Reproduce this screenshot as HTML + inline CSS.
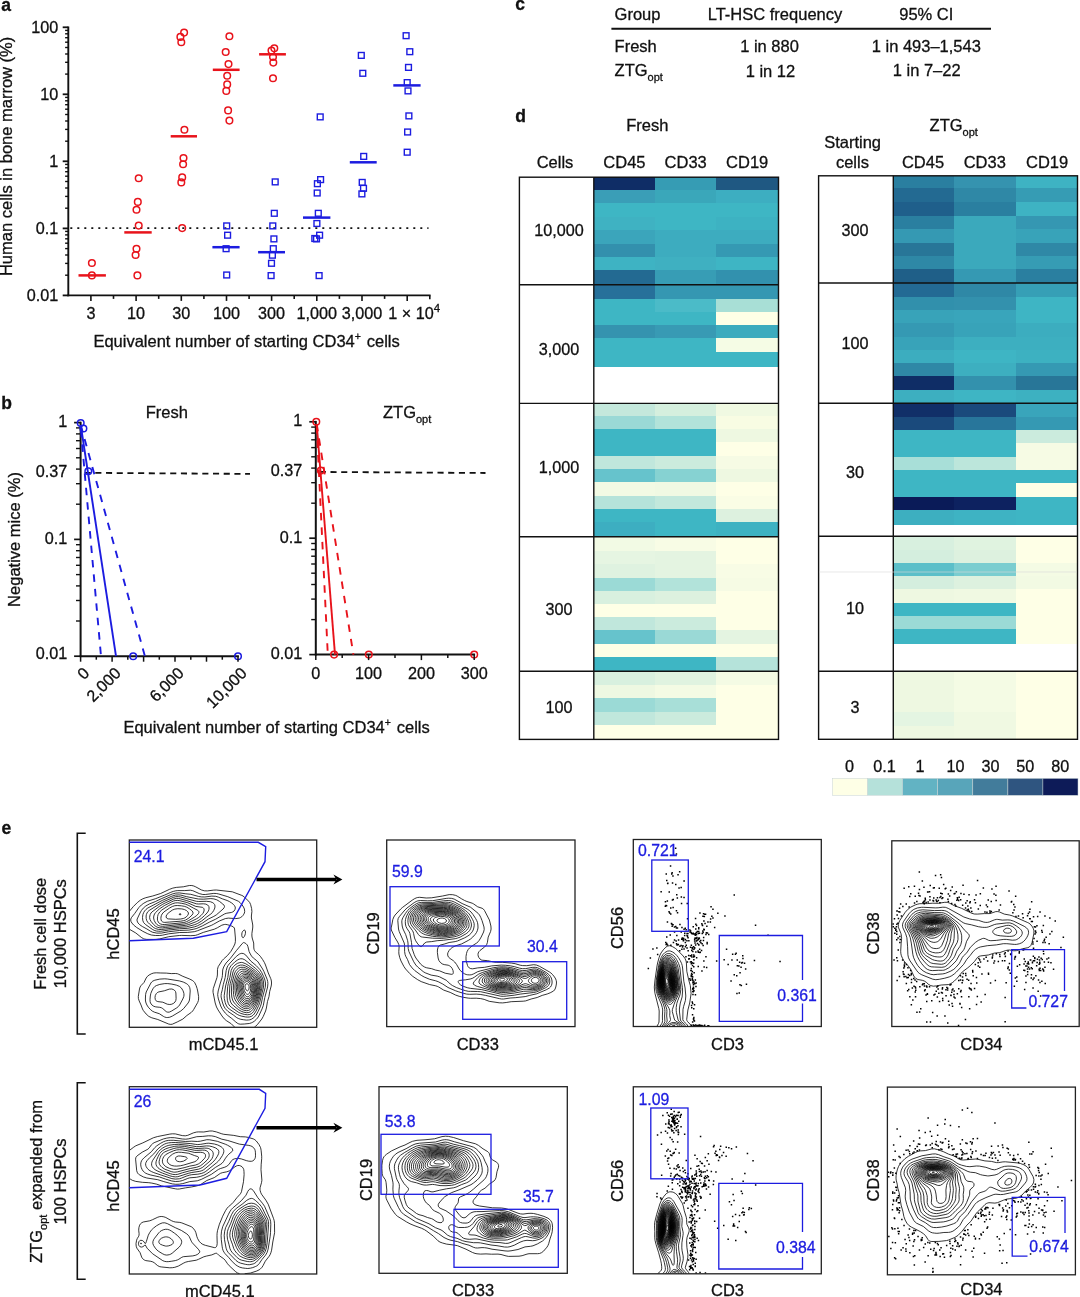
<!DOCTYPE html>
<html><head><meta charset="utf-8"><title>Figure</title>
<style>html,body{margin:0;padding:0;background:#fff}svg{display:block}text{font-family:"Liberation Sans",sans-serif;stroke-width:.3px}</style>
</head><body>
<svg width="1080" height="1297" viewBox="0 0 1080 1297">
<rect width="1080" height="1297" fill="#fff"/>
<g id="panel-a">
<text x="1.3" y="10.5" font-size="17.5" text-anchor="start" fill="#111" font-weight="bold"  stroke="#111">a</text>
<line x1="68.3" y1="26.4" x2="68.3" y2="296.3" stroke="#111" stroke-width="1.9" />
<line x1="67.4" y1="295.4" x2="430.6" y2="295.4" stroke="#111" stroke-width="1.9" />
<line x1="62.7" y1="27.3" x2="68.3" y2="27.3" stroke="#111" stroke-width="1.8" />
<line x1="65.1" y1="74.1" x2="68.3" y2="74.1" stroke="#111" stroke-width="1.4" />
<line x1="65.1" y1="62.3" x2="68.3" y2="62.3" stroke="#111" stroke-width="1.4" />
<line x1="65.1" y1="54" x2="68.3" y2="54" stroke="#111" stroke-width="1.4" />
<line x1="65.1" y1="47.5" x2="68.3" y2="47.5" stroke="#111" stroke-width="1.4" />
<line x1="65.1" y1="42.2" x2="68.3" y2="42.2" stroke="#111" stroke-width="1.4" />
<line x1="65.1" y1="37.7" x2="68.3" y2="37.7" stroke="#111" stroke-width="1.4" />
<line x1="65.1" y1="33.8" x2="68.3" y2="33.8" stroke="#111" stroke-width="1.4" />
<line x1="65.1" y1="30.4" x2="68.3" y2="30.4" stroke="#111" stroke-width="1.4" />
<line x1="62.7" y1="94.3" x2="68.3" y2="94.3" stroke="#111" stroke-width="1.8" />
<line x1="65.1" y1="141.2" x2="68.3" y2="141.2" stroke="#111" stroke-width="1.4" />
<line x1="65.1" y1="129.4" x2="68.3" y2="129.4" stroke="#111" stroke-width="1.4" />
<line x1="65.1" y1="121" x2="68.3" y2="121" stroke="#111" stroke-width="1.4" />
<line x1="65.1" y1="114.5" x2="68.3" y2="114.5" stroke="#111" stroke-width="1.4" />
<line x1="65.1" y1="109.2" x2="68.3" y2="109.2" stroke="#111" stroke-width="1.4" />
<line x1="65.1" y1="104.7" x2="68.3" y2="104.7" stroke="#111" stroke-width="1.4" />
<line x1="65.1" y1="100.8" x2="68.3" y2="100.8" stroke="#111" stroke-width="1.4" />
<line x1="65.1" y1="97.4" x2="68.3" y2="97.4" stroke="#111" stroke-width="1.4" />
<line x1="62.7" y1="161.3" x2="68.3" y2="161.3" stroke="#111" stroke-width="1.8" />
<line x1="65.1" y1="208.2" x2="68.3" y2="208.2" stroke="#111" stroke-width="1.4" />
<line x1="65.1" y1="196.4" x2="68.3" y2="196.4" stroke="#111" stroke-width="1.4" />
<line x1="65.1" y1="188" x2="68.3" y2="188" stroke="#111" stroke-width="1.4" />
<line x1="65.1" y1="181.5" x2="68.3" y2="181.5" stroke="#111" stroke-width="1.4" />
<line x1="65.1" y1="176.2" x2="68.3" y2="176.2" stroke="#111" stroke-width="1.4" />
<line x1="65.1" y1="171.7" x2="68.3" y2="171.7" stroke="#111" stroke-width="1.4" />
<line x1="65.1" y1="167.8" x2="68.3" y2="167.8" stroke="#111" stroke-width="1.4" />
<line x1="65.1" y1="164.4" x2="68.3" y2="164.4" stroke="#111" stroke-width="1.4" />
<line x1="62.7" y1="228.4" x2="68.3" y2="228.4" stroke="#111" stroke-width="1.8" />
<line x1="65.1" y1="275.2" x2="68.3" y2="275.2" stroke="#111" stroke-width="1.4" />
<line x1="65.1" y1="263.4" x2="68.3" y2="263.4" stroke="#111" stroke-width="1.4" />
<line x1="65.1" y1="255" x2="68.3" y2="255" stroke="#111" stroke-width="1.4" />
<line x1="65.1" y1="248.6" x2="68.3" y2="248.6" stroke="#111" stroke-width="1.4" />
<line x1="65.1" y1="243.2" x2="68.3" y2="243.2" stroke="#111" stroke-width="1.4" />
<line x1="65.1" y1="238.8" x2="68.3" y2="238.8" stroke="#111" stroke-width="1.4" />
<line x1="65.1" y1="234.9" x2="68.3" y2="234.9" stroke="#111" stroke-width="1.4" />
<line x1="65.1" y1="231.4" x2="68.3" y2="231.4" stroke="#111" stroke-width="1.4" />
<line x1="62.7" y1="295.4" x2="68.3" y2="295.4" stroke="#111" stroke-width="1.8" />
<text x="58.2" y="32.7" font-size="16.2" text-anchor="end" fill="#111"  stroke="#111">100</text>
<text x="58.2" y="99.7" font-size="16.2" text-anchor="end" fill="#111"  stroke="#111">10</text>
<text x="58.2" y="166.8" font-size="16.2" text-anchor="end" fill="#111"  stroke="#111">1</text>
<text x="58.2" y="233.8" font-size="16.2" text-anchor="end" fill="#111"  stroke="#111">0.1</text>
<text x="58.2" y="300.8" font-size="16.2" text-anchor="end" fill="#111"  stroke="#111">0.01</text>
<line x1="90.9" y1="295.4" x2="90.9" y2="300.9" stroke="#111" stroke-width="1.6" />
<line x1="113.5" y1="295.4" x2="113.5" y2="298.9" stroke="#111" stroke-width="1.6" />
<line x1="136.1" y1="295.4" x2="136.1" y2="300.9" stroke="#111" stroke-width="1.6" />
<line x1="158.7" y1="295.4" x2="158.7" y2="298.9" stroke="#111" stroke-width="1.6" />
<line x1="181.3" y1="295.4" x2="181.3" y2="300.9" stroke="#111" stroke-width="1.6" />
<line x1="203.9" y1="295.4" x2="203.9" y2="298.9" stroke="#111" stroke-width="1.6" />
<line x1="226.5" y1="295.4" x2="226.5" y2="300.9" stroke="#111" stroke-width="1.6" />
<line x1="249.1" y1="295.4" x2="249.1" y2="298.9" stroke="#111" stroke-width="1.6" />
<line x1="271.6" y1="295.4" x2="271.6" y2="300.9" stroke="#111" stroke-width="1.6" />
<line x1="294.2" y1="295.4" x2="294.2" y2="298.9" stroke="#111" stroke-width="1.6" />
<line x1="316.8" y1="295.4" x2="316.8" y2="300.9" stroke="#111" stroke-width="1.6" />
<line x1="339.4" y1="295.4" x2="339.4" y2="298.9" stroke="#111" stroke-width="1.6" />
<line x1="362" y1="295.4" x2="362" y2="300.9" stroke="#111" stroke-width="1.6" />
<line x1="384.6" y1="295.4" x2="384.6" y2="298.9" stroke="#111" stroke-width="1.6" />
<line x1="407.2" y1="295.4" x2="407.2" y2="300.9" stroke="#111" stroke-width="1.6" />
<line x1="429.8" y1="295.4" x2="429.8" y2="299.2" stroke="#111" stroke-width="1.6" />
<text x="90.9" y="319.4" font-size="16.2" text-anchor="middle" fill="#111"  stroke="#111">3</text>
<text x="136.1" y="319.4" font-size="16.2" text-anchor="middle" fill="#111"  stroke="#111">10</text>
<text x="181.3" y="319.4" font-size="16.2" text-anchor="middle" fill="#111"  stroke="#111">30</text>
<text x="226.5" y="319.4" font-size="16.2" text-anchor="middle" fill="#111"  stroke="#111">100</text>
<text x="271.6" y="319.4" font-size="16.2" text-anchor="middle" fill="#111"  stroke="#111">300</text>
<text x="316.8" y="319.4" font-size="16.2" text-anchor="middle" fill="#111"  stroke="#111">1,000</text>
<text x="362" y="319.4" font-size="16.2" text-anchor="middle" fill="#111"  stroke="#111">3,000</text>
<text x="388.3" y="319.4" font-size="16.2" fill="#111" stroke="#111">1 × 10<tspan dy="-7" font-size="11.5">4</tspan></text>
<text x="93.4" y="347.2" font-size="16.5" fill="#111" stroke="#111">Equivalent number of starting CD34<tspan dy="-7" font-size="10.5">+</tspan><tspan dy="7" dx="1.2" font-size="16.5"> cells</tspan></text>
<text transform="translate(12.2 156.4) rotate(-90)" font-size="16.5" text-anchor="middle" fill="#111" stroke="#111">Human cells in bone marrow (%)</text>
<line x1="70.3" y1="228.2" x2="428.5" y2="228.2" stroke="#111" stroke-width="1.8" stroke-dasharray="2 5"/>
<g fill="none" stroke="#e8131b" stroke-width="1.5">
<circle cx="91.9" cy="263" r="3.3"/>
<circle cx="91.9" cy="275.4" r="3.3"/>
<circle cx="138.7" cy="178.3" r="3.3"/>
<circle cx="137.8" cy="201.9" r="3.3"/>
<circle cx="136.5" cy="209.8" r="3.3"/>
<circle cx="138.7" cy="225.6" r="3.3"/>
<circle cx="136.5" cy="248.7" r="3.3"/>
<circle cx="135.6" cy="255" r="3.3"/>
<circle cx="137.4" cy="275.4" r="3.3"/>
<circle cx="184.1" cy="32.6" r="3.3"/>
<circle cx="180.4" cy="36.9" r="3.3"/>
<circle cx="181.3" cy="42.2" r="3.3"/>
<circle cx="184.4" cy="129.8" r="3.3"/>
<circle cx="183.5" cy="158" r="3.3"/>
<circle cx="183.1" cy="164.3" r="3.3"/>
<circle cx="182.2" cy="177.4" r="3.3"/>
<circle cx="181.3" cy="182.4" r="3.3"/>
<circle cx="182.2" cy="228.1" r="3.3"/>
<circle cx="229.4" cy="36.3" r="3.3"/>
<circle cx="225.7" cy="52" r="3.3"/>
<circle cx="228.5" cy="64.1" r="3.3"/>
<circle cx="227.2" cy="75.7" r="3.3"/>
<circle cx="227.2" cy="84.4" r="3.3"/>
<circle cx="226.3" cy="90.9" r="3.3"/>
<circle cx="228.1" cy="110.4" r="3.3"/>
<circle cx="229.4" cy="120.6" r="3.3"/>
<circle cx="274.3" cy="48.3" r="3.3"/>
<circle cx="271.5" cy="50.5" r="3.3"/>
<circle cx="273" cy="57" r="3.3"/>
<circle cx="273.3" cy="62.6" r="3.3"/>
<circle cx="273" cy="78.3" r="3.3"/>
</g>
<line x1="78.5" y1="275.4" x2="105.9" y2="275.4" stroke="#e8131b" stroke-width="2.5" />
<line x1="124.3" y1="232.4" x2="151.7" y2="232.4" stroke="#e8131b" stroke-width="2.5" />
<line x1="170.7" y1="136.3" x2="197" y2="136.3" stroke="#e8131b" stroke-width="2.5" />
<line x1="212.8" y1="69.8" x2="239.6" y2="69.8" stroke="#e8131b" stroke-width="2.5" />
<line x1="259.1" y1="54.3" x2="285.9" y2="54.3" stroke="#e8131b" stroke-width="2.5" />
<g fill="none" stroke="#1c1ce0" stroke-width="1.4">
<rect x="223.8" y="223" width="5.8" height="5.8"/>
<rect x="224.7" y="232.3" width="5.8" height="5.8"/>
<rect x="223.2" y="245.8" width="5.8" height="5.8"/>
<rect x="223.8" y="272.1" width="5.8" height="5.8"/>
<rect x="272.3" y="179" width="5.8" height="5.8"/>
<rect x="271.4" y="210.4" width="5.8" height="5.8"/>
<rect x="269.9" y="223" width="5.8" height="5.8"/>
<rect x="271" y="236" width="5.8" height="5.8"/>
<rect x="270.4" y="245.8" width="5.8" height="5.8"/>
<rect x="269.5" y="252.3" width="5.8" height="5.8"/>
<rect x="268.6" y="260.4" width="5.8" height="5.8"/>
<rect x="268.2" y="272.7" width="5.8" height="5.8"/>
<rect x="317.3" y="114" width="5.8" height="5.8"/>
<rect x="317.7" y="176.7" width="5.8" height="5.8"/>
<rect x="314.5" y="180.8" width="5.8" height="5.8"/>
<rect x="314.3" y="190.1" width="5.8" height="5.8"/>
<rect x="315.4" y="210.4" width="5.8" height="5.8"/>
<rect x="314" y="220.6" width="5.8" height="5.8"/>
<rect x="316.7" y="232.3" width="5.8" height="5.8"/>
<rect x="313.6" y="236" width="5.8" height="5.8"/>
<rect x="311.9" y="235.6" width="5.8" height="5.8"/>
<rect x="316.2" y="272.7" width="5.8" height="5.8"/>
<rect x="358.4" y="52.5" width="5.8" height="5.8"/>
<rect x="359.9" y="70.4" width="5.8" height="5.8"/>
<rect x="360.8" y="153.5" width="5.8" height="5.8"/>
<rect x="359.3" y="179.5" width="5.8" height="5.8"/>
<rect x="360.6" y="185.4" width="5.8" height="5.8"/>
<rect x="359" y="191" width="5.8" height="5.8"/>
<rect x="403.2" y="32.8" width="5.8" height="5.8"/>
<rect x="406.9" y="48.8" width="5.8" height="5.8"/>
<rect x="405.6" y="64.5" width="5.8" height="5.8"/>
<rect x="404.3" y="79.7" width="5.8" height="5.8"/>
<rect x="405.1" y="88" width="5.8" height="5.8"/>
<rect x="406" y="113" width="5.8" height="5.8"/>
<rect x="404.7" y="129.1" width="5.8" height="5.8"/>
<rect x="404.3" y="149.3" width="5.8" height="5.8"/>
</g>
<line x1="212.4" y1="247.2" x2="239.6" y2="247.2" stroke="#1c1ce0" stroke-width="2.5" />
<line x1="258.1" y1="252.2" x2="285" y2="252.2" stroke="#1c1ce0" stroke-width="2.5" />
<line x1="303" y1="217.6" x2="330.4" y2="217.6" stroke="#1c1ce0" stroke-width="2.5" />
<line x1="349.8" y1="162.3" x2="376.7" y2="162.3" stroke="#1c1ce0" stroke-width="2.5" />
<line x1="393.3" y1="85.4" x2="420.6" y2="85.4" stroke="#1c1ce0" stroke-width="2.5" />
</g>
<g id="panel-b">
<text x="1.3" y="408.5" font-size="17.5" text-anchor="start" fill="#111" font-weight="bold"  stroke="#111">b</text>
<line x1="80.6" y1="421.7" x2="80.6" y2="657.1" stroke="#111" stroke-width="2" />
<line x1="79.7" y1="656.2" x2="238.9" y2="656.2" stroke="#111" stroke-width="2" />
<line x1="74.1" y1="422.6" x2="80.6" y2="422.6" stroke="#111" stroke-width="1.7" />
<line x1="76" y1="504.2" x2="80.6" y2="504.2" stroke="#111" stroke-width="1.4" />
<line x1="76" y1="483.7" x2="80.6" y2="483.7" stroke="#111" stroke-width="1.4" />
<line x1="76" y1="469.1" x2="80.6" y2="469.1" stroke="#111" stroke-width="1.4" />
<line x1="76" y1="457.8" x2="80.6" y2="457.8" stroke="#111" stroke-width="1.4" />
<line x1="76" y1="448.5" x2="80.6" y2="448.5" stroke="#111" stroke-width="1.4" />
<line x1="76" y1="440.7" x2="80.6" y2="440.7" stroke="#111" stroke-width="1.4" />
<line x1="76" y1="433.9" x2="80.6" y2="433.9" stroke="#111" stroke-width="1.4" />
<line x1="76" y1="427.9" x2="80.6" y2="427.9" stroke="#111" stroke-width="1.4" />
<line x1="74.1" y1="539.4" x2="80.6" y2="539.4" stroke="#111" stroke-width="1.7" />
<line x1="76" y1="621" x2="80.6" y2="621" stroke="#111" stroke-width="1.4" />
<line x1="76" y1="600.5" x2="80.6" y2="600.5" stroke="#111" stroke-width="1.4" />
<line x1="76" y1="585.9" x2="80.6" y2="585.9" stroke="#111" stroke-width="1.4" />
<line x1="76" y1="574.6" x2="80.6" y2="574.6" stroke="#111" stroke-width="1.4" />
<line x1="76" y1="565.3" x2="80.6" y2="565.3" stroke="#111" stroke-width="1.4" />
<line x1="76" y1="557.5" x2="80.6" y2="557.5" stroke="#111" stroke-width="1.4" />
<line x1="76" y1="550.7" x2="80.6" y2="550.7" stroke="#111" stroke-width="1.4" />
<line x1="76" y1="544.7" x2="80.6" y2="544.7" stroke="#111" stroke-width="1.4" />
<line x1="74.1" y1="656.2" x2="80.6" y2="656.2" stroke="#111" stroke-width="1.7" />
<text x="67.3" y="427" font-size="16.2" text-anchor="end" fill="#111"  stroke="#111">1</text>
<text x="67.3" y="477.2" font-size="16.2" text-anchor="end" fill="#111"  stroke="#111">0.37</text>
<text x="67.3" y="543.8" font-size="16.2" text-anchor="end" fill="#111"  stroke="#111">0.1</text>
<text x="67.3" y="659.2" font-size="16.2" text-anchor="end" fill="#111"  stroke="#111">0.01</text>
<line x1="81.6" y1="472.8" x2="250" y2="473.9" stroke="#111" stroke-width="1.8" stroke-dasharray="6.1 4.6" stroke-dashoffset="-3"/>
<line x1="80.7" y1="425" x2="116" y2="656.2" stroke="#1c1ce0" stroke-width="1.9" />
<line x1="80.9" y1="430" x2="101" y2="656.2" stroke="#1c1ce0" stroke-width="1.9" stroke-dasharray="7.5 7"/>
<line x1="80.7" y1="425" x2="144.9" y2="656.2" stroke="#1c1ce0" stroke-width="1.9" stroke-dasharray="7.5 7"/>
<g fill="none" stroke="#1c1ce0" stroke-width="1.5">
<circle cx="80.7" cy="423" r="3.3"/>
<circle cx="83.4" cy="428.5" r="3.3"/>
<circle cx="88.3" cy="471.2" r="3.3"/>
<circle cx="133.2" cy="656.2" r="3.3"/>
<circle cx="238" cy="656.2" r="3.3"/>
</g>
<line x1="80.6" y1="656.2" x2="80.6" y2="661.7" stroke="#111" stroke-width="1.5" />
<line x1="96.3" y1="656.2" x2="96.3" y2="659.7" stroke="#111" stroke-width="1.5" />
<line x1="112.1" y1="656.2" x2="112.1" y2="661.7" stroke="#111" stroke-width="1.5" />
<line x1="127.8" y1="656.2" x2="127.8" y2="659.7" stroke="#111" stroke-width="1.5" />
<line x1="143.6" y1="656.2" x2="143.6" y2="661.7" stroke="#111" stroke-width="1.5" />
<line x1="159.3" y1="656.2" x2="159.3" y2="659.7" stroke="#111" stroke-width="1.5" />
<line x1="175" y1="656.2" x2="175" y2="661.7" stroke="#111" stroke-width="1.5" />
<line x1="190.8" y1="656.2" x2="190.8" y2="659.7" stroke="#111" stroke-width="1.5" />
<line x1="206.5" y1="656.2" x2="206.5" y2="661.7" stroke="#111" stroke-width="1.5" />
<line x1="222.3" y1="656.2" x2="222.3" y2="659.7" stroke="#111" stroke-width="1.5" />
<line x1="238" y1="656.2" x2="238" y2="661.7" stroke="#111" stroke-width="1.5" />
<text transform="translate(90.4 674.2) rotate(-45)" font-size="16.2" text-anchor="end" fill="#111" stroke="#111">0</text>
<text transform="translate(121.9 674.2) rotate(-45)" font-size="16.2" text-anchor="end" fill="#111" stroke="#111">2,000</text>
<text transform="translate(184.8 674.2) rotate(-45)" font-size="16.2" text-anchor="end" fill="#111" stroke="#111">6,000</text>
<text transform="translate(247.8 674.2) rotate(-45)" font-size="16.2" text-anchor="end" fill="#111" stroke="#111">10,000</text>
<text x="166.8" y="417.8" font-size="16.5" text-anchor="middle" fill="#111"  stroke="#111">Fresh</text>
<line x1="315.8" y1="420.9" x2="315.8" y2="655.5" stroke="#111" stroke-width="2" />
<line x1="314.9" y1="654.6" x2="475.1" y2="654.6" stroke="#111" stroke-width="2" />
<line x1="309.3" y1="421.8" x2="315.8" y2="421.8" stroke="#111" stroke-width="1.7" />
<line x1="311.2" y1="503.2" x2="315.8" y2="503.2" stroke="#111" stroke-width="1.4" />
<line x1="311.2" y1="482.7" x2="315.8" y2="482.7" stroke="#111" stroke-width="1.4" />
<line x1="311.2" y1="468.1" x2="315.8" y2="468.1" stroke="#111" stroke-width="1.4" />
<line x1="311.2" y1="456.8" x2="315.8" y2="456.8" stroke="#111" stroke-width="1.4" />
<line x1="311.2" y1="447.6" x2="315.8" y2="447.6" stroke="#111" stroke-width="1.4" />
<line x1="311.2" y1="439.8" x2="315.8" y2="439.8" stroke="#111" stroke-width="1.4" />
<line x1="311.2" y1="433.1" x2="315.8" y2="433.1" stroke="#111" stroke-width="1.4" />
<line x1="311.2" y1="427.1" x2="315.8" y2="427.1" stroke="#111" stroke-width="1.4" />
<line x1="309.3" y1="538.2" x2="315.8" y2="538.2" stroke="#111" stroke-width="1.7" />
<line x1="311.2" y1="619.6" x2="315.8" y2="619.6" stroke="#111" stroke-width="1.4" />
<line x1="311.2" y1="599.1" x2="315.8" y2="599.1" stroke="#111" stroke-width="1.4" />
<line x1="311.2" y1="584.5" x2="315.8" y2="584.5" stroke="#111" stroke-width="1.4" />
<line x1="311.2" y1="573.2" x2="315.8" y2="573.2" stroke="#111" stroke-width="1.4" />
<line x1="311.2" y1="564" x2="315.8" y2="564" stroke="#111" stroke-width="1.4" />
<line x1="311.2" y1="556.2" x2="315.8" y2="556.2" stroke="#111" stroke-width="1.4" />
<line x1="311.2" y1="549.5" x2="315.8" y2="549.5" stroke="#111" stroke-width="1.4" />
<line x1="311.2" y1="543.5" x2="315.8" y2="543.5" stroke="#111" stroke-width="1.4" />
<line x1="309.3" y1="654.6" x2="315.8" y2="654.6" stroke="#111" stroke-width="1.7" />
<text x="302.2" y="426.2" font-size="16.2" text-anchor="end" fill="#111"  stroke="#111">1</text>
<text x="302.2" y="476.3" font-size="16.2" text-anchor="end" fill="#111"  stroke="#111">0.37</text>
<text x="302.2" y="542.6" font-size="16.2" text-anchor="end" fill="#111"  stroke="#111">0.1</text>
<text x="302.2" y="658.8" font-size="16.2" text-anchor="end" fill="#111"  stroke="#111">0.01</text>
<line x1="316.8" y1="471.9" x2="485.5" y2="473" stroke="#111" stroke-width="1.8" stroke-dasharray="6.1 4.6" stroke-dashoffset="-3"/>
<line x1="316.7" y1="424" x2="335" y2="654.6" stroke="#e8131b" stroke-width="1.9" />
<line x1="316.7" y1="426" x2="327.8" y2="654.6" stroke="#e8131b" stroke-width="1.9" stroke-dasharray="7.5 7"/>
<line x1="316.7" y1="424" x2="353.4" y2="654.6" stroke="#e8131b" stroke-width="1.9" stroke-dasharray="7.5 7"/>
<g fill="none" stroke="#e8131b" stroke-width="1.5">
<circle cx="316.3" cy="421.8" r="3.3"/>
<circle cx="320.8" cy="470.6" r="3.3"/>
<circle cx="334.1" cy="654.6" r="3.3"/>
<circle cx="368.8" cy="654.6" r="3.3"/>
<circle cx="474.2" cy="654.6" r="3.3"/>
</g>
<line x1="315.8" y1="654.6" x2="315.8" y2="660.1" stroke="#111" stroke-width="1.5" />
<line x1="342.2" y1="654.6" x2="342.2" y2="658.1" stroke="#111" stroke-width="1.5" />
<line x1="368.6" y1="654.6" x2="368.6" y2="660.1" stroke="#111" stroke-width="1.5" />
<line x1="395" y1="654.6" x2="395" y2="658.1" stroke="#111" stroke-width="1.5" />
<line x1="421.4" y1="654.6" x2="421.4" y2="660.1" stroke="#111" stroke-width="1.5" />
<line x1="447.8" y1="654.6" x2="447.8" y2="658.1" stroke="#111" stroke-width="1.5" />
<line x1="474.2" y1="654.6" x2="474.2" y2="660.1" stroke="#111" stroke-width="1.5" />
<text x="315.8" y="678.8" font-size="16.2" text-anchor="middle" fill="#111"  stroke="#111">0</text>
<text x="368.6" y="678.8" font-size="16.2" text-anchor="middle" fill="#111"  stroke="#111">100</text>
<text x="421.4" y="678.8" font-size="16.2" text-anchor="middle" fill="#111"  stroke="#111">200</text>
<text x="474.2" y="678.8" font-size="16.2" text-anchor="middle" fill="#111"  stroke="#111">300</text>
<text x="383" y="417.8" font-size="16.5" fill="#111" stroke="#111">ZTG<tspan dy="5.2" font-size="11">opt</tspan></text>
<text x="123.4" y="733.4" font-size="16.5" fill="#111" stroke="#111">Equivalent number of starting CD34<tspan dy="-7" font-size="10.5">+</tspan><tspan dy="7" dx="1.2" font-size="16.5"> cells</tspan></text>
<text transform="translate(19.6 539.5) rotate(-90)" font-size="16.5" text-anchor="middle" fill="#111" stroke="#111">Negative mice (%)</text>
</g>
<g id="panel-c">
<text x="515.2" y="10.3" font-size="17.5" text-anchor="start" fill="#111" font-weight="bold"  stroke="#111">c</text>
<text x="614.6" y="20.3" font-size="16.5" text-anchor="start" fill="#111"  stroke="#111">Group</text>
<text x="775" y="20.3" font-size="16.5" text-anchor="middle" fill="#111"  stroke="#111">LT-HSC frequency</text>
<text x="926.3" y="20.3" font-size="16.5" text-anchor="middle" fill="#111"  stroke="#111">95% CI</text>
<line x1="611.4" y1="28.7" x2="991" y2="28.7" stroke="#111" stroke-width="2" />
<text x="614.6" y="51.6" font-size="16.5" text-anchor="start" fill="#111"  stroke="#111">Fresh</text>
<text x="769.5" y="52" font-size="16.5" text-anchor="middle" fill="#111"  stroke="#111">1 in 880</text>
<text x="926.3" y="51.8" font-size="16.5" text-anchor="middle" fill="#111"  stroke="#111">1 in 493–1,543</text>
<text x="614.6" y="76" font-size="16.5" fill="#111" stroke="#111">ZTG<tspan dy="5.2" font-size="11">opt</tspan></text>
<text x="770.4" y="76.5" font-size="16.5" text-anchor="middle" fill="#111"  stroke="#111">1 in 12</text>
<text x="926.7" y="75.6" font-size="16.5" text-anchor="middle" fill="#111"  stroke="#111">1 in 7–22</text>
</g><g id="panel-d">
<text x="515.2" y="121.5" font-size="17.5" text-anchor="start" fill="#111" font-weight="bold"  stroke="#111">d</text>
<text x="647.3" y="130.9" font-size="16.5" text-anchor="middle" fill="#111"  stroke="#111">Fresh</text>
<text x="555" y="168.1" font-size="16.5" text-anchor="middle" fill="#111"  stroke="#111">Cells</text>
<text x="624.4" y="168.1" font-size="16.5" text-anchor="middle" fill="#111"  stroke="#111">CD45</text>
<text x="685.7" y="168.1" font-size="16.5" text-anchor="middle" fill="#111"  stroke="#111">CD33</text>
<text x="747.2" y="168.1" font-size="16.5" text-anchor="middle" fill="#111"  stroke="#111">CD19</text>
<text x="929.6" y="130.9" font-size="16.5" fill="#111" stroke="#111">ZTG<tspan dy="5.2" font-size="11">opt</tspan></text>
<text x="852.6" y="147.8" font-size="16.5" text-anchor="middle" fill="#111"  stroke="#111">Starting</text>
<text x="852.4" y="168.1" font-size="16.5" text-anchor="middle" fill="#111"  stroke="#111">cells</text>
<text x="923" y="168.1" font-size="16.5" text-anchor="middle" fill="#111"  stroke="#111">CD45</text>
<text x="984.8" y="168.1" font-size="16.5" text-anchor="middle" fill="#111"  stroke="#111">CD33</text>
<text x="1047.1" y="168.1" font-size="16.5" text-anchor="middle" fill="#111"  stroke="#111">CD19</text>
<g shape-rendering="crispEdges">
<rect x="593.8" y="177.2" width="61.8" height="13.2" fill="#0F2D66"/>
<rect x="655" y="177.2" width="61.8" height="13.2" fill="#369CB4"/>
<rect x="716.2" y="177.2" width="62.9" height="13.2" fill="#1F5882"/>
<rect x="593.8" y="189.8" width="61.8" height="14.1" fill="#3A9EB7"/>
<rect x="655" y="189.8" width="61.8" height="14.1" fill="#3AA7BA"/>
<rect x="716.2" y="189.8" width="62.9" height="14.1" fill="#3DAEC1"/>
<rect x="593.8" y="203.3" width="61.8" height="14" fill="#3EB6C4"/>
<rect x="655" y="203.3" width="61.8" height="14" fill="#3EB6C4"/>
<rect x="716.2" y="203.3" width="62.9" height="14" fill="#3EB6C4"/>
<rect x="593.8" y="216.7" width="61.8" height="14.1" fill="#3FB2C2"/>
<rect x="655" y="216.7" width="61.8" height="14.1" fill="#3EB6C4"/>
<rect x="716.2" y="216.7" width="62.9" height="14.1" fill="#3DB2C2"/>
<rect x="593.8" y="230.2" width="61.8" height="14.1" fill="#3BA5BB"/>
<rect x="655" y="230.2" width="61.8" height="14.1" fill="#3DACBF"/>
<rect x="716.2" y="230.2" width="62.9" height="14.1" fill="#3DACBF"/>
<rect x="593.8" y="243.7" width="61.8" height="13.9" fill="#3390AD"/>
<rect x="655" y="243.7" width="61.8" height="13.9" fill="#3DACBF"/>
<rect x="716.2" y="243.7" width="62.9" height="13.9" fill="#3599B3"/>
<rect x="593.8" y="257" width="61.8" height="14" fill="#3EB3C3"/>
<rect x="655" y="257" width="61.8" height="14" fill="#3FB0C1"/>
<rect x="716.2" y="257" width="62.9" height="14" fill="#3EB5C4"/>
<rect x="593.8" y="270.4" width="61.8" height="15" fill="#236A92"/>
<rect x="655" y="270.4" width="61.8" height="15" fill="#379DB5"/>
<rect x="716.2" y="270.4" width="62.9" height="15" fill="#3291AE"/>
<rect x="593.8" y="284.8" width="61.8" height="14.3" fill="#27709A"/>
<rect x="655" y="284.8" width="61.8" height="14.3" fill="#3597B2"/>
<rect x="716.2" y="284.8" width="62.9" height="14.3" fill="#3597B2"/>
<rect x="593.8" y="298.5" width="61.8" height="14" fill="#3EB6C4"/>
<rect x="655" y="298.5" width="61.8" height="14" fill="#4BBBC8"/>
<rect x="716.2" y="298.5" width="62.9" height="14" fill="#A8DFD6"/>
<rect x="593.8" y="311.9" width="61.8" height="14.1" fill="#3EB6C4"/>
<rect x="655" y="311.9" width="61.8" height="14.1" fill="#3EB6C4"/>
<rect x="716.2" y="311.9" width="62.9" height="14.1" fill="#FEFFE6"/>
<rect x="593.8" y="325.4" width="61.8" height="13.5" fill="#3593AF"/>
<rect x="655" y="325.4" width="61.8" height="13.5" fill="#389AB4"/>
<rect x="716.2" y="325.4" width="62.9" height="13.5" fill="#3CABBE"/>
<rect x="593.8" y="338.3" width="61.8" height="14.2" fill="#3EB6C4"/>
<rect x="655" y="338.3" width="61.8" height="14.2" fill="#3EB6C4"/>
<rect x="716.2" y="338.3" width="62.9" height="14.2" fill="#F5FCE5"/>
<rect x="593.8" y="351.9" width="61.8" height="14.8" fill="#3EB6C4"/>
<rect x="655" y="351.9" width="61.8" height="14.8" fill="#3EB6C4"/>
<rect x="716.2" y="351.9" width="62.9" height="14.8" fill="#3EB6C4"/>
<rect x="593.8" y="403.4" width="61.8" height="13.1" fill="#C4E8DC"/>
<rect x="655" y="403.4" width="61.8" height="13.1" fill="#D5EFDE"/>
<rect x="716.2" y="403.4" width="62.9" height="13.1" fill="#F0F9E2"/>
<rect x="593.8" y="415.9" width="61.8" height="14" fill="#9AD9D6"/>
<rect x="655" y="415.9" width="61.8" height="14" fill="#B2E3DA"/>
<rect x="716.2" y="415.9" width="62.9" height="14" fill="#F8FCE3"/>
<rect x="593.8" y="429.3" width="61.8" height="13.5" fill="#3EB6C4"/>
<rect x="655" y="429.3" width="61.8" height="13.5" fill="#3EB6C4"/>
<rect x="716.2" y="429.3" width="62.9" height="13.5" fill="#EEF8E1"/>
<rect x="593.8" y="442.2" width="61.8" height="14.1" fill="#3EB6C4"/>
<rect x="655" y="442.2" width="61.8" height="14.1" fill="#3EB6C4"/>
<rect x="716.2" y="442.2" width="62.9" height="14.1" fill="#FEFFE6"/>
<rect x="593.8" y="455.7" width="61.8" height="14" fill="#C0E7DC"/>
<rect x="655" y="455.7" width="61.8" height="14" fill="#CBEBDD"/>
<rect x="716.2" y="455.7" width="62.9" height="14" fill="#F6FBE4"/>
<rect x="593.8" y="469.1" width="61.8" height="13.5" fill="#66C3CC"/>
<rect x="655" y="469.1" width="61.8" height="13.5" fill="#86D2D2"/>
<rect x="716.2" y="469.1" width="62.9" height="13.5" fill="#EEF8E1"/>
<rect x="593.8" y="482" width="61.8" height="14.2" fill="#F2FAE4"/>
<rect x="655" y="482" width="61.8" height="14.2" fill="#F0F9E3"/>
<rect x="716.2" y="482" width="62.9" height="14.2" fill="#FEFFE6"/>
<rect x="593.8" y="495.6" width="61.8" height="13.9" fill="#B5E3DA"/>
<rect x="655" y="495.6" width="61.8" height="13.9" fill="#C2E8DC"/>
<rect x="716.2" y="495.6" width="62.9" height="13.9" fill="#FAFDE5"/>
<rect x="593.8" y="508.9" width="61.8" height="13.6" fill="#3EB6C4"/>
<rect x="655" y="508.9" width="61.8" height="13.6" fill="#3EB6C4"/>
<rect x="716.2" y="508.9" width="62.9" height="13.6" fill="#DDF1DF"/>
<rect x="593.8" y="521.9" width="61.8" height="15.5" fill="#3DAEC1"/>
<rect x="655" y="521.9" width="61.8" height="15.5" fill="#3EB6C4"/>
<rect x="716.2" y="521.9" width="62.9" height="15.5" fill="#3DB2C2"/>
<rect x="593.8" y="536.8" width="61.8" height="14.7" fill="#F2FAE4"/>
<rect x="655" y="536.8" width="61.8" height="14.7" fill="#F8FCE5"/>
<rect x="716.2" y="536.8" width="62.9" height="14.7" fill="#FEFFE6"/>
<rect x="593.8" y="550.9" width="61.8" height="14" fill="#E6F5E2"/>
<rect x="655" y="550.9" width="61.8" height="14" fill="#E4F4E1"/>
<rect x="716.2" y="550.9" width="62.9" height="14" fill="#FEFFE6"/>
<rect x="593.8" y="564.3" width="61.8" height="14.1" fill="#DFF2E0"/>
<rect x="655" y="564.3" width="61.8" height="14.1" fill="#E4F4E1"/>
<rect x="716.2" y="564.3" width="62.9" height="14.1" fill="#F8FCE5"/>
<rect x="593.8" y="577.8" width="61.8" height="13.5" fill="#9BDAD6"/>
<rect x="655" y="577.8" width="61.8" height="13.5" fill="#B2E3DA"/>
<rect x="716.2" y="577.8" width="62.9" height="13.5" fill="#F6FBE4"/>
<rect x="593.8" y="590.7" width="61.8" height="13.6" fill="#D8F0DF"/>
<rect x="655" y="590.7" width="61.8" height="13.6" fill="#DDF1DF"/>
<rect x="716.2" y="590.7" width="62.9" height="13.6" fill="#FEFFE6"/>
<rect x="593.8" y="603.7" width="61.8" height="14.1" fill="#FEFFE6"/>
<rect x="655" y="603.7" width="61.8" height="14.1" fill="#FEFFE6"/>
<rect x="716.2" y="603.7" width="62.9" height="14.1" fill="#FEFFE6"/>
<rect x="593.8" y="617.2" width="61.8" height="13.6" fill="#C0E7DC"/>
<rect x="655" y="617.2" width="61.8" height="13.6" fill="#CBEBDD"/>
<rect x="716.2" y="617.2" width="62.9" height="13.6" fill="#FEFFE6"/>
<rect x="593.8" y="630.2" width="61.8" height="13.9" fill="#66C3CC"/>
<rect x="655" y="630.2" width="61.8" height="13.9" fill="#9AD9D6"/>
<rect x="716.2" y="630.2" width="62.9" height="13.9" fill="#E4F4E1"/>
<rect x="593.8" y="643.5" width="61.8" height="14" fill="#FEFFE6"/>
<rect x="655" y="643.5" width="61.8" height="14" fill="#FEFFE6"/>
<rect x="716.2" y="643.5" width="62.9" height="14" fill="#FEFFE6"/>
<rect x="593.8" y="656.9" width="61.8" height="15" fill="#3EB6C4"/>
<rect x="655" y="656.9" width="61.8" height="15" fill="#3EB6C4"/>
<rect x="716.2" y="656.9" width="62.9" height="15" fill="#B5E3DA"/>
<rect x="593.8" y="671.3" width="61.8" height="14.1" fill="#D8F0DF"/>
<rect x="655" y="671.3" width="61.8" height="14.1" fill="#E0F3E0"/>
<rect x="716.2" y="671.3" width="62.9" height="14.1" fill="#F4FBE4"/>
<rect x="593.8" y="684.8" width="61.8" height="13.5" fill="#EEF8E2"/>
<rect x="655" y="684.8" width="61.8" height="13.5" fill="#F4FBE4"/>
<rect x="716.2" y="684.8" width="62.9" height="13.5" fill="#FEFFE6"/>
<rect x="593.8" y="697.7" width="61.8" height="14.6" fill="#9BDAD6"/>
<rect x="655" y="697.7" width="61.8" height="14.6" fill="#A8DFD8"/>
<rect x="716.2" y="697.7" width="62.9" height="14.6" fill="#FEFFE6"/>
<rect x="593.8" y="711.7" width="61.8" height="13.5" fill="#C0E7DC"/>
<rect x="655" y="711.7" width="61.8" height="13.5" fill="#CBEBDD"/>
<rect x="716.2" y="711.7" width="62.9" height="13.5" fill="#FEFFE6"/>
<rect x="593.8" y="724.6" width="61.8" height="15.4" fill="#FEFFE6"/>
<rect x="655" y="724.6" width="61.8" height="15.4" fill="#FEFFE6"/>
<rect x="716.2" y="724.6" width="62.9" height="15.4" fill="#FEFFE6"/>
<rect x="893.3" y="175.8" width="61.6" height="13.1" fill="#2A7FA0"/>
<rect x="954.3" y="175.8" width="62.1" height="13.1" fill="#3593AF"/>
<rect x="1015.8" y="175.8" width="62.3" height="13.1" fill="#3EB3C3"/>
<rect x="893.3" y="188.3" width="61.6" height="14.1" fill="#236A92"/>
<rect x="954.3" y="188.3" width="62.1" height="14.1" fill="#2F88A6"/>
<rect x="1015.8" y="188.3" width="62.3" height="14.1" fill="#369CB4"/>
<rect x="893.3" y="201.8" width="61.6" height="14.3" fill="#1F5F8B"/>
<rect x="954.3" y="201.8" width="62.1" height="14.3" fill="#2A7FA0"/>
<rect x="1015.8" y="201.8" width="62.3" height="14.3" fill="#3EB3C3"/>
<rect x="893.3" y="215.5" width="61.6" height="13.9" fill="#2A7FA0"/>
<rect x="954.3" y="215.5" width="62.1" height="13.9" fill="#3BA9BC"/>
<rect x="1015.8" y="215.5" width="62.3" height="13.9" fill="#3597B2"/>
<rect x="893.3" y="228.8" width="61.6" height="14.3" fill="#3599B3"/>
<rect x="954.3" y="228.8" width="62.1" height="14.3" fill="#3BA9BC"/>
<rect x="1015.8" y="228.8" width="62.3" height="14.3" fill="#38A3B9"/>
<rect x="893.3" y="242.5" width="61.6" height="13.6" fill="#287698"/>
<rect x="954.3" y="242.5" width="62.1" height="13.6" fill="#3BA9BC"/>
<rect x="1015.8" y="242.5" width="62.3" height="13.6" fill="#2F88A6"/>
<rect x="893.3" y="255.5" width="61.6" height="13.9" fill="#2E88A6"/>
<rect x="954.3" y="255.5" width="62.1" height="13.9" fill="#3BA9BC"/>
<rect x="1015.8" y="255.5" width="62.3" height="13.9" fill="#369CB4"/>
<rect x="893.3" y="268.8" width="61.6" height="14.8" fill="#1F5F88"/>
<rect x="954.3" y="268.8" width="62.1" height="14.8" fill="#3599B3"/>
<rect x="1015.8" y="268.8" width="62.3" height="14.8" fill="#2A7FA0"/>
<rect x="893.3" y="283" width="61.6" height="14.4" fill="#236A94"/>
<rect x="954.3" y="283" width="62.1" height="14.4" fill="#2F88A6"/>
<rect x="1015.8" y="283" width="62.3" height="14.4" fill="#369FB6"/>
<rect x="893.3" y="296.8" width="61.6" height="13.8" fill="#3190AC"/>
<rect x="954.3" y="296.8" width="62.1" height="13.8" fill="#3391AD"/>
<rect x="1015.8" y="296.8" width="62.3" height="13.8" fill="#3EB5C4"/>
<rect x="893.3" y="310" width="61.6" height="13.6" fill="#38A3B9"/>
<rect x="954.3" y="310" width="62.1" height="13.6" fill="#39A5BB"/>
<rect x="1015.8" y="310" width="62.3" height="13.6" fill="#3EB5C4"/>
<rect x="893.3" y="323" width="61.6" height="14.4" fill="#3599B3"/>
<rect x="954.3" y="323" width="62.1" height="14.4" fill="#38A3B9"/>
<rect x="1015.8" y="323" width="62.3" height="14.4" fill="#3CADBF"/>
<rect x="893.3" y="336.8" width="61.6" height="13.8" fill="#38A3B9"/>
<rect x="954.3" y="336.8" width="62.1" height="13.8" fill="#3DAFC0"/>
<rect x="1015.8" y="336.8" width="62.3" height="13.8" fill="#3DAFC0"/>
<rect x="893.3" y="350" width="61.6" height="13.9" fill="#3CADBF"/>
<rect x="954.3" y="350" width="62.1" height="13.9" fill="#3EB5C4"/>
<rect x="1015.8" y="350" width="62.3" height="13.9" fill="#3DB1C1"/>
<rect x="893.3" y="363.3" width="61.6" height="13.6" fill="#2F88A6"/>
<rect x="954.3" y="363.3" width="62.1" height="13.6" fill="#3DAFC0"/>
<rect x="1015.8" y="363.3" width="62.3" height="13.6" fill="#3599B3"/>
<rect x="893.3" y="376.3" width="61.6" height="14.3" fill="#0F2D66"/>
<rect x="954.3" y="376.3" width="62.1" height="14.3" fill="#3391AD"/>
<rect x="1015.8" y="376.3" width="62.3" height="14.3" fill="#287698"/>
<rect x="893.3" y="390" width="61.6" height="13.9" fill="#3DAFC0"/>
<rect x="954.3" y="390" width="62.1" height="13.9" fill="#3EB5C4"/>
<rect x="1015.8" y="390" width="62.3" height="13.9" fill="#3DB1C1"/>
<rect x="893.3" y="403.3" width="61.6" height="14.1" fill="#112F68"/>
<rect x="954.3" y="403.3" width="62.1" height="14.1" fill="#1A4A7C"/>
<rect x="1015.8" y="403.3" width="62.3" height="14.1" fill="#39A5BB"/>
<rect x="893.3" y="416.8" width="61.6" height="13.8" fill="#1A4A7C"/>
<rect x="954.3" y="416.8" width="62.1" height="13.8" fill="#28769B"/>
<rect x="1015.8" y="416.8" width="62.3" height="13.8" fill="#3599B3"/>
<rect x="893.3" y="430" width="61.6" height="13.9" fill="#3EB6C4"/>
<rect x="954.3" y="430" width="62.1" height="13.9" fill="#3EB6C4"/>
<rect x="1015.8" y="430" width="62.3" height="13.9" fill="#CBEBDD"/>
<rect x="893.3" y="443.3" width="61.6" height="14.1" fill="#3EB6C4"/>
<rect x="954.3" y="443.3" width="62.1" height="14.1" fill="#3EB6C4"/>
<rect x="1015.8" y="443.3" width="62.3" height="14.1" fill="#F6FBE4"/>
<rect x="893.3" y="456.8" width="61.6" height="13.8" fill="#A8DFD8"/>
<rect x="954.3" y="456.8" width="62.1" height="13.8" fill="#BCE6DB"/>
<rect x="1015.8" y="456.8" width="62.3" height="13.8" fill="#F6FBE4"/>
<rect x="893.3" y="470" width="61.6" height="13.9" fill="#3EB6C4"/>
<rect x="954.3" y="470" width="62.1" height="13.9" fill="#3EB6C4"/>
<rect x="1015.8" y="470" width="62.3" height="13.9" fill="#3EB6C4"/>
<rect x="893.3" y="483.3" width="61.6" height="14.1" fill="#3EB6C4"/>
<rect x="954.3" y="483.3" width="62.1" height="14.1" fill="#3EB6C4"/>
<rect x="1015.8" y="483.3" width="62.3" height="14.1" fill="#FEFFE6"/>
<rect x="893.3" y="496.8" width="61.6" height="13.8" fill="#0A1B58"/>
<rect x="954.3" y="496.8" width="62.1" height="13.8" fill="#0D2260"/>
<rect x="1015.8" y="496.8" width="62.3" height="13.8" fill="#3EB6C4"/>
<rect x="893.3" y="510" width="61.6" height="15.1" fill="#3DAFC0"/>
<rect x="954.3" y="510" width="62.1" height="15.1" fill="#3EB3C3"/>
<rect x="1015.8" y="510" width="62.3" height="15.1" fill="#3EB5C4"/>
<rect x="893.3" y="536.3" width="61.6" height="13.8" fill="#D8F0DF"/>
<rect x="954.3" y="536.3" width="62.1" height="13.8" fill="#E0F3E0"/>
<rect x="1015.8" y="536.3" width="62.3" height="13.8" fill="#FEFFE6"/>
<rect x="893.3" y="549.5" width="61.6" height="13.6" fill="#D4EEDE"/>
<rect x="954.3" y="549.5" width="62.1" height="13.6" fill="#DDF1DF"/>
<rect x="1015.8" y="549.5" width="62.3" height="13.6" fill="#FEFFE6"/>
<rect x="893.3" y="562.5" width="61.6" height="13.9" fill="#5BBFC9"/>
<rect x="954.3" y="562.5" width="62.1" height="13.9" fill="#7ACDD0"/>
<rect x="1015.8" y="562.5" width="62.3" height="13.9" fill="#F4FBE4"/>
<rect x="893.3" y="575.8" width="61.6" height="14.1" fill="#D4EEDE"/>
<rect x="954.3" y="575.8" width="62.1" height="14.1" fill="#DDF1DF"/>
<rect x="1015.8" y="575.8" width="62.3" height="14.1" fill="#F2FAE3"/>
<rect x="893.3" y="589.3" width="61.6" height="13.8" fill="#EEF8E1"/>
<rect x="954.3" y="589.3" width="62.1" height="13.8" fill="#F0F9E2"/>
<rect x="1015.8" y="589.3" width="62.3" height="13.8" fill="#FEFFE6"/>
<rect x="893.3" y="602.5" width="61.6" height="13.9" fill="#3EB6C4"/>
<rect x="954.3" y="602.5" width="62.1" height="13.9" fill="#3EB6C4"/>
<rect x="1015.8" y="602.5" width="62.3" height="13.9" fill="#FEFFE6"/>
<rect x="893.3" y="615.8" width="61.6" height="14.1" fill="#9BDAD6"/>
<rect x="954.3" y="615.8" width="62.1" height="14.1" fill="#9BDAD6"/>
<rect x="1015.8" y="615.8" width="62.3" height="14.1" fill="#FEFFE6"/>
<rect x="893.3" y="629.3" width="61.6" height="14.3" fill="#3EB6C4"/>
<rect x="954.3" y="629.3" width="62.1" height="14.3" fill="#3EB6C4"/>
<rect x="1015.8" y="629.3" width="62.3" height="14.3" fill="#FEFFE6"/>
<rect x="893.3" y="671.3" width="61.6" height="14.2" fill="#EEF8E1"/>
<rect x="954.3" y="671.3" width="62.1" height="14.2" fill="#F4FBE4"/>
<rect x="1015.8" y="671.3" width="62.3" height="14.2" fill="#FEFFE6"/>
<rect x="893.3" y="684.9" width="61.6" height="14.2" fill="#EEF8E1"/>
<rect x="954.3" y="684.9" width="62.1" height="14.2" fill="#F4FBE4"/>
<rect x="1015.8" y="684.9" width="62.3" height="14.2" fill="#FEFFE6"/>
<rect x="893.3" y="698.5" width="61.6" height="14.2" fill="#EEF8E1"/>
<rect x="954.3" y="698.5" width="62.1" height="14.2" fill="#F4FBE4"/>
<rect x="1015.8" y="698.5" width="62.3" height="14.2" fill="#FEFFE6"/>
<rect x="893.3" y="712.1" width="61.6" height="14.2" fill="#E4F5E2"/>
<rect x="954.3" y="712.1" width="62.1" height="14.2" fill="#F0F9E2"/>
<rect x="1015.8" y="712.1" width="62.3" height="14.2" fill="#FEFFE6"/>
<rect x="893.3" y="725.7" width="61.6" height="14.2" fill="#EEF8E1"/>
<rect x="954.3" y="725.7" width="62.1" height="14.2" fill="#F0F9E2"/>
<rect x="1015.8" y="725.7" width="62.3" height="14.2" fill="#FEFFE6"/>
</g>
<rect x="519.4" y="177.2" width="259.1" height="562.2" fill="none" stroke="#111" stroke-width="1.4"/>
<line x1="593.8" y1="177.2" x2="593.8" y2="739.4" stroke="#111" stroke-width="1.4" />
<line x1="519.4" y1="284.8" x2="778.5" y2="284.8" stroke="#111" stroke-width="1.4" />
<line x1="519.4" y1="403.4" x2="778.5" y2="403.4" stroke="#111" stroke-width="1.4" />
<line x1="519.4" y1="536.8" x2="778.5" y2="536.8" stroke="#111" stroke-width="1.4" />
<line x1="519.4" y1="671.3" x2="778.5" y2="671.3" stroke="#111" stroke-width="1.4" />
<rect x="818.6" y="175.8" width="258.9" height="563.5" fill="none" stroke="#111" stroke-width="1.4"/>
<line x1="893.3" y1="175.8" x2="893.3" y2="739.3" stroke="#111" stroke-width="1.4" />
<line x1="818.6" y1="283" x2="1077.5" y2="283" stroke="#111" stroke-width="1.4" />
<line x1="818.6" y1="403.3" x2="1077.5" y2="403.3" stroke="#111" stroke-width="1.4" />
<line x1="818.6" y1="536.3" x2="1077.5" y2="536.3" stroke="#111" stroke-width="1.4" />
<line x1="818.6" y1="671.3" x2="1077.5" y2="671.3" stroke="#111" stroke-width="1.4" />
<line x1="819.5" y1="572" x2="1076.5" y2="572" stroke="#d8d8d8" stroke-width="0.6" />
<text x="559" y="235.8" font-size="16.2" text-anchor="middle" fill="#111"  stroke="#111">10,000</text>
<text x="559" y="354.5" font-size="16.2" text-anchor="middle" fill="#111"  stroke="#111">3,000</text>
<text x="559" y="472.8" font-size="16.2" text-anchor="middle" fill="#111"  stroke="#111">1,000</text>
<text x="559" y="614.8" font-size="16.2" text-anchor="middle" fill="#111"  stroke="#111">300</text>
<text x="559" y="713.2" font-size="16.2" text-anchor="middle" fill="#111"  stroke="#111">100</text>
<text x="855" y="235.5" font-size="16.2" text-anchor="middle" fill="#111"  stroke="#111">300</text>
<text x="855" y="348.8" font-size="16.2" text-anchor="middle" fill="#111"  stroke="#111">100</text>
<text x="855" y="477.5" font-size="16.2" text-anchor="middle" fill="#111"  stroke="#111">30</text>
<text x="855" y="613.8" font-size="16.2" text-anchor="middle" fill="#111"  stroke="#111">10</text>
<text x="855" y="712.5" font-size="16.2" text-anchor="middle" fill="#111"  stroke="#111">3</text>
<rect x="832.5" y="778.4" width="35.1" height="16.9" fill="#FEFFE6" stroke="#c8d4d4" stroke-width="0.5"/>
<rect x="867.6" y="778.4" width="35.1" height="16.9" fill="#B5E1DA" stroke="#c8d4d4" stroke-width="0.5"/>
<rect x="902.6" y="778.4" width="35.1" height="16.9" fill="#62B3C3" stroke="#c8d4d4" stroke-width="0.5"/>
<rect x="937.7" y="778.4" width="35.1" height="16.9" fill="#58A5BA" stroke="#c8d4d4" stroke-width="0.5"/>
<rect x="972.8" y="778.4" width="35.1" height="16.9" fill="#427C9B" stroke="#c8d4d4" stroke-width="0.5"/>
<rect x="1007.9" y="778.4" width="35.1" height="16.9" fill="#2F5580" stroke="#c8d4d4" stroke-width="0.5"/>
<rect x="1042.9" y="778.4" width="35.1" height="16.9" fill="#0D1B58" stroke="#c8d4d4" stroke-width="0.5"/>
<text x="849.4" y="771.8" font-size="16.2" text-anchor="middle" fill="#111"  stroke="#111">0</text>
<text x="884.5" y="771.8" font-size="16.2" text-anchor="middle" fill="#111"  stroke="#111">0.1</text>
<text x="919.9" y="771.8" font-size="16.2" text-anchor="middle" fill="#111"  stroke="#111">1</text>
<text x="955.5" y="771.8" font-size="16.2" text-anchor="middle" fill="#111"  stroke="#111">10</text>
<text x="990.4" y="771.8" font-size="16.2" text-anchor="middle" fill="#111"  stroke="#111">30</text>
<text x="1025.3" y="771.8" font-size="16.2" text-anchor="middle" fill="#111"  stroke="#111">50</text>
<text x="1060.2" y="771.8" font-size="16.2" text-anchor="middle" fill="#111"  stroke="#111">80</text>
</g>
<g id="panel-e">
<text x="1.5" y="834.2" font-size="17.5" text-anchor="start" fill="#111" font-weight="bold"  stroke="#111">e</text>
<path d="M85.7 833.3H77.3V1034H85.7" fill="none" stroke="#111" stroke-width="1.6"/>
<path d="M85.7 1082.7H77.3V1279.3H85.7" fill="none" stroke="#111" stroke-width="1.6"/>
<text transform="translate(45.5 933.7) rotate(-90)" font-size="16.5" text-anchor="middle" fill="#111" stroke="#111">Fresh cell dose</text>
<text transform="translate(65.6 933.7) rotate(-90)" font-size="16.5" text-anchor="middle" fill="#111" stroke="#111">10,000 HSPCs</text>
<text transform="translate(42.2 1181.5) rotate(-90)" font-size="16.5" text-anchor="middle" fill="#111" stroke="#111">ZTG<tspan dy="5.2" font-size="11">opt</tspan><tspan dy="-5.2" font-size="16.5"> expanded from</tspan></text>
<text transform="translate(65.5 1181.5) rotate(-90)" font-size="16.5" text-anchor="middle" fill="#111" stroke="#111">100 HSPCs</text>
<clipPath id="c11"><rect x="129.3" y="840" width="187.4" height="187.3"/></clipPath>
<g clip-path="url(#c11)">
<path d="M129.3 911.4l4.1 -4.9l3.9 -3.9l3 -2.4l2.5 -1.4l3 -1.1l6.9 -1.7l8 -2.5l8.6 -4.1l3.5 -1.3l3.5 -0.7l7 -0.6l6 -1.3l2.5 0l2 0.5l2 0.9l5.5 3l3 0.9l3 0.1l6.5 -0.8l2.5 -0.1l16 1.8l9.5 3.6l1.2 0.6l1.2 1l4.6 4.3l0.9 1.2l0.9 2l1 4l0.3 3l-0.5 4.5l0 2l1.2 6l0.2 2l-0.1 2l-0.8 5.5l0 2.5l0.3 2l1.5 5l0.1 5l0.3 1.5l0.4 1l0.8 1.2l3.5 3l1.5 1.6l2.3 3.2l1.8 3l1.1 2.5l2.8 8l2.4 5.5l0.5 1.5l0.3 2l0 2l-0.3 2l-1.5 5.5l-0.7 5l-1.5 5l-1.1 6.5l-0.8 3l-2.4 5.5l-1.4 2.5l-4.5 5.7l-1.5 1.4l-1.3 0.9M234.5 1027l-3.2 -3.2l-5 -3.2l-2 -1.7l-2.3 -2.9l-3.9 -6l-1.6 -3l-1.3 -4l-2.1 -10.5l-0.1 -1.5l0.3 -2.5l3.7 -11l0.4 -2.5l0.1 -5.5l0.3 -1.5l0.5 -1.5l3.9 -6l1.4 -1.5l3.9 -3.5l3.3 -4l2.4 -4l1.7 -3.5l0.5 -2.5l0 -3.5l-0.8 -9l-0.3 -1l-0.8 -1l-1.7 -0.9l-4 -1.3l-2 -0.4l-1.5 0.1l-2.5 0.7l-4.5 2.6l-3 1.4l-11 3.2l-6 2.4l-2 0.6l-4.5 0.3l-9 -0.3l-2.5 0.1l-10.5 1.2l-9 2.2l-3 0.4l-3 0.1l-7 0l-2 -0.3l-1.5 -0.5l-2 -1.2l-5.5 -4.4l-6.5 -3.8M172.3 1024.2l-1.5 0.2l-2 -0.3l-11 -4.6l-6 -1.7l-3 -1.4l-2.7 -2.4l-2.8 -3.5l-0.8 -1.5l-1.5 -4l-1.8 -4l-0.8 -2.5l-0.1 -2l1.2 -7.5l0.6 -2l1 -1.5l2.9 -3l2.2 -4.5l1.1 -1.5l1.8 -1.5l2.7 -1.4l2 -0.6l2.5 -0.2l4.5 0.2l5.5 0.1l5 0.5l4 -0.1l2 0.2l1.5 0.6l4 2l7 2.8l2.5 1.3l1.4 1.1l0.9 1l1.5 3l1 3l0.6 2.5l0.9 5.5l0 2.5l-0.2 1.5l-0.7 2l-4 7l-1 1.5l-1.4 1.4l-4.4 3.1l-4.1 3.6l-5.6 2.9zM159.8 935.5l-4.5 0l-4 -0.5l-3.5 -1.2l-5 -2.5l-6.1 -3.8l-3.1 -2.5l-1.7 -2l-0.9 -1.5l-0.3 -1.5l0.1 -1l0.7 -1.5l3.2 -4l4.2 -6l2.4 -2.5l2.5 -1.8l3.5 -1.9l8.5 -2.7l9 -3.6l6 -2.7l2.5 -0.9l2.5 -0.6l2 -0.2l7 0l5.5 -0.4l2.5 0.5l6.5 2.9l3.5 0.9l2.5 0l8.5 -1.1l2.5 0.1l2.5 0.5l9 2.7l10.5 4.5l1.7 1.3l1.8 2l1.7 2.5l0.9 2l0.3 2.5l-0.3 1.5l-0.6 1.2l-1 1.5l-1 1l-1.2 0.8l-1.3 0.6l-3.5 0.5l-7.5 -0.5l-3 0.5l-6 2.4l-6 3.4l-2 1l-14 5.4l-3 0.9l-6.5 0.7l-8 0.1l-11 1.3l-6.5 1.4zM243.3 937.7l-0.5 0l-0.6 -0.7l-0.4 -1.3l0 -1.7l0.3 -1.5l0.7 -1.3l1 -1l0.5 -0.2l0.5 0.2l0.5 0.8l0.2 1l-0.1 1.5l-0.4 1.5l-0.7 1.5zM244.3 1024l-4 0.2l-1.5 -0.3l-1 -0.4l-2 -1.5l-4 -3.5l-4 -3l-2.5 -2.4l-2.8 -3.6l-1.8 -3.5l-2.3 -7l-0.5 -2.5l-0.2 -2l0.5 -3.5l1.9 -7l2 -6.5l0.3 -2l0.3 -5.5l0.6 -2l0.9 -2l1.9 -3l4.2 -4.5l6 -7.8l6 -7.2l1 -0.9l0.5 0l1 0.3l1 0.6l1.5 1.5l0.6 1.5l1.2 5l1.2 2.5l1.2 2l1.8 2l3.5 2.7l1.3 1.3l4.5 7l1.3 2.5l3.3 8l0.5 2l0.2 2l-0.3 3.5l-2.8 10.5l-1.5 8l-1.3 3.5l-3.2 7l-1.3 2l-1.3 1.5l-1.9 1.7l-1.5 1l-1.5 0.7l-2 0.6zM167.8 1017.5l-1.5 0l-1.7 -0.5l-1.3 -0.7l-4 -2.6l-5 -1.6l-2 -1l-2 -1.7l-2 -2.2l-1.4 -2.2l-0.9 -2l-0.5 -2l-0.1 -2l0.2 -4.5l0.6 -2.5l4.7 -9l0.9 -1.1l1 -0.8l2 -0.9l5 -1.1l5 -0.3l2.5 0.2l12 1.9l3.9 1.1l3.1 1.5l1.4 1l0.9 1l1.1 2l0.3 1.5l0.2 2l-0.6 8l-0.4 2l-1.1 2l-4.4 5.5l-2.9 2.5l-8.5 5.1l-2.5 1.1zM161.3 933.1l-4.5 0l-4 -0.8l-2 -0.9l-3.9 -2.4l-4.6 -2.5l-2.5 -1.7l-1.8 -1.8l-0.9 -2l-0.1 -1l0.2 -1l2.8 -6l1.4 -2.5l1.9 -2.4l2.5 -2.1l3.5 -2l6 -2.4l6.5 -3.1l10.5 -4.5l3.5 -0.9l3.5 -0.2l6.5 0.9l5 0.5l7.5 2.1l3 0.5l3.5 0.1l7 -0.9l4 0.2l2.5 0.8l4 1.7l4.8 1.7l2.2 1l2.4 1.5l1.8 1.5l0.9 1l0.8 1.5l0.1 1l-0.3 1.5l-0.9 1.5l-1.3 0.9l-1.5 0.6l-4.5 0.7l-2 0.6l-9 5.3l-6.5 3.1l-7.1 3.8l-5.4 2.4l-3 0.8l-5 0.9l-9.5 0.4l-11 1.3zM248.3 1020l-2 0.1l-3 -0.4l-2.5 -0.4l-2 -0.6l-2 -1l-3.5 -2.7l-5.5 -3.7l-2.5 -2.6l-1.6 -2.7l-1.4 -4l-1.2 -5l0 -1.5l0.2 -2l1 -3.8l1 -5.2l1.9 -7l1 -7l1 -3.5l0.9 -1.5l1.1 -1.5l7.1 -7.6l3 -2.3l1.5 -0.6l1 -0.2l2 0.4l2 1.4l4.9 5.9l5.6 4.7l3.5 3.8l1.9 3l1.9 4l1.3 3.5l0.6 3l0 2l-0.3 2.5l-2.7 10l-1.3 6.5l-0.8 2.5l-2.3 5l-1.9 3.5l-2.4 2.7l-2.5 1.6l-1.5 0.5zM169.3 1012.1l-1.5 0.1l-1.5 -0.5l-3.5 -3.1l-1.5 -0.9l-1.5 -0.4l-4 -0.4l-2 -0.6l-2 -1.4l-1.3 -1.9l-0.4 -1.5l-0.1 -2l0.3 -3.5l0.5 -2.5l1 -2.5l1.5 -2.8l1.5 -1.7l1.5 -0.9l3.5 -1.2l5 -0.8l3 0l4 0.5l4.5 1l3 1.2l2 1.6l1.5 2.4l0.7 1.7l0.4 1.5l0.1 1.5l-0.2 1.5l-1 2.5l-3.2 6l-1.2 1.5l-1.6 1.3l-5.5 3.4zM162.8 931l-2.5 0.3l-2 -0.1l-2 -0.2l-2 -0.6l-2 -1.1l-6.8 -4.8l-1.9 -2l-0.8 -2l-0.3 -3l0.4 -3l0.8 -2l0.9 -1.5l1.3 -1.5l1.9 -1.5l14.5 -7.6l9.5 -4.2l3.5 -1.1l3.5 -0.2l2 0.2l5.5 1.5l12 2.4l5 0.2l7.5 -0.6l3 0.3l3 0.9l2.8 1.7l3.2 2.5l1 1l0.6 1l0.1 0.5l-0.3 1l-1.1 1.5l-6.8 5.9l-2.5 1.5l-5.5 2.7l-6.4 4.4l-4.6 2.4l-3 1l-6.5 1.4l-8.5 0.5l-11 1.3zM249.3 1017l-2 0.1l-2 -0.2l-3.5 -0.7l-2.5 -0.8l-2 -1l-8 -5.3l-2 -2l-1.2 -2.1l-0.9 -2.5l-0.9 -4l-0.1 -3l1.4 -9.5l2.2 -8.5l0.9 -6.5l0.7 -2.5l0.8 -1.5l1 -1.5l3.6 -3.6l3 -2.1l1.5 -0.7l1.5 -0.4l2 0.2l2 0.9l10.5 8.4l2.5 2.3l2 2.4l1.6 2.6l1.4 3.5l0.7 3l0.2 3l-0.4 3l-3.6 14.5l-1 3l-2.6 5.5l-1.9 3l-0.9 1l-1.5 1.2zM169.8 1004.5l-2.5 -0.3l-4.5 -2l-5 -0.6l-1.5 -0.7l-0.5 -0.4l-0.5 -1l-0.3 -2l0.3 -2l1 -1.9l1 -1l1.5 -0.7l5.5 -1.1l5 -1.7l2.5 -0.1l1.5 0.5l1 0.6l1.2 1.4l0.4 1.5l0.2 5.5l-0.3 2l-0.8 1.5l-1.2 1.2l-2 1zM161.3 929.5l-3 -0.1l-3 -0.9l-2 -1.2l-3.8 -3.3l-1.7 -1.7l-1.1 -1.8l-0.5 -2l-0.1 -2.5l0.3 -1.5l0.6 -1.5l0.8 -1.3l1.3 -1.2l10.7 -6.7l4.2 -2.3l9.3 -4.1l2.5 -0.7l2.5 -0.1l2.5 0.4l15.5 4.3l2.5 0.2l7.5 -0.2l4 0.4l2.5 1l1 0.8l0.8 1l0.4 1.5l-0.2 2l-1.1 2.5l-1.3 2l-1.6 1.5l-4 2.9l-5.2 4.1l-4.3 2.6l-2.5 1l-8 2.2l-7 0.5zM249.8 1014.5l-2.5 0.3l-3 -0.4l-3.5 -1l-2.5 -1.2l-6.7 -4.7l-1.7 -1.5l-0.8 -1l-0.8 -1.5l-0.9 -3l-0.4 -4.5l0.7 -9.5l0.6 -3l1.6 -6l1.3 -7l1.1 -2.5l1.2 -1.5l1.3 -1.3l2.5 -1.8l2.5 -0.8l1.5 -0.2l1.5 0.2l3 1.2l3 1.9l6.5 4.9l2.5 2.4l1.9 2.5l1.5 3l0.8 3l0.3 3l-0.4 3.5l-1.8 8l-2.1 7l-1.7 3.8l-2.7 4.7l-1.8 2zM165.3 927.5l-3 0.4l-2.5 -0.1l-2 -0.4l-1.9 -0.9l-2.3 -2l-2.5 -3l-1.1 -2l-0.4 -2l0.2 -1.5l0.4 -1.5l0.8 -1.5l0.9 -1l7.3 -5.5l3.1 -2l3 -1.6l8.5 -3.9l2.5 -0.6l2 0l2 0.4l6.5 1.8l9.5 3.2l2 0.2l5 -0.2l2.5 0.3l1.9 0.9l1.1 1.4l0.3 1.6l-0.2 1.5l-0.5 1.5l-1.4 2l-2.4 2.5l-2.8 2.5l-2.6 2l-2.6 1.5l-7.8 3l-3 0.8zM248.8 1012.5l-2.5 0.2l-2.5 -0.5l-2.5 -0.9l-2.5 -1.4l-5 -3.9l-2 -2l-1.2 -2l-0.8 -3l-0.4 -5l0.4 -8l0.4 -2.5l1.4 -5l1.4 -6.5l1.1 -2.5l1.7 -2.1l2 -1.4l2.5 -0.9l2.5 0l3 1l3 1.7l5.5 3.9l2.5 2.3l1.9 2.5l1.3 2.5l0.7 2.5l0.3 3.5l-0.3 3.5l-1.5 7l-1.8 5.5l-1.8 4l-2.8 4.5l-2 2.1zM165.8 926l-3 0.3l-2.5 -0.2l-1.9 -0.6l-1.5 -1l-1.3 -1.5l-1.4 -2.5l-0.6 -2.5l0.2 -2l0.7 -2l1.1 -1.5l3.7 -3.5l5 -3.4l7 -3.6l2.5 -1.1l2 -0.4l2 -0.1l2 0.3l7.5 1.9l8.5 3.8l6.5 0.9l1 0.6l0.5 0.6l0.4 1.5l-0.5 2l-0.9 1.5l-1.8 2l-2.2 1.9l-2 1.3l-8 3.9l-2.3 0.9l-2.3 0.5zM248.3 1010.5l-2 0.2l-2.5 -0.5l-2.5 -1l-2.5 -1.8l-3.1 -2.9l-2.1 -2.5l-1 -2l-0.8 -3l-0.4 -5l0.3 -6.5l0.4 -2.5l2.3 -9l1 -2.5l1.5 -2l1.9 -1.5l2 -0.7l2.5 0l2.5 0.7l3.5 1.9l4 2.7l2.5 2.2l1.8 2.2l1.3 2.5l0.7 2.5l0.2 3.5l-0.3 3.5l-1.3 6.5l-1.4 4.2l-1.8 3.8l-2.7 3.9l-2 2.1zM164.8 924.5l-2.1 0l-1.9 -0.4l-1.5 -0.8l-1 -1.2l-0.7 -1.6l-0.2 -1.5l0.2 -2.5l0.5 -2l1.6 -2.5l2.1 -2l7 -4.5l4 -1.9l2.5 -0.7l2.5 -0.1l4 0.5l3.5 0.8l3.5 1.4l5 2.8l3.4 1.7l1.1 0.8l0.5 0.7l0.1 1l-0.4 1l-1.8 2l-2.1 1.5l-5.8 3.5l-2.5 1.3l-2.5 0.7l-3.8 0.5zM247.8 1008.6l-2 0.1l-2 -0.4l-2.5 -1.3l-2 -1.7l-2.1 -2.3l-2 -3l-1 -2.5l-0.6 -3l-0.3 -4l0.2 -5.5l0.5 -3l1.9 -6.5l1 -2.5l1.4 -1.9l1.5 -1.2l2 -0.7l2.5 0.1l2.5 0.9l3.5 1.9l3 2.1l2 1.9l1.5 1.9l1 2l0.7 2.5l0.3 3.5l-0.3 3.5l-1.1 5.5l-1.3 4l-1.8 3.4l-2.5 3.4l-2 1.9zM169.8 922l-5 0.4l-1.5 -0.2l-1 -0.5l-0.8 -0.7l-0.4 -1l-0.2 -1.5l0.1 -1.5l0.4 -1.5l0.7 -1.5l1.7 -2l5.8 -4l2.7 -1.5l2.5 -0.8l2.5 -0.2l4 0.3l3 0.5l2.5 0.9l2.5 1.5l2.4 1.8l1.2 1.5l0.1 1.5l-0.9 1.5l-3.2 3l-3.2 2l-1.9 0.6l-3 0.6zM248.3 1006.6l-1.5 0.4l-2 -0.2l-2 -0.9l-2 -1.5l-2 -2.4l-1.8 -3l-1 -2.5l-0.6 -2.5l-0.4 -3.5l-0.1 -4.5l0.3 -2.5l0.7 -3l1.6 -4.5l1.3 -2.4l1.5 -1.5l2 -0.9l2 -0.1l2.5 0.7l3 1.4l2.5 1.7l2 1.8l1.5 1.8l1 2l0.7 2.5l0.2 3l-0.2 3.5l-0.8 4.5l-1 3.5l-1.4 3l-1.7 2.5l-2.3 2.3zM180.8 919l-5 0.3l-7.5 -0.4l-1.2 -0.4l-0.6 -0.5l-0.4 -1l0.1 -1l0.7 -1.5l2.1 -2l3.3 -2.4l2.5 -1l3 -0.4l4 0.2l2.5 0.6l2.1 1l1.4 1.3l0.6 1.2l0 1l-0.8 1.5l-1.3 1.4l-1.5 1l-1.5 0.6zM247.8 1005.1l-1.5 0.2l-2 -0.5l-2 -1.2l-1.5 -1.6l-1.6 -2.5l-1.2 -2.5l-0.8 -2.5l-0.6 -3.5l-0.3 -3.5l0.1 -3l0.4 -2.5l1 -2.9l1.2 -2.6l1.5 -2l1.3 -1l2 -0.6l2 0.1l2.5 0.8l2.5 1.4l2 1.5l1.5 1.6l1.1 1.7l0.7 2l0.5 2.5l0.1 3l-0.3 3.5l-0.6 3.5l-1 3l-1.3 2.5l-1.7 2.2l-2 1.9zM180.8 914.6l-0.5 0.1l-1 -0.1l-0.1 -0.1l0 -0.5l0.6 -0.2l1 0.1l0.2 0.1l0 0.5zM247.8 1003.5l-2 0.1l-1.5 -0.5l-1.5 -1.1l-1.2 -1.5l-1.5 -2.5l-1.1 -2.5l-0.7 -3l-0.6 -3.5l-0.2 -2.5l0.2 -2.5l0.4 -2l1 -2.5l1.1 -2l1.2 -1.5l1.4 -1l1.5 -0.5l2 0l2 0.6l2 1.1l1.7 1.3l1.4 1.5l1.2 2l0.7 2l0.4 2l0.1 3l-0.3 3l-0.6 3.5l-0.8 2.5l-1.3 2.3l-1.5 1.9l-2 1.6zM247.3 1002.1l-1.5 -0.1l-1.5 -0.7l-1.3 -1.3l-1.4 -2l-0.9 -2l-0.8 -2.5l-0.8 -3.5l-0.3 -3l0 -2l0.3 -2l0.6 -2l0.8 -1.5l1 -1.5l1.3 -1.2l1 -0.6l1.5 -0.3l1.5 0.1l2 0.6l1.5 0.9l1.7 1.5l1.2 1.5l0.7 1.5l0.6 2l0.3 2.5l0 2.5l-0.3 3l-0.7 3l-0.7 2l-1.3 2.1l-1.5 1.5l-1.5 1zM248.8 1000.1l-1.5 0.4l-1.5 -0.2l-1.2 -0.8l-1.3 -1.4l-0.9 -1.6l-0.9 -2l-1.4 -6l-0.2 -3.5l0.3 -2l0.6 -1.5l1 -1.8l1 -1.1l1 -0.8l1.5 -0.5l1.5 0l1.5 0.4l1.5 0.8l1.2 1l0.9 1l0.9 1.5l0.5 1.5l0.4 2l0.2 2.5l-0.1 2.4l-0.4 2.6l-0.5 2l-0.7 1.5l-0.9 1.5l-1 1.1zM248.3 998.6l-1.5 0.1l-1 -0.3l-1 -0.8l-1 -1.3l-1.5 -3.5l-1.2 -5.3l0 -3l0.3 -1.5l0.7 -1.5l0.7 -1l1 -1l1 -0.6l1 -0.3l1 0l1.5 0.4l1 0.5l1.1 1l0.9 1.1l0.7 1.4l0.8 3l0.1 2l-0.1 2.5l-0.9 4l-0.6 1.5l-1 1.3l-1 0.8zM248.8 996.5l-1 0.3l-1 -0.1l-1 -0.5l-1 -1.2l-1.4 -3l-1.1 -4l-0.2 -2.5l0.6 -2.5l0.6 -1.1l0.8 -0.9l0.7 -0.5l1 -0.4l1 -0.1l1 0.2l1.5 0.9l1.5 1.9l0.9 2.5l0.2 3.5l-0.6 3.5l-1 2.5zM248.3 994.2l-0.5 0.2l-1 -0.2l-1.3 -1.2l-1.2 -2.5l-0.8 -3l-0.1 -2l0.6 -2l0.8 -1.1l1.5 -0.8l1.5 0.2l1.1 0.7l1 1.5l0.7 2l0.1 2.5l-0.4 2.6l-1 2.3zM247.8 990.7l-0.5 0.1l-1 -0.6l-0.9 -1.7l-0.4 -1.5l0 -1l0.3 -1.1l0.5 -0.7l1 -0.5l0.9 0.3l0.6 0.5l0.5 0.9l0.3 1.1l0 1.5l-0.3 1.4l-0.5 0.9z" fill="none" stroke="#000" stroke-width="0.8" stroke-linejoin="round"/>
</g>
<rect x="129.3" y="840" width="187.4" height="187.3" fill="none" stroke="#222" stroke-width="1.3"/>
<polyline points="129.3,842.3 258.3,842.3 265.7,846.7 265,861.7 226.7,931.7 193.3,938.3 129.3,940.7" fill="none" stroke="#1c1ce0" stroke-width="1.4"/>
<text x="133.8" y="861.8" font-size="15.8" text-anchor="start" fill="#1c1ce0"  stroke="#1c1ce0">24.1</text>
<line x1="256.5" y1="879.5" x2="336" y2="879.5" stroke="#000" stroke-width="3.4" />
<path d="M342.4 879.5L333.4 874.5L336.4 879.5L333.4 884.5z" fill="#000"/>
<text transform="translate(119 934) rotate(-90)" font-size="16.5" text-anchor="middle" fill="#111" stroke="#111">hCD45</text>
<text x="223.5" y="1050" font-size="16.5" text-anchor="middle" fill="#111"  stroke="#111">mCD45.1</text>
<clipPath id="c12"><rect x="386.7" y="840" width="188.3" height="186.6"/></clipPath>
<g clip-path="url(#c12)">
<path d="M506.2 1002.5l-3.5 0.4l-3.5 -0.1l-10 -1.5l-5 -1.9l-3.5 -0.8l-4.5 -0.4l-5.5 0.1l-2.5 -0.2l-5 -0.8l-4 -1l-3.5 -1.2l-5.5 -2.7l-6.5 -2.3l-5 -3.1l-1.5 -0.7l-2 -0.6l-5.5 -1.1l-8.5 -3l-3.5 -1.9l-5 -3.4l-3 -2.8l-4.1 -4.5l-1.7 -2.5l-2.9 -5.5l-1.3 -3.5l-0.8 -3.5l-0.1 -2.5l0.3 -4.5l-0.3 -2.5l-1.1 -2.4l-2.8 -4.6l-3.6 -7.5l-0.2 -2l0.9 -4l0.8 -4.5l1 -2.5l1.3 -2l5.6 -6l1.7 -1.5l9.8 -7.3l2 -1.3l2 -1l1.5 -0.4l2 -0.2l6.5 0.7l5.5 -0.2l10.9 -1.8l6.6 -1.4l3.5 0.1l3 0.7l1.5 0.7l4.5 2.8l2.9 1.6l2.3 1l5.3 1.7l1.5 0.8l4 2.8l4.5 1.5l1 0.6l1.3 1.6l4.9 9.5l1.5 6l0.2 3l-0.5 2.5l-2.4 5.6l-0.8 5.4l-0.7 2l-1 1.4l-1 1l-4.7 3.6l-0.9 1l-0.9 1.5l-0.2 1.5l0.2 1.5l0.6 1.5l1.2 1.5l1.2 0.9l1 0.3l5.5 0.5l6 1.3l2.5 0.3l6 0l9.5 0.8l3.5 0.6l5 1.5l2.5 0.4l4 0.1l7 -1l3 0.4l3 1.3l9.5 5.4l1.7 1.2l1.6 1.5l2 2.5l1.2 2l0.5 1.5l0.3 1.5l-0.1 2l-0.6 3l-0.7 2l-0.6 1l-0.9 1l-3.4 1.8l-3 1.2l-5 1.4l-5 2.1l-6 1.5l-5.5 1.9l-2.5 0.3l-12 0.5zM503.7 999l-2 0l-2 -0.3l-14 -3.3l-5.5 -1l-4 -0.3l-6.5 0.2l-3 -0.2l-3 -0.7l-5.5 -1.7l-2.5 -0.9l-7.7 -3.3l-5.3 -3.5l-4.5 -2.3l-2.5 -0.9l-6 -1.5l-5.5 -2.3l-3 -1.7l-6.5 -4.8l-2.5 -2.5l-2.7 -3.5l-2 -5l-1.8 -3.3l-0.6 -1.7l-0.5 -3l0 -6l-0.4 -2.5l-5 -11.5l-0.7 -2.5l-0.7 -8.5l0.4 -2l1.2 -2l5.5 -6.5l2.1 -2l7.2 -5.4l2 -1.1l1.5 -0.6l3 -0.4l7 0.3l5 -0.1l13.5 -2.3l2.5 -0.2l3 0.2l2.5 0.7l7.9 4.4l8.6 3.8l7.5 6.1l1.3 1.6l1.3 2.5l1.2 3l2 6.5l0.2 2.5l-0.6 2.5l-2.4 5l-2 3.4l-1 1.3l-1.5 1.3l-4.5 2.9l-2.5 1.9l-1.5 1.7l-1.1 2l-0.6 2l-0.5 3l0 3.5l1.5 5.5l0.7 1.3l1 1.1l1.5 0.7l2 0.2l5 -0.9l7 -0.6l7 -1.4l9.5 -0.8l4.5 0.2l4.5 0.5l4 0.8l5.5 1.6l3 0.5l3 -0.1l6.5 -1.2l3 -0.1l2 0.4l2.5 1l7 4.1l2.7 2.2l1.1 1.5l0.8 1.5l0.6 2l0.2 2l-0.2 2l-0.5 1.5l-0.9 1.5l-1.1 1l-3.2 1.8l-9.5 4l-7 1.6l-4.5 1.2l-10 1.1l-5 0.3zM506.2 996.1l-3 0.2l-2.5 -0.1l-20 -4.5l-3 -0.2l-7 -0.1l-2.5 -0.1l-3 -0.7l-4.9 -1.6l-4 -1.5l-3.9 -2l-2.2 -1.5l-3 -3l-1 -0.8l-6.5 -3.3l-2.5 -0.8l-6 -1l-6 -2.3l-2 -1.2l-5.5 -4.6l-1.9 -2l-2.1 -3.3l-4.8 -10.2l-0.7 -3l-0.2 -5.5l-0.4 -2.5l-1.9 -5.9l-2.7 -5.6l-0.8 -3l-0.4 -4l0.1 -1.5l0.4 -1.5l0.7 -1.5l2.4 -4l2.2 -3l2.1 -2l4.5 -3.4l2.5 -1.5l2 -0.8l3 -0.4l11 0l11 -1.6l4.5 -0.3l3.5 0.5l3 1.2l12.5 6.8l2.2 1.5l1.6 1.5l2 2.5l2.6 4l1.1 2l0.8 2l0.4 2.5l0.1 3l-0.6 2.5l-0.9 2l-1.4 2l-2.3 2.5l-2.1 1.9l-2 1.3l-7 3.7l-6.7 2.1l-2.8 1.5l-1.8 1.5l-1.3 1.5l-1.1 2l-0.4 1.5l0.3 2l0.8 1.3l1.4 1.2l3.1 2.1l1.5 1.4l1.9 2.5l2.6 4.5l1 1.4l2 1.9l2.5 1.6l1.5 0.6l1.5 0.3l2 0.1l1.5 -0.1l2 -0.7l4.5 -2.4l3 -0.9l12.5 -3l6 -0.9l4.5 -0.1l4 0.3l3 0.5l3 0.7l5.5 1.7l3.5 0.6l3.5 -0.2l7 -1.4l1.5 -0.1l2 0.3l3.5 1.4l5 2.9l2.4 2l0.8 1l0.8 1.5l0.5 2l0.1 2l-0.5 2l-0.9 1.5l-1.2 1.2l-1.5 1l-6.5 3.1l-2.5 1l-3 0.7l-13.5 1.6l-6 1.1zM452.7 974.1l-0.5 0.2l-1 0l-6 -1.1l-5.5 -2.3l-4.4 -0.9l-3.6 -1.3l-5 -0.9l-2 -0.7l-2.5 -1.6l-1.5 -1.3l-4.1 -5.2l-1.3 -2l-1.1 -2.5l-2.1 -6l-0.6 -6l-1.6 -9l-0.7 -1.7l-2.2 -3.3l-1 -2l-0.6 -2.5l-0.1 -2.5l0.2 -2l0.7 -2.5l1.4 -3l1.2 -2l1.2 -1.5l1.7 -1.6l3 -2.2l2.5 -1.6l2.5 -0.9l2.5 -0.4l11 -0.3l12 -1.3l3 0.1l2.5 0.4l3 1.1l6.5 3.3l2.5 1.5l2.7 1.9l2.3 1.9l1.5 1.6l1.4 2l2 3.5l0.9 2l0.6 2l0.1 2l-0.4 2.5l-0.6 2l-1 1.8l-1.3 1.7l-1.7 1.6l-2 1.3l-2.5 1.4l-7 3.1l-2.5 0.7l-6.1 0.9l-4.9 1.6l-4 1l-1.4 0.9l-0.8 1.5l-0.6 2.5l0 2.5l0.7 5.5l0.8 2.5l1.3 1.8l2 1.6l2 0.7l4 0.6l1.5 0.7l1 0.7l1.5 1.9l0.8 2l0.3 2l-0.2 1zM506.7 994l-3.5 0.3l-3 -0.3l-18.5 -4.4l-11 -1.2l-3 -0.6l-3.9 -1.3l-3.1 -1.5l-1.7 -1.5l-0.6 -1l-0.2 -1l0.5 -0.8l1 -0.3l6 -0.6l4.5 -0.8l2 -0.6l2 -1.1l4.5 -3.2l4 -1.7l10 -3l5.5 -1.1l3.5 -0.4l4 0.2l4 0.6l3.5 0.8l6 2l3.5 0.7l3.5 -0.2l5 -1.4l2 -0.3l2 0l1.5 0.2l3.5 1.3l4 2.5l2.4 2.2l1.1 2l0.4 1.5l-0.1 2l-0.5 1.5l-0.8 1.2l-1.3 1.3l-1.7 1.1l-3 1.6l-2.5 1.1l-2.5 0.8l-2 0.3l-10 0.4l-9.5 1.8zM421.2 946.6l-1 -0.2l-1 -0.8l-2 -2.5l-1.5 -2.3l-1.2 -2.8l-0.9 -4.5l-0.4 -1.5l-0.8 -1.5l-3.3 -4.5l-0.7 -1.5l-0.4 -2l-0.1 -2l0.3 -2.5l0.7 -2.5l0.9 -2l1 -1.5l1.4 -1.5l4 -3.2l3 -1.6l3.5 -0.7l11.5 -0.5l10 -0.9l4.5 0.2l2 0.5l2.5 0.9l8 4.2l3.9 3.1l1.4 1.5l1.5 2l1.5 2.5l1.3 3l0.6 2.5l0 2l-0.7 2.5l-1 1.9l-1.5 1.7l-2 1.6l-6 3.4l-2.5 0.9l-2.5 0.7l-11.5 1.5l-6.5 0.5l-5.5 0.9l-5 0.4l-2 1l-2.5 3zM505.7 992.5l-4 0.1l-5 -0.8l-19 -5.3l-1.5 -0.5l-1.9 -1l-1 -1l0 -1l1 -1.5l3.6 -4l1.8 -1.6l2.4 -1.4l3.1 -1.3l7.5 -2.5l5.5 -1.3l3.5 -0.5l4 0.2l4 0.6l3.5 1l6.5 2.3l3.5 0.7l3 -0.2l6.5 -2l2 -0.1l2 0.2l3 1.1l3.5 2.2l2.2 2.1l1 2l0.2 1.5l-0.1 1.5l-0.7 1.5l-0.8 1l-2.8 2.2l-2 1.1l-2.5 1l-2.5 0.7l-2.5 0.2l-6.5 -0.5l-2.5 0.1l-3 0.6l-7 1.7zM446.2 938l-5 0.4l-8.5 -0.2l-10 -1.1l-1.5 -0.3l-1.5 -0.9l-1.3 -1.4l-3.1 -4.5l-3.4 -4l-0.9 -1.5l-0.6 -1.5l-0.4 -2.5l0.2 -3l0.8 -2.5l1.3 -2.5l1.9 -2l2.5 -2l2 -1.2l2.5 -0.9l4 -0.6l11.5 -0.5l7.5 -0.6l3.5 0.2l3.5 0.9l5.5 2.5l4.5 2.7l2.3 2l1.8 2l1.6 2.5l1.1 2.5l0.8 2.5l0.3 2l-0.2 2l-0.9 2l-1.1 1.5l-1.7 1.6l-3 2.1l-3 1.6l-2.5 0.9l-2.5 0.6zM507.7 991l-5.5 0.3l-4.5 -0.5l-5.5 -1.4l-6.4 -2.4l-3.5 -1.5l-2.4 -1.5l-0.7 -1l-0.3 -1l0.5 -2l0.8 -1.5l1.3 -1.5l2.1 -1.5l2.1 -1.1l5.5 -2.1l4.5 -1.4l3.5 -0.8l3.5 -0.3l3.5 0.2l4 0.7l3 0.9l6.5 2.6l4 0.9l1.5 0l1.5 -0.4l6 -2l2 -0.2l2 0.2l2.5 0.9l3 1.8l1.7 1.6l1.1 2l0.3 1l-0.1 1.5l-0.6 1.5l-0.8 1l-2.6 2.1l-3.5 1.6l-2.5 0.6l-2.5 0.2l-6 -0.9l-2.5 -0.1l-2.5 0.5l-7.5 2.2zM447.2 936.5l-6 0.5l-4.5 -0.3l-4 -0.4l-7 -1.5l-2.5 -1l-2 -1.2l-2.5 -2.2l-4.3 -4.4l-1.4 -2l-0.7 -1.5l-0.5 -2.5l0.1 -2.5l0.7 -2.5l1.1 -2l1.8 -2l2.2 -1.8l2.2 -1.2l2.3 -0.8l4 -0.6l17.5 -0.9l3.5 0.2l3.5 0.9l4.5 2l4.7 2.7l1.9 1.5l1.8 2l1.3 2l1 2l0.8 2.5l0.3 2l-0.1 2l-0.4 1.5l-1 1.5l-1.8 1.9l-2.5 1.9l-2.5 1.4l-2.5 1l-2.5 0.7zM506.7 990l-5 0.2l-4 -0.4l-4.5 -1.2l-5.1 -2.1l-3.7 -2l-1.6 -1.5l-0.5 -1l-0.2 -1l0.5 -2l1 -1.5l1.2 -1l1.9 -1.2l2.9 -1.3l4.1 -1.5l4 -1.2l3 -0.6l2.5 -0.2l4 0.4l3.5 0.8l9.5 3.9l2.5 0.8l1.5 0.2l2.5 -0.4l4 -1.8l2 -0.6l2 -0.3l2 0.2l2.5 1l2.1 1.3l1.5 1.5l1 2l0.1 1l-0.1 1l-0.4 1l-0.7 1l-1 1l-1.4 1l-3.1 1.3l-2.5 0.5l-2 0l-2 -0.3l-4 -1.1l-2 -0.1l-2.5 0.5l-8.5 2.8zM446.2 935.5l-3 0.2l-3 0l-4 -0.4l-4 -0.6l-3.5 -0.9l-2.5 -0.9l-2.5 -1.1l-2 -1.2l-2.5 -2.1l-2.5 -2.5l-1.7 -2l-1 -2l-0.5 -2l0.1 -2.5l0.7 -2.5l1.2 -2l1.3 -1.5l1.9 -1.6l2 -1.1l2.5 -0.8l5 -0.7l15.5 -0.6l3.5 0.2l3.5 0.9l4 1.9l4.8 2.8l1.7 1.5l1.3 1.5l1.2 2l0.9 2l0.5 2l0.2 2l-0.2 2l-0.7 1.5l-1.1 1.5l-1.5 1.5l-2.1 1.5l-2 1.1l-5 1.8zM506.7 989l-4.5 0.2l-3.5 -0.2l-3.5 -0.8l-4 -1.5l-3.5 -1.8l-2.4 -1.9l-0.6 -1l-0.3 -1l0 -1l0.3 -1l1.1 -1.5l1.3 -1l5.1 -2.5l6.5 -2.2l2.5 -0.4l2.5 -0.2l3.5 0.4l3.7 0.9l2.5 1l8.8 4.3l2.5 0.7l1 -0.1l1 -0.3l4 -2.3l2 -0.9l2 -0.3l2 0.2l1.9 0.7l1.6 1l1.5 1.5l0.7 1.5l0.1 1l-0.1 1l-0.5 1l-0.7 0.9l-2 1.5l-2.5 1l-2 0.3l-2.3 -0.2l-1.8 -0.5l-3.9 -1.6l-1.5 -0.2l-2 0.5l-6 2.6l-3 1l-3 0.7zM445.7 934.5l-3 0.2l-3 -0.1l-4 -0.5l-3.5 -0.7l-2.5 -0.7l-3 -1.1l-2.5 -1.3l-2 -1.2l-2.5 -2.1l-1.9 -2l-1.4 -2l-0.7 -1.5l-0.5 -2l0 -2l0.5 -2l1.1 -2l1.4 -1.6l2 -1.6l2 -0.9l2.5 -0.8l6 -0.6l13 -0.5l3.5 0.3l3.5 1l4 1.9l3.7 2.3l1.8 1.5l1.3 1.5l0.9 1.5l0.8 2l0.5 2l0.1 2l-0.2 1.5l-0.7 1.5l-1 1.5l-1.6 1.5l-1.6 1.2l-2 1.1l-5 1.7zM507.2 988l-4 0.3l-3.5 -0.1l-3 -0.5l-3.5 -1.1l-3.2 -1.6l-2.6 -2l-1 -1.5l-0.2 -1l0.2 -1l0.8 -1.4l1.3 -1.1l2.2 -1.3l3 -1.4l3 -1.1l3 -0.9l2 -0.3l2.5 -0.1l4.5 0.7l3.9 1.4l7 4l1.9 1.5l0.7 1l0.1 1l-1.1 1.5l-1.3 1l-2.7 1.5l-2.3 1l-2.2 0.7zM537.2 984.5l-2 0.4l-1.5 -0.1l-1.5 -0.3l-1.5 -0.8l-1.5 -1.2l-0.7 -1l-0.1 -1l0.4 -1l1.9 -2l1.5 -1l1.4 -0.5l1.1 -0.2l1.5 0.1l1.5 0.5l1 0.5l1.3 1.1l0.7 1l0.3 1l0 1l-0.4 1l-0.8 1l-1.1 0.8zM445.7 933.5l-3 0.2l-3 -0.1l-3.5 -0.5l-3.5 -0.8l-3 -0.9l-2.5 -1l-2.5 -1.3l-2 -1.3l-2.1 -1.8l-1.7 -2l-1 -1.5l-0.8 -2l-0.2 -1.5l0.1 -2l0.6 -2l1 -1.5l1.4 -1.5l1.3 -1l2.1 -1l2.3 -0.7l6 -0.6l12 -0.4l3.5 0.4l3 0.8l3.5 1.7l3.8 2.3l1.7 1.4l1 1.2l1 1.4l0.8 2l0.4 2l0.1 1.5l-0.3 1.5l-0.6 1.5l-1.1 1.5l-1.3 1.3l-1.7 1.2l-1.8 1l-5 1.7zM502.7 987.5l-3 -0.1l-3 -0.5l-2.5 -0.8l-2.5 -1.2l-2 -1.4l-1.3 -1.5l-0.4 -1.5l0.4 -1.5l0.8 -1l1.3 -1l5.2 -2.6l4.5 -1.5l4 -0.3l4 0.5l3.7 1.4l4.8 3l1.8 1.5l0.7 1l0.3 1l-0.1 0.5l-0.5 1l-1.7 1.5l-2 1.2l-2.2 0.8l-2.8 0.7l-4 0.5zM536.7 983.1l-1.5 0.2l-1 -0.1l-1 -0.3l-1.2 -0.9l-0.4 -0.5l-0.2 -1l0.2 -1l0.8 -1l1.3 -0.8l1.5 -0.4l1.5 0.3l1.6 0.9l0.7 1l0.1 1.5l-0.9 1.3zM446.2 932.6l-3 0.2l-2.5 -0.1l-6 -0.9l-5.5 -1.8l-2.5 -1.1l-2.5 -1.5l-1.8 -1.4l-1.4 -1.5l-1.1 -1.5l-1 -2l-0.3 -1.5l0 -2l0.5 -2l0.9 -1.5l1.3 -1.5l1.4 -1l2 -0.9l2 -0.6l5.5 -0.6l11 -0.3l3.5 0.3l3 0.8l3 1.4l3.5 2.1l2.6 2.3l1.1 1.5l0.7 1.5l0.5 2l0.1 1.5l-0.2 1.5l-0.6 1.5l-1.1 1.5l-1 1l-3.1 2l-4 1.6zM505.2 986.5l-3 0.2l-3 -0.1l-2.5 -0.5l-2.5 -0.9l-2.1 -1.2l-1.7 -1.5l-0.7 -1.5l0.1 -1.5l0.7 -1l1.2 -1l2 -1.3l2.4 -1.2l4.1 -1.4l3.5 -0.4l3.5 0.4l3.5 1.1l3.6 2.3l1.7 1.5l0.8 1l0.4 1.5l-0.3 1l-0.8 1l-1.4 1l-2 1l-1.8 0.5zM446.7 931.6l-3 0.2l-2.5 0l-5.5 -0.8l-5.5 -1.7l-2.8 -1.3l-2.2 -1.3l-1.5 -1.2l-1.5 -1.5l-1 -1.5l-0.6 -1.5l-0.4 -1.5l0 -2l0.4 -1.5l0.8 -1.5l0.8 -1l1.2 -1l2.8 -1.4l3.5 -0.7l5.5 -0.3l8 -0.2l3.5 0.3l4 1.3l4 2.3l2.8 2.2l1.7 2.5l0.5 1.5l0.3 1.5l-0.1 1.5l-0.5 1.5l-0.7 1.3l-1 1.2l-2.8 2l-3.7 1.6zM506.2 985.5l-3 0.4l-2.5 0l-2.5 -0.3l-2.5 -0.7l-2 -1l-1.7 -1.4l-0.8 -1.5l0.3 -1.5l1.2 -1.5l2.2 -1.5l2.8 -1.4l2.5 -0.8l2 -0.4l2.5 0l2.5 0.3l2 0.7l2.5 1.3l2.1 1.8l1.1 1.5l0.2 1.5l-0.8 1.5l-1.6 1.1l-2.5 1zM447.2 930.6l-5 0.4l-5 -0.6l-3 -0.7l-2.5 -0.9l-4.8 -2.3l-1.7 -1.2l-1.3 -1.3l-1.1 -1.5l-0.7 -1.5l-0.3 -1.5l-0.1 -1.5l0.3 -1.5l0.8 -1.5l1.4 -1.6l2.5 -1.4l3 -0.7l4.5 -0.4l8.5 -0.2l3 0.2l4 1.1l3.5 1.8l2.9 2.2l1.1 1.3l0.7 1.2l0.8 2.5l-0.3 2.5l-0.7 1.5l-0.7 1l-2.5 2l-3.3 1.6zM503.7 985l-2.5 0.2l-2 -0.2l-2 -0.4l-1.5 -0.6l-1.6 -1l-0.9 -1l-0.4 -1l0.3 -1.5l1.2 -1.5l2.9 -1.9l2.9 -1.1l2.6 -0.5l3 0.1l2.5 0.7l2.3 1.2l1.7 1.5l0.9 1.5l0.1 1l-0.3 1l-1 1l-1.2 0.7l-2.1 0.8zM444.7 930l-4.5 0l-5 -1l-4.5 -1.7l-4 -2.3l-1.1 -1l-1.3 -1.5l-0.5 -1l-0.5 -1.5l0 -2.5l0.6 -1.5l0.6 -1l1 -1l1.2 -0.8l3 -1l4 -0.5l8.5 -0.2l3 0.1l3 0.7l2.8 1.2l2.4 1.5l2.2 2l0.8 1l0.7 1.5l0.2 1l0.1 1.5l-0.4 1.5l-0.5 1l-1.8 2l-2.5 1.6l-3.5 1.2zM504.7 984l-2.5 0.4l-2 0l-2 -0.4l-1.4 -0.5l-1.5 -1l-0.8 -1l-0.2 -1l0.3 -1l0.7 -1l1.9 -1.5l2 -1l1.5 -0.4l2 -0.4l1.5 0l2 0.3l1.6 0.5l1.7 1l1.1 1l0.7 1.5l0 1l-0.7 1l-1.3 1l-2.1 0.9zM445.2 929l-4 0.2l-4.5 -0.7l-4.3 -1.5l-3.7 -2l-2.3 -2l-1.3 -2l-0.3 -1l-0.1 -1.5l0.3 -1.5l0.5 -1l0.8 -1l0.9 -0.7l2.5 -1.1l3.5 -0.5l6 -0.4l4 0l3 0.4l3 0.9l2.6 1.4l2.4 2l1.4 2l0.3 1l0.1 1.5l-0.5 2l-1.5 2l-2 1.5l-3.3 1.3zM502.2 983.5l-3 -0.2l-1.5 -0.5l-1 -0.6l-0.6 -0.7l-0.3 -1l0.6 -1.5l1 -1l1.6 -1l1.7 -0.7l2 -0.3l1.9 0l1.6 0.4l1.4 0.6l1.2 1l0.6 1l0 1l-0.5 1l-0.6 0.5l-2.6 1.3zM445.7 928l-3.5 0.3l-4 -0.4l-3.5 -1l-3.8 -1.9l-2.7 -2l-1.4 -2l-0.4 -1l-0.1 -1.5l0.3 -1l0.4 -1l1.6 -1.5l2.6 -1l3.5 -0.5l5.5 -0.3l3 0l2.6 0.3l2.9 0.9l2.1 1.1l1.9 1.5l1.5 2l0.4 2l-0.4 2l-1 1.5l-2 1.6l-2.5 1.2zM502.2 982.5l-2.5 -0.1l-1 -0.4l-0.7 -0.5l-0.5 -1l0.2 -1l0.3 -0.5l1.2 -1l0.9 -0.5l2.1 -0.6l2.5 0.1l1.4 0.5l0.7 0.5l0.6 1l-0.1 1l-0.3 0.5l-1.3 1l-1 0.5zM445.2 927.1l-3 0.2l-3.5 -0.3l-3 -0.9l-2.5 -1.1l-2.5 -1.7l-1.7 -1.8l-0.6 -1l-0.2 -1l0 -1l0.3 -1l1.2 -1.3l2 -1l3 -0.6l4.5 -0.4l3 -0.1l2.5 0.2l2.5 0.6l2.4 1.1l2 1.5l1 1.5l0.5 1.5l-0.4 2l-1 1.6l-1.8 1.4l-2.2 1zM502.7 981.1l-1 0.1l-1.2 -0.2l-0.7 -0.5l-0.1 -0.5l0.1 -0.5l0.9 -0.8l1 -0.4l1.5 -0.1l1.1 0.3l0.5 0.5l0.1 0.5l-0.2 0.5l-0.5 0.5zM444.7 926.1l-2.5 0.2l-3 -0.3l-2 -0.5l-2.5 -1.1l-2.5 -1.8l-1.3 -1.6l-0.5 -1.5l0.4 -1.5l1.1 -1l1.8 -0.8l3.4 -0.7l3.1 -0.3l2.5 -0.1l2 0.3l2.1 0.6l1.9 0.9l1.5 1.1l0.7 1l0.5 1.5l-0.3 1.5l-0.9 1.4l-1.3 1.1l-2.1 1zM443.2 925l-2 0l-1.5 -0.2l-2 -0.5l-1.6 -0.8l-1.3 -1l-1.2 -1.5l-0.3 -1l0.2 -1l1.1 -1l1.1 -0.6l2.5 -0.7l2.5 -0.3l3.5 0.2l2 0.6l1.4 0.8l1.1 1l0.5 1l0.1 1l-0.6 1.4l-1 1l-1 0.6l-1.5 0.6zM444.2 923.1l-2.5 0.3l-2.5 -0.5l-1 -0.6l-0.9 -0.8l-0.4 -1l0.1 -0.5l0.9 -1l2.3 -0.8l2 -0.2l2.2 0.5l1.5 1l0.4 0.5l0.2 1l-0.8 1.3z" fill="none" stroke="#000" stroke-width="0.8" stroke-linejoin="round"/>
</g>
<rect x="386.7" y="840" width="188.3" height="186.6" fill="none" stroke="#222" stroke-width="1.3"/>
<rect x="390" y="886.7" width="109.3" height="59.3" fill="none" stroke="#1c1ce0" stroke-width="1.3"/>
<rect x="462.7" y="961.7" width="104" height="57.6" fill="none" stroke="#1c1ce0" stroke-width="1.3"/>
<text x="392" y="877.4" font-size="15.8" text-anchor="start" fill="#1c1ce0"  stroke="#1c1ce0">59.9</text>
<text x="527" y="952.4" font-size="15.8" text-anchor="start" fill="#1c1ce0"  stroke="#1c1ce0">30.4</text>
<text transform="translate(379 933.3) rotate(-90)" font-size="16.5" text-anchor="middle" fill="#111" stroke="#111">CD19</text>
<text x="477.8" y="1050" font-size="16.5" text-anchor="middle" fill="#111"  stroke="#111">CD33</text>
<clipPath id="c13"><rect x="633.3" y="839.5" width="188" height="187"/></clipPath>
<g clip-path="url(#c13)">
<path d="M656.8 1026.5l1.7 -3l0.5 -1.5l0.2 -11l-0.4 -2.5l-3.8 -15l-0.5 -3.5l-0.2 -3l0.7 -7l2 -14l0.6 -3l1.5 -5.5l0.9 -2.5l1 -2l2.3 -3.2l2.5 -2.6l1.5 -1l2 -0.5l1.5 0.3l2 0.8l2.5 1.5l2 1.7l5.9 6l1.8 2.5l1.1 2.5l0.3 2l0.4 8.3l2 9l1.5 5.2l0.8 8l-1.4 9.5l-1.8 7l-1.2 9.5l0.2 1l0.6 1l3.3 3.5l0.9 1.5M659.8 1026.5l2 -3l0.6 -1.5l0.1 -1.5l-0.1 -4.5l0.3 -6l-0.4 -2.5l-1 -3.5l-3.7 -8.5l-1.2 -4l-0.5 -2.5l-0.1 -2.5l0.4 -6l2.4 -15l1 -3.5l1.6 -4.5l1.6 -2.8l2 -2.1l2.5 -1.4l2 -0.3l1.5 0.3l2 0.9l2 1.4l2 2l1.6 2l1.8 3l1.4 3l0.6 2l0.4 2.5l1.2 13.2l1.3 6.8l0.7 8l-0.4 4.5l-1.8 6l-0.6 3l-0.2 10l0.6 1.5l3.1 3l0.8 1l0.4 1l-0.1 0.5M661.9 1026.5l2.4 -3.5l0.6 -1.5l-0.3 -5.5l0.3 -4.5l-0.1 -2l-0.5 -2.5l-1.2 -3.5l-1.1 -2.5l-3.1 -5.5l-1.5 -4l-0.5 -2.5l-0.2 -2.5l0.2 -5.5l0.6 -5l1.6 -8.5l0.9 -3.5l1.5 -4l1.5 -3l1.8 -2l2 -1.2l2 -0.3l1.5 0.3l2 0.9l1.5 1.1l1.5 1.7l1.3 2l2 4l1.3 4l1.4 13.4l1.1 6.6l0.2 3.5l-0.5 6l-1.8 6l-0.5 3l-0.4 3l0.1 3l0.9 8l0.9 1.5l3.4 3l0.4 1l-0.3 1M663.6 1026.5l0.6 -1l2.4 -3l0.6 -1.5l-0.5 -5l0.2 -4.5l-0.1 -2l-0.7 -2.5l-1.2 -3l-1.6 -3l-3.3 -5.5l-1.6 -3.5l-1 -4.5l0 -5.5l0.5 -5l1.2 -6l1.1 -5l1.3 -4l1.5 -3l1.6 -2l1.7 -1.2l2 -0.4l1.5 0.2l1.5 0.6l1.5 1.1l1.1 1.2l1.3 2l1.4 3l1 2.5l0.6 2.5l2.4 17.5l0.2 3.5l-0.3 2.5l-0.6 3l-2.3 6l-0.8 2.5l-0.6 4l0 3l0.2 2l1.7 7.5l1 1.5l2.7 2l1 1l0.3 1l-0.4 1M665.2 1026.5l1 -1.5l3.1 -3l1 -1.5l0.2 -1l-0.8 -4l0.2 -3.5l-0.2 -1.5l-0.6 -2l-1.1 -2l-6.9 -10.5l-1.5 -3l-1 -2.5l-0.5 -2.5l-0.3 -2.5l0 -3l0.4 -4l0.8 -5l1.5 -6.5l1.2 -3.5l1.6 -3.3l1.5 -1.9l1.5 -1l2 -0.4l1.5 0.3l1 0.5l1.5 1.2l1 1.2l1.1 1.9l1.2 2.5l1 3l0.6 2.5l2.2 15.5l0.2 2.5l-0.2 2l-0.4 2.5l-0.8 2.5l-2.9 6l-1.3 3.5l-1.6 5l-0.1 2l2 7.5l0.4 1l1 1l4.1 2.4l1 0.8l0.6 0.8l0 0.5l-0.5 1M670.8 1004.3l-0.5 0.1l-1 -0.1l-1 -0.5l-1 -0.8l-2 -2.4l-3.4 -4.6l-1.4 -2.5l-1.1 -2.5l-0.7 -2.5l-0.4 -3l0 -4.5l0.6 -4.5l1.2 -6l1.4 -5l1.3 -3l1.5 -2.3l1.5 -1.3l1 -0.5l1 -0.2l2 0.4l1.9 1.4l1.5 2l1.4 3l1.1 3l0.8 3.5l2 14l0.1 2.5l-0.2 2l-0.4 2l-0.9 2.5l-1.4 3l-2.4 4l-1.5 2zM667 1026.5l0.1 -0.5l0.8 -1l1.9 -1.4l2 -0.9l2 -0.2l2.5 0.4l2.5 1.1l0.9 1l0.1 0.5l-0.6 1M670.3 1002.1l-1.5 0.1l-1.5 -0.8l-2 -2l-3 -3.9l-1.5 -2.5l-1.1 -2.5l-0.7 -2.5l-0.3 -3l-0.1 -3.5l0.5 -4.5l1 -5l1.6 -5.5l1.1 -2.7l1.5 -2.4l1.5 -1.4l1 -0.5l1 -0.1l1 0.1l1 0.4l1.5 1.2l1.5 2.2l1.4 3.2l1 3l0.8 3.5l1.2 7l0.5 5l0.1 2.5l-0.3 2.5l-0.5 2l-0.8 2.5l-1.3 2.5l-1.6 2.4l-1.5 1.7zM669 1026.5l0.4 -1l1.4 -1l1.5 -0.5l1.5 -0.2l2 0.2l1.5 0.6l0.5 0.4l0.1 0.5l-0.2 0.5l-0.5 0.5M670.3 1000.7l-1.5 0.1l-1.5 -0.6l-2 -1.8l-2.3 -2.9l-1.6 -2.5l-1.2 -2.5l-0.7 -2.5l-0.5 -3l0 -4l0.4 -4l1.1 -5l1.1 -4l1.2 -3l1.5 -2.5l1.5 -1.4l1.5 -0.6l1 0l1 0.4l1.5 1.1l1.4 2l1.2 2.5l1.1 3l0.9 3.5l1.1 6.5l0.6 4.5l0 2.5l-0.2 2.5l-0.5 2.5l-0.8 2.5l-1.3 2.5l-1.4 2l-1.1 1.2zM674.3 1026.2l-1 0.2l-1 -0.4l0.6 -0.5l0.9 -0.1l0.8 0.1l0.1 0.5zM670.3 999.5l-1.5 0.3l-1.5 -0.6l-1.5 -1.2l-2.2 -2.5l-1.7 -2.5l-1.2 -2.5l-0.8 -2.5l-0.5 -3l-0.1 -3.5l0.4 -4l0.8 -4.5l1.2 -4l1.1 -3l1.5 -2.5l1.5 -1.5l1.5 -0.5l1.5 0.2l1.5 1.1l1.3 1.7l1.5 3l1 3l0.9 3.5l1 5.5l0.5 4l0.1 2.5l-0.2 2.5l-0.5 2.5l-0.8 2.5l-1 2l-1.3 2l-1.5 1.4zM670.3 998.6l-1.5 0.3l-1.5 -0.5l-1.5 -1.2l-2 -2.2l-1.7 -2.5l-1.2 -2.5l-0.8 -2.5l-0.4 -3l-0.1 -3.5l0.4 -4l1 -4.5l1 -3.5l1 -2.5l1.3 -2.1l1.5 -1.5l1.5 -0.5l1.5 0.4l1 0.7l1.5 1.9l1.3 2.6l1.1 3l0.8 3l1 5.5l0.5 3.5l0.1 2.5l-0.2 2.5l-0.4 2.5l-0.6 2l-0.9 2l-1.2 1.9l-1 1.2zM669.3 998.1l-1.5 -0.2l-1.5 -1l-1.5 -1.4l-1.9 -2.5l-1.4 -2.5l-0.7 -2l-0.6 -2.5l-0.3 -2.5l0 -3l0.4 -3.5l0.8 -4l1.1 -3.5l1.1 -2.6l1.5 -2.2l1 -0.9l1.5 -0.5l1.5 0.5l1.3 1.2l1.2 1.7l1.3 2.8l1 3l0.8 3.5l1.2 7.5l0 2.5l-0.2 2.5l-0.4 2l-0.8 2.5l-1.1 2l-1.3 1.7l-1.5 1.1zM670.3 997l-1.5 0.4l-1.5 -0.5l-1.5 -1.1l-1.5 -1.6l-1.5 -2.2l-1.3 -2.5l-0.8 -2.5l-0.4 -2.5l-0.2 -3l0.3 -3.5l0.6 -3.5l1 -3.5l1.2 -3l1.1 -1.9l1 -1.1l1.5 -0.8l1.5 0.2l1 0.7l1.1 1.4l1.4 2.5l1 2.5l0.8 3l1.4 7.5l0.1 5l-0.9 4.5l-0.8 2l-0.9 1.5l-1.2 1.4zM669.8 996.5l-1.5 0.1l-1.5 -0.6l-1.5 -1.3l-1.4 -1.7l-1.3 -2l-1.1 -2.5l-0.6 -2l-0.4 -2.5l-0.1 -3l0.2 -3l0.5 -3l1 -3.5l1.2 -2.9l1 -1.7l1 -1.1l1.5 -0.7l1.5 0.2l1 0.8l1.1 1.4l1.3 2.5l0.9 2.5l0.9 3l1.2 7l0 4.5l-0.3 2l-0.7 2.5l-0.8 2l-1 1.5l-1.1 1zM669.3 996l-1 0l-1.5 -0.6l-1.5 -1.3l-1.5 -1.9l-1.3 -2.2l-0.9 -2l-0.5 -2l-0.4 -2.5l-0.1 -3l0.3 -3l0.6 -3l0.8 -2.7l1 -2.5l1 -1.7l1 -1.1l1.5 -0.7l1.5 0.4l1 0.9l1 1.3l1.1 2.1l1 2.5l0.8 3l0.8 4l0.4 3l0 2.5l-0.2 2.5l-1.1 4l-0.8 1.6l-1 1.3l-1 0.7zM669.8 995.2l-1 0.2l-1.5 -0.3l-1.5 -1.1l-1.5 -1.7l-1.4 -2.3l-0.9 -2l-0.6 -2l-0.4 -2.5l-0.1 -2.5l0.2 -3l0.5 -3l0.7 -2.5l1 -2.4l1 -1.7l1 -1.1l1.5 -0.7l1 0.2l1.1 0.7l1.2 1.5l1 2l1.7 5l1.1 6l0.1 4.5l-0.8 4l-0.6 1.5l-0.8 1.5l-1 1.1zM669.8 994.6l-1 0.2l-1.5 -0.3l-1.5 -1.1l-1.2 -1.4l-1.3 -1.9l-1 -2.1l-0.6 -2l-0.5 -2.5l-0.1 -2.5l0.2 -3l0.5 -2.7l0.8 -2.8l1.2 -2.7l1 -1.4l1 -0.8l1 -0.3l1 0.3l1 0.7l1 1.2l1 1.8l1.6 4.7l1.2 6l0.1 4l-0.7 4l-0.7 1.8l-0.7 1.2l-0.8 0.9zM669.3 994.2l-1 0l-1.5 -0.6l-1.3 -1.1l-1.2 -1.5l-1.2 -2l-0.8 -1.9l-0.6 -2.1l-0.3 -2l-0.1 -2.5l0.2 -2.5l0.5 -2.5l0.8 -2.7l1 -2.3l1 -1.4l1 -0.8l1 -0.3l1 0.3l1 0.8l1 1.3l1 1.9l1.7 5.2l0.8 5l0 4l-0.9 4l-0.6 1.3l-0.8 1.2l-0.7 0.7zM669.3 993.6l-1 0.1l-1 -0.4l-1.2 -0.8l-1.3 -1.4l-1.1 -1.6l-0.9 -2l-0.7 -2l-0.4 -2l-0.1 -4.5l0.4 -2.5l0.6 -2.5l0.7 -1.8l1 -1.8l1 -1.1l1 -0.5l1 0l1 0.6l1 1.1l0.9 1.5l1.6 4.3l1.1 5.2l0.1 4l-0.7 4l-1.1 2.5l-0.9 1zM668.8 993.1l-1 -0.1l-1 -0.5l-1.5 -1.4l-1 -1.3l-1.6 -3.3l-0.8 -3.5l-0.1 -2l0.1 -2.5l0.9 -4.2l1.5 -3.2l1 -1.2l1 -0.5l1 0.1l1 0.6l1.7 2.4l1.6 4.5l1 5l0.1 4l-0.7 3.5l-0.7 1.5l-0.7 1l-0.8 0.7zM668.3 992.5l-1 -0.3l-1 -0.6l-2 -2.4l-1.5 -3.2l-0.7 -3.5l0 -4l0.9 -4l0.8 -1.9l0.7 -1.1l0.8 -0.9l1 -0.5l1 0.1l1 0.7l1.5 2.1l1.6 4.5l1 5l-0.1 4l-0.4 2l-0.6 1.5l-0.5 1l-0.9 1l-0.6 0.4zM669.3 991.7l-1 0.2l-1 -0.2l-1 -0.7l-1 -1l-1 -1.5l-1 -2l-0.9 -3.5l-0.1 -4l0.8 -4l0.7 -1.7l0.8 -1.3l0.7 -0.8l1 -0.5l0.5 0l1 0.5l1 1l0.8 1.3l1.4 3.5l0.9 4l0.2 3.5l-0.3 3l-1 2.7l-0.6 0.8zM669.3 991.1l-1 0.2l-1 -0.2l-1 -0.7l-1 -1l-1.7 -2.9l-0.9 -3.5l-0.1 -4l0.7 -3.7l0.5 -1.3l1 -1.7l0.5 -0.5l1 -0.4l0.9 0.1l0.6 0.4l1.5 1.9l1.3 3.2l1 4l0.2 3.5l-0.4 3l-1 2.5zM668.8 990.6l-0.5 0.1l-1 -0.2l-1 -0.7l-1 -1.1l-1.5 -2.7l-0.9 -3.5l-0.1 -3.5l0.7 -3.5l1.3 -2.5l0.5 -0.5l1 -0.5l0.5 0l1 0.6l1.5 2.1l1.3 3.3l0.7 3.5l0.2 3l-0.5 3l-0.9 2l-0.8 0.9zM668.3 990.1l-1.5 -0.5l-1 -0.9l-0.9 -1.2l-1.2 -2.5l-0.6 -3l0 -3.5l0.7 -2.9l1 -1.9l0.5 -0.6l1 -0.4l1 0.2l0.5 0.4l1.5 2.2l1.1 3l0.7 3.5l0 3l-0.5 2.5l-0.8 1.6l-0.5 0.6zM668.8 989.2l-0.5 0.2l-1 -0.1l-1.6 -1.3l-1.4 -2.4l-0.9 -3.1l-0.1 -3l0.5 -3l1 -2.1l0.5 -0.6l1 -0.5l0.5 0.1l1 0.6l1 1.4l1.1 2.6l0.7 3l0.2 2.5l-0.2 2.5l-0.8 2.2zM668.3 988.7l-0.5 0l-1 -0.4l-1.5 -1.6l-1 -2l-0.7 -2.7l0 -3l0.6 -2.5l0.6 -1.4l0.5 -0.6l1 -0.5l0.5 0.1l0.7 0.4l1.3 1.8l1 2.6l0.5 2.6l0.2 2.5l-0.3 2l-0.9 2zM668.8 987.6l-1 0.4l-0.5 -0.1l-1 -0.7l-1.5 -2.2l-0.8 -2.5l-0.2 -2.5l0.5 -2.9l1 -1.8l1 -0.6l1 0.4l1 1.2l1 2.2l0.5 2l0.3 2.5l-0.1 2l-0.5 1.5zM668.3 987l-1 0.1l-1 -0.6l-0.5 -0.6l-1 -1.9l-0.5 -1.9l-0.1 -2.6l0.4 -2l0.7 -1.4l1 -0.6l1 0.4l1 1.3l0.7 1.8l0.5 2l0.2 2l-0.2 2l-0.6 1.5zM668.3 986l-0.5 0.3l-0.5 0l-1 -0.7l-1 -1.5l-0.5 -1.6l-0.3 -2l0.3 -2.3l0.5 -1.1l0.5 -0.5l0.5 -0.2l0.6 0.1l0.9 0.9l0.6 1.1l0.6 2l0.3 2l-0.1 1.5l-0.4 1.3zM667.8 985.2l-0.5 0.1l-1 -0.7l-0.7 -1.1l-0.5 -1.5l-0.1 -1.5l0.1 -1.5l0.7 -1.4l0.5 -0.3l0.6 0.2l0.9 1l0.8 2.5l0.1 2.5l-0.4 1.2zM667.8 983.6l-0.5 0.3l-0.5 -0.1l-0.5 -0.5l-0.5 -1l-0.2 -2.3l0.2 -0.8l0.5 -0.6l0.5 0.1l0.5 0.5l0.5 1l0.3 1.8z" fill="none" stroke="#000" stroke-width="0.8" stroke-linejoin="round"/>
<path d="M703.5 929.8h1.5M689.9 930.9h1.5M694 947.9h1.5M696.6 931.5h1.5M704.1 914.2h1.5M713.9 927.5h1.5M696.3 940.5h1.5M671.4 926.3h1.5M686.8 918.7h1.5M665.4 944.5h1.5M682.4 939.5h1.5M694.5 935.3h1.5M690.4 932.7h1.5M698.1 945.1h1.5M666 943.6h1.5M693.9 941h1.5M697.5 933.4h1.5M684.5 939.8h1.5M673.8 940.1h1.5M693.9 939.3h1.5M698 927.8h1.5M679.2 924.6h1.5M683.3 949.1h1.5M706.1 926.2h1.5M698.7 933.3h1.5M680.5 932h1.5M684 933.3h1.5M677.8 939.9h1.5M705.2 934.5h1.5M686.3 948h1.5M677.3 944.8h1.5M703.1 960.9h1.5M707.2 922h1.5M652.2 948.9h1.5M692.5 926.7h1.5M689.2 932h1.5M694.3 942.9h1.5M683.3 929.2h1.5M684.7 939.4h1.5M694.4 938.1h1.5M695.6 941h1.5M691.5 947.7h1.5M675.8 943.8h1.5M687.4 950.8h1.5M666 936.9h1.5M689.1 929.9h1.5M686.8 936.1h1.5M695.7 932.5h1.5M702.1 931.1h1.5M693.6 947.6h1.5M697.8 939.2h1.5M691.6 948.7h1.5M697.5 938.4h1.5M669.5 935h1.5M699.5 952.3h1.5M689.8 947.2h1.5M691.7 933.8h1.5M687.2 933.6h1.5M681.1 949.3h1.5M703.1 929.2h1.5M694.9 945.1h1.5M689.7 955.8h1.5M698.2 938.4h1.5M691 955h1.5M688 958.9h1.5M701.5 933.5h1.5M697.3 939.7h1.5M680.4 945.5h1.5M686.8 936.5h1.5M698 928.7h1.5M684.5 928.3h1.5M692.6 933.9h1.5M686.3 935.6h1.5M698.6 938.3h1.5M708 934.5h1.5M693.7 934h1.5M683.9 935.5h1.5M686.2 940.7h1.5M691 933.5h1.5M687.3 937.7h1.5M702.4 945.5h1.5M700.1 942.7h1.5M696.1 937.4h1.5M696.7 943.4h1.5M698 931.6h1.5M695.8 925.4h1.5M656.9 954.4h1.5M686.3 933.6h1.5M699.1 941.4h1.5M698.3 938h1.5M677.6 944.4h1.5M685.5 945.3h1.5M679.2 946.3h1.5M702.9 937.4h1.5M697.6 952.2h1.5M665 942.5h1.5M692.7 946.8h1.5M682.6 940.8h1.5M695 929h1.5M681.4 938.2h1.5M693 956.8h1.5M682.9 938.6h1.5M706.4 943.7h1.5M681.8 947.1h1.5M681.9 938h1.5M684.7 946.7h1.5M695.1 952h1.5M706.4 942.6h1.5M692.5 933.3h1.5M706.5 933h1.5M695.5 938.5h1.5M688.1 940.7h1.5M705.6 932.7h1.5M690.6 945.2h1.5M701.6 925.2h1.5M697.9 944.4h1.5M675.4 940.9h1.5M702.4 932.4h1.5M698.9 949.3h1.5M695 933.5h1.5M694.5 935h1.5M717.1 913.2h1.5M704.8 914.2h1.5M694.8 918.6h1.5M709.6 922h1.5M702.2 916.2h1.5M704.3 923.4h1.5M695.1 924.3h1.5M724.2 915.9h1.5M712.2 918.1h1.5M703.2 921h1.5M702.8 913.8h1.5M703.6 916.4h1.5M699.2 913.1h1.5M712.2 909.3h1.5M710.3 906.8h1.5M701.8 925.5h1.5M701.1 923.7h1.5M703.1 921h1.5M706.7 933h1.5M733.5 895h1.5M709.9 919h1.5M711.1 916.2h1.5M671.3 924.2h1.5M668.9 913h1.5M683.3 897.6h1.5M668.5 892h1.5M675.7 910.7h1.5M671.7 900h1.5M677.3 874.8h1.5M683.4 881.1h1.5M668.3 911.8h1.5M675.7 927.9h1.5M680.6 897h1.5M669.8 866.1h1.5M666.9 883.4h1.5M672.2 876.1h1.5M672.4 907.6h1.5M676.6 898h1.5M665.5 873.9h1.5M675 926.6h1.5M664.6 906.3h1.5M675 884.6h1.5M672.5 899.6h1.5M660.4 891.7h1.5M676.7 927.9h1.5M670 914.1h1.5M680.8 903.5h1.5M676.8 912.7h1.5M666.7 921.9h1.5M666 880.6h1.5M671.8 883h1.5M667.1 883.2h1.5M686.5 903.6h1.5M678.9 871.8h1.5M672.3 924.7h1.5M674.9 848.2h1.5M671 873.9h1.5M675.7 853.9h1.5M665.2 905.5h1.5M671.4 872.7h1.5M676 894.8h1.5M666.6 901.1h1.5M673.7 927h1.5M670 908h1.5M680.4 887.5h1.5M678.3 887.9h1.5M665.8 905.8h1.5M664.7 901.8h1.5M670.7 923.6h1.5M683.3 880.9h1.5M738.1 966.1h1.5M739.3 972.7h1.5M738.5 993.1h1.5M753.7 960.4h1.5M739.2 984.7h1.5M734.7 954.2h1.5M736.2 993.5h1.5M740.3 967.2h1.5M731.9 954.3h1.5M740.9 963.1h1.5M745.7 984.2h1.5M742 955.8h1.5M727.4 964.6h1.5M730.3 981.1h1.5M742.2 958.6h1.5M741.7 962.5h1.5M738.9 962.2h1.5M735.4 953.2h1.5M731.2 959.9h1.5M736 975.8h1.5M725.8 949.2h1.5M723.4 959.7h1.5M733.5 974.7h1.5M743.8 963.3h1.5M736.6 965.8h1.5M740.6 985.6h1.5M736.5 960.1h1.5M744.9 968.9h1.5M691.7 976.7h1.5M692.9 988.4h1.5M690.6 963.7h1.5M691.9 1003.6h1.5M694 983.8h1.5M691.5 1002h1.5M691.8 1014.7h1.5M693.2 949.3h1.5M693.2 990.8h1.5M692.7 984.8h1.5M693 983h1.5M690.9 973.5h1.5M692.2 982.3h1.5M692 988.7h1.5M691.2 957h1.5M687.9 955.6h1.5M690.8 1005.6h1.5M691.4 963h1.5M691.3 962.8h1.5M691.6 978.8h1.5M690.5 975.2h1.5M692.2 994.4h1.5M690.1 970.4h1.5M691 950.5h1.5M692.9 963.2h1.5M693 966.7h1.5M692.5 991.7h1.5M693.7 1020.9h1.5M693.8 1004.7h1.5M692.1 951.5h1.5M689.7 962h1.5M691.9 976.9h1.5M694.6 979.9h1.5M692.5 988.4h1.5M692.7 1019h1.5M693 1008.7h1.5M691.9 1022.1h1.5M690.6 968.4h1.5M693 956.9h1.5M695.4 983.1h1.5M692 991.6h1.5M690.4 970.5h1.5M693.1 1017.4h1.5M691.8 965.6h1.5M691.8 980h1.5M693.1 1017.9h1.5M689.1 978.8h1.5M690.5 976.6h1.5M691.6 971.4h1.5M695.2 986.6h1.5M693 990.9h1.5M693.1 959.7h1.5M693.2 1020.2h1.5M693 955h1.5M691 1007.8h1.5M692.6 987.7h1.5M694.7 994.8h1.5M693.7 956.2h1.5M693.3 982.1h1.5M692.2 991.5h1.5M692.7 987.3h1.5M691.5 979.7h1.5M692.3 983.1h1.5M692.3 980.4h1.5M689.6 980.3h1.5M690.6 1025.2h1.5M694.9 1024.9h1.5M707.2 1025.8h1.5M693.1 1025.6h1.5M707.2 1025.9h1.5M693.5 1025.6h1.5M708 1025.7h1.5M696.2 1025.5h1.5M701.4 1025.8h1.5M697.7 1025.6h1.5M697.5 1025.7h1.5M699.5 1025.4h1.5M703.9 1025.2h1.5M698.2 1025.3h1.5M701 1025.5h1.5M703.5 1025.8h1.5M692.5 1025.1h1.5M692.7 1025.8h1.5M693.7 1025.6h1.5M694.1 1025.5h1.5M698.9 1025.1h1.5M672.7 942.5h1.5M673.8 932.1h1.5M695.7 934.8h1.5M647.6 968.6h1.5M682.2 945.8h1.5M699.1 952.5h1.5M701.4 943.7h1.5M703.4 967.1h1.5M685.4 929.8h1.5M681 939.2h1.5M697.5 966.4h1.5M666.8 945h1.5M685.2 956.7h1.5M695.9 957.7h1.5M690.6 961.8h1.5M649.6 958h1.5M700.8 950.4h1.5M670.1 945.3h1.5M705.9 967.5h1.5M692.3 989.2h1.5M681.2 927.5h1.5M697.3 950.9h1.5M702.7 940.6h1.5M701.2 971h1.5M684.6 942.6h1.5M676.1 935.6h1.5M700 940.6h1.5M691.4 974.8h1.5M705.2 956.8h1.5M715.9 961.1h1.5M686.7 962.1h1.5M656.1 947.9h1.5M679 950.8h1.5M688.6 958.7h1.5M693.4 972.8h1.5M676.3 944.9h1.5M690.3 956h1.5M754.8 925.2h1.5M767.3 935.3h1.5M779.3 961.6h1.5" fill="none" stroke="#000" stroke-width="1.5"/>
</g>
<rect x="633.3" y="839.5" width="188" height="187" fill="none" stroke="#222" stroke-width="1.3"/>
<rect x="651.8" y="860" width="36.5" height="71.3" fill="none" stroke="#1c1ce0" stroke-width="1.3"/>
<path d="M802.5 980V935.5H719.3V1021.3H802.5V1003.5" fill="none" stroke="#1c1ce0" stroke-width="1.3"/>
<text x="638" y="856.4" font-size="15.8" text-anchor="start" fill="#1c1ce0"  stroke="#1c1ce0">0.721</text>
<text x="777.3" y="1001.4" font-size="15.8" text-anchor="start" fill="#1c1ce0"  stroke="#1c1ce0">0.361</text>
<text transform="translate(622.7 928) rotate(-90)" font-size="16.5" text-anchor="middle" fill="#111" stroke="#111">CD56</text>
<text x="727.5" y="1049.6" font-size="16.5" text-anchor="middle" fill="#111"  stroke="#111">CD3</text>
<clipPath id="c14"><rect x="891.8" y="840.8" width="187.4" height="185.7"/></clipPath>
<g clip-path="url(#c14)">
<path d="M936.3 985.9l-3 0.3l-2.5 -0.6l-2 -1l-2.5 -2.3l-2 -1.3l-2 -0.7l-4.5 -0.8l-2 -1.1l-1 -1l-1 -1.4l-2.6 -5.7l-1.4 -2.3l-1.7 -2.2l-3.1 -3.5l-1.5 -2l-1 -2l-1.1 -2.5l-0.5 -2l-0.2 -2.5l0.4 -7.5l0.5 -5l-0.1 -2.5l-0.6 -3l-2.3 -5.5l-0.3 -1.5l0.1 -2l0.6 -2l0.9 -2l5.3 -8l2.6 -2.9l3 -2.3l4.5 -2.2l2.5 -0.8l2 -0.4l7.5 -0.1l5.5 -0.4l5.5 0.1l6.5 -1l2.5 0l2 0.7l5 2.7l7 2.5l10.5 5.1l2.5 0.7l3 0.1l7 -0.5l5 0l1.5 -0.3l5 -1.7l2 0l1.5 0.3l5 2.2l5.5 1l3 0.9l14.5 6.4l1.5 0.7l1.5 1.1l2.1 2.6l0.8 1.5l0.6 2l0.1 1.5l-0.1 2l-1.8 9l-1.2 2.7l-1.5 1.5l-1.5 0.7l-5 1l-6.5 2l-2.5 0.1l-4 -0.8l-2.5 0.2l-2 0.5l-5.5 1.9l-5.5 0.5l-6 1.9l-7.5 0.9l-1.7 0.4l-1.5 1l-3.3 4.4l-4.2 4.1l-2.3 2l-5.5 4.1l-5 6.2l-3 3l-2 1.6l-2 1.2l-2 0.7l-7 0.4zM939.3 979.3l-3.5 0.4l-3 -0.5l-11 -4.4l-2.5 -1.4l-1.2 -1.1l-1.3 -1.6l-6.8 -9.9l-1.5 -3l-0.6 -3l-0.3 -8l-0.7 -9l-1.2 -4l-2.8 -6l-0.3 -1.5l-0.1 -1.5l0.5 -2l0.7 -1.5l5.2 -7.5l2.3 -2.5l2.6 -1.9l3.5 -1.4l4 -0.7l2.5 0l11.5 0.6l2.8 -0.1l4.7 -0.6l2.5 0.1l1.5 0.5l2 0.9l15 8.3l6 2l2.5 0.5l6 0.8l5.5 1.8l2 0.3l1.5 0l2 -0.4l5 -2.1l2 -0.5l1.5 0l4.5 0.7l5.5 -0.2l2.5 0.2l3.5 1.1l10.4 5.1l2.2 1.5l1.4 1.6l0.6 1.4l0.2 1.5l-0.2 1.5l-0.7 2l-1.1 2l-1.4 2l-1.9 1.9l-1.6 1.1l-2.4 1l-3 0.6l-2 0l-7.5 -0.7l-3.5 0l-7 1.2l-9 0.8l-7 1.3l-2 0.7l-2.8 1.6l-2.2 2l-3 4l-3.5 4l-3.1 5l-7.4 7.8l-2 1.8l-2.5 1.8l-2.5 1.2l-4.5 1.3zM937.3 974.3l-3.5 0.4l-3 -0.4l-4.5 -1.6l-3.3 -1.9l-2.7 -2.3l-2.5 -2.9l-2.3 -3.8l-1.8 -4l-0.8 -3l-1.6 -11.7l-1 -5.3l-1.5 -4l-3 -5.5l-0.5 -1.5l-0.1 -1.5l0.2 -1.5l0.9 -2l4.4 -6l2.6 -2.8l2.5 -1.6l3 -1.1l4 -0.5l11.5 0.8l7.5 -0.2l2.5 0.2l2 0.6l2 1.1l13.5 9.5l2 1.2l2 0.7l5.5 1.1l7 1.9l4 0.6l2.5 0.1l2 -0.1l2 -0.5l5.5 -2.2l2 -0.5l10.5 -1.2l3 0l3 0.9l3.3 2l3.4 2.5l1.5 1.5l0.7 1l0.4 1l0.2 1.5l-0.3 1l-0.7 1.5l-1.3 1.5l-1.7 1.3l-1.5 0.9l-1.5 0.5l-3 0.2l-6 -0.8l-2.5 0l-7.5 1l-5.5 0.3l-2.2 -0.4l-3.3 -1.6l-1.5 -0.4l-1.5 0.3l-4 1.8l-3 2.1l-4.9 4.8l-3.6 5.5l-3.5 3.3l-0.9 1.2l-2.2 4.5l-1.2 2l-3.2 3.6l-2 1.9l-3 1.8l-5.5 2.3l-2.5 0.5zM942.3 970.3l-4 0l-6 0.3l-2.5 -0.3l-2.5 -1l-2.1 -1.5l-3.4 -4l-2.4 -3.5l-2.1 -4l-1.4 -4.5l-2 -9.5l-1.1 -4l-1.8 -4.5l-3.1 -5.5l-0.7 -2.5l0 -1l0.5 -1.5l0.8 -1.5l1.3 -1.7l4 -4.6l1.5 -1.2l2 -1.1l3.5 -1.1l4 -0.3l10 0.8l7 0.1l2 0.3l1.5 0.6l2 1l2 1.4l9.4 7.3l1.9 2l3.7 4.6l4 3.8l0.8 1.1l0.2 1l-0.1 1l-2.6 4.5l-1.8 6l-0.8 2l-1 1.5l-3.5 4l-3.3 6l-4.4 4.5l-3 2.5l-3.5 1.9l-1.5 0.5zM1011.8 936.3l-2 0.1l-3 -0.1l-6.5 -0.5l-3 -0.5l-2 -0.7l-1.5 -0.9l-1 -1.4l0 -1l0.5 -1l1 -1l1.5 -1l1.4 -0.5l9.1 -2.3l2 -0.2l2 0.3l2.5 1.2l1.9 1.5l1.5 2l0.5 1.5l-0.2 1.5l-1.1 1.5l-1.6 1zM944.3 966.9l-2.5 0.4l-7.5 -0.3l-3 -0.2l-2 -0.6l-2 -1.4l-3.5 -3.8l-2.5 -3.1l-1.6 -2.6l-1.5 -4l-1.8 -8l-1.1 -3.5l-2.5 -5.7l-3.3 -5.8l-0.5 -1.5l-0.1 -1l0.3 -2l1.6 -2.6l3.5 -3.7l3 -2.2l2 -0.9l2 -0.6l4 -0.5l9.5 0.9l6 0.2l3 0.6l2 0.9l2 1.1l5 3.8l4.1 4l2.2 3.5l1.8 4l0.8 3.5l0 5l-0.8 3.5l-1.1 2.3l-3 4.5l-2.1 5.2l-1.4 2.3l-5.7 6.2l-1.8 1.4zM1009.8 932.9l-2 0.3l-2.5 -0.4l-1.4 -1l-0.3 -0.5l0 -1l0.8 -1l1.9 -1l1.5 -0.1l1.5 0.2l1.4 0.9l0.6 0.9l0.1 0.6l-0.2 1l-0.4 0.5zM941.3 964.3l-7.5 -0.7l-2 -0.4l-1.5 -0.6l-2 -1.5l-4 -3.5l-2 -2.3l-1.2 -2l-0.9 -2.5l-1.6 -6.5l-1.1 -3.5l-2.8 -6l-3.7 -6.5l-0.5 -1.5l-0.1 -1l0.4 -2l1.7 -2.5l3.3 -3.1l3 -1.9l3.5 -1.2l4 -0.4l14 1.1l3 0.6l2 0.8l2 1l3.6 2.6l2.9 3l1.1 1.5l1.1 2l1.2 3.5l0.7 4l0.1 4.5l-0.7 3l-4 7l-1.9 6l-1.7 3l-2.5 3l-1.9 1.8l-2 0.9zM942.3 960.9l-2 0.2l-2.5 -0.2l-3.5 -0.7l-2 -0.7l-6.5 -4l-1.5 -1.4l-1.3 -1.8l-1 -2.5l-1.6 -6l-1.1 -3l-2.3 -4.5l-4.4 -7.5l-0.9 -2.5l0.3 -2l1.2 -2l2.6 -2.5l2.5 -1.7l3.5 -1.5l2 -0.5l2 -0.2l3.5 0.1l12.5 1.2l3 0.9l3.5 2l3.1 2.7l1.8 2.5l0.9 2.5l0.3 2.5l-0.3 8l-0.6 3.5l-0.8 2l-2.4 5l-1.9 5.5l-1 2l-1.1 1.6l-1.5 1.7l-1 0.7zM941.3 956.8l-1.5 0.2l-2.5 -0.1l-2.5 -0.3l-2 -0.6l-3.5 -1.5l-2 -1.2l-1.2 -1l-1.1 -1.5l-0.8 -1.5l-2.1 -6l-1.3 -3l-1.9 -3.5l-4.8 -7.5l-1 -2.5l0.1 -2l0.7 -1.5l1.9 -2l3 -2.2l3.5 -1.5l3.5 -0.7l4 0.1l11 1l3 0.7l3 1.5l2.8 2.1l1.7 2l0.9 2l0.2 2.5l-1.2 5l-0.5 5l-0.8 3.5l-3.1 8l-1.5 3.1l-1 1.5l-1 0.9l-1 0.7zM938.3 952.8l-3 0.1l-3 -0.6l-2.5 -1l-1.9 -1.5l-1.4 -2l-4.7 -9l-6.6 -9.5l-1 -2.5l0 -1.5l0.4 -1l1.7 -2.2l3 -2.2l3.5 -1.5l3.5 -0.6l4.5 0.1l9 0.7l3 0.6l3 1.3l2.5 1.8l1.8 2l0.8 2l0 2l-0.5 1.5l-1.8 4l-1.2 6.5l-2.2 6.5l-1.4 2.8l-1.5 1.8l-1.5 0.9zM938.3 948.3l-2 0.3l-2.5 -0.2l-2 -0.6l-1.5 -1l-2.5 -2.7l-5.2 -6.8l-5.3 -6.5l-1.7 -3l-0.3 -2l0.2 -1l0.6 -1l2.2 -2.2l1.5 -1l2 -1l3.5 -0.9l3.5 -0.2l7 0.4l4.5 0.5l3 0.8l3 1.5l2.3 2.1l0.6 1l0.5 1.5l0 1l-0.4 1.3l-3.2 5.2l-1.9 6l-2.4 5.6l-1.5 1.9l-1 0.7zM935.3 942.3l-1.5 0.1l-2 -0.4l-2 -0.8l-1.5 -0.9l-4 -3.4l-5.9 -6.1l-1.6 -2.5l-0.5 -2l0.1 -1l0.5 -1l1.8 -2l2.6 -1.6l3 -1.1l3.5 -0.4l4.5 0.1l6.5 0.5l3.5 0.7l3 1.4l2.2 1.9l0.7 1l0.3 1.5l-0.1 1l-0.7 1.5l-3.7 4.5l-2.7 4.7l-1.5 1.9l-2 1.6l-1 0.4zM934.8 937.9l-3 0.4l-1.5 -0.1l-1.5 -0.5l-3 -1.6l-3.5 -2.7l-3.2 -3.1l-1.6 -2.5l-0.2 -1l0 -1l0.4 -1l0.6 -1l2 -1.8l2.4 -1.2l2.6 -0.8l3 -0.2l6 0.1l5.5 0.6l3 0.8l2.6 1.5l1 1l0.9 1.5l0.1 1.5l-0.7 1.5l-1.4 1.6l-6 5.6l-2 1.4zM933.3 935.8l-3 0.2l-2.5 -0.5l-3 -1.5l-3 -2.2l-2.5 -2.5l-1 -2l-0.1 -1l0.2 -1l0.9 -1.5l1.8 -1.5l2.2 -1.1l2.5 -0.6l3.5 -0.3l6 0.2l4.5 0.5l3 1l2.1 1.3l0.9 1l0.5 1.5l-0.3 1.5l-1.1 1.5l-2.6 2.3l-3.5 2.4l-3 1.5zM932.3 934.4l-2.5 0.1l-2.5 -0.5l-2.5 -1.2l-2.5 -1.6l-2 -1.9l-0.9 -1.5l-0.3 -1l0.1 -1l0.7 -1.5l1.6 -1.5l2.3 -1.1l2.5 -0.7l3.5 -0.3l5.5 0.2l4 0.6l3 0.9l2 1.4l0.7 1l0.3 1.5l-0.7 1.5l-1.3 1.3l-2.5 1.8l-3 1.7l-2.5 1zM931.3 933.3l-2.5 -0.1l-2 -0.5l-2.5 -1.1l-2 -1.3l-1.4 -1.5l-0.8 -1.5l-0.1 -1.5l0.8 -1.5l1.9 -1.5l2.1 -0.9l2.5 -0.5l3.5 -0.2l5 0.2l3.5 0.6l2.5 0.8l1 0.6l0.9 0.9l0.5 1l-0.2 1.5l-0.7 1.1l-1.6 1.4l-1.9 1.2l-3 1.5l-3 0.9zM931.8 932.3l-2.5 0l-2 -0.3l-2 -0.7l-2 -1.2l-1.4 -1.3l-0.9 -1.5l-0.1 -1.5l0.5 -1l1.4 -1.3l2 -1l2.5 -0.6l3 -0.3l4.5 0.2l3.7 0.5l2.8 1l1.3 1l0.6 1l0 1l-0.5 1l-1.6 1.5l-1.8 1.1l-2.5 1.2l-2.5 0.8zM932.8 931.4l-2 0.2l-2 -0.1l-2 -0.5l-2 -0.8l-1.5 -1l-1.2 -1.4l-0.4 -1.5l0.3 -1l1.3 -1.4l1.5 -0.8l2.5 -0.7l3 -0.3l4.5 0.1l3.5 0.6l2.5 0.9l1.1 1.1l0.3 1l-0.3 1l-1.6 1.7l-1.5 0.9l-2 0.9zM931.3 930.8l-3.5 -0.2l-1.5 -0.5l-1.7 -0.8l-1.2 -1l-0.6 -1l-0.2 -1l0.3 -1l0.9 -1l2 -1l2 -0.5l3 -0.3l3.5 0.1l3 0.4l2.3 0.8l1.2 1l0.3 0.5l0 1l-0.6 1l-1.2 1l-1.5 0.8l-2 0.8l-2.5 0.7zM933.8 929.8l-2 0.3l-2 0.1l-2 -0.3l-1.5 -0.5l-1.1 -0.6l-1.1 -1l-0.5 -1l0.1 -1l0.6 -1l1.7 -1l1.8 -0.6l2.5 -0.3l3 0.1l2.8 0.3l1.9 0.5l1.6 1l0.5 1l-0.3 0.9l-0.5 0.6l-2.3 1.5zM932.8 929.4l-3 0.1l-1.5 -0.2l-1.5 -0.5l-1 -0.5l-1 -1l-0.2 -1l0.1 -0.5l0.8 -1l1.3 -0.7l1.5 -0.4l2.5 -0.3l2.5 0l2.6 0.4l1.5 0.5l1.3 1l0.1 1l-0.5 0.8l-0.9 0.7l-2.1 1zM931.8 928.8l-2.5 0l-2 -0.6l-1.2 -0.9l-0.3 -0.5l0.1 -1l0.9 -0.9l1 -0.5l3 -0.5l4 0.3l1.9 0.6l0.6 0.5l0.2 0.5l0 0.5l-0.9 1l-2.1 1zM933.3 927.9l-2.5 0.2l-2 -0.3l-1.1 -0.5l-0.5 -0.5l-0.1 -0.5l0.2 -0.5l0.5 -0.5l1.2 -0.5l1.3 -0.2l3 0l1.1 0.2l1.1 0.5l0.4 0.5l0 0.5l-0.3 0.5l-0.8 0.5zM932.8 926.9l-1.5 0.2l-1 -0.1l-0.7 -0.2l-0.4 -0.5l0.4 -0.5l0.7 -0.3l2 -0.1l1.1 0.4l0.2 0.5z" fill="none" stroke="#000" stroke-width="0.8" stroke-linejoin="round"/>
<path d="M979 960h1.5M961.4 982.7h1.5M913.3 986.3h1.5M954.3 997.9h1.5M1034.7 926.9h1.5M900.7 916h1.5M925.8 986h1.5M898.7 976.4h1.5M968.6 987.9h1.5M923.9 990.7h1.5M895.2 929.3h1.5M899.1 912h1.5M992 954.9h1.5M1024.5 961.5h1.5M911.6 988h1.5M922.1 984h1.5M936.6 997h1.5M1033.7 926.8h1.5M978.1 958.4h1.5M983.2 959h1.5M929.5 885.4h1.5M995.1 895.3h1.5M910 893.7h1.5M960.8 996.7h1.5M901.9 959.9h1.5M993.3 894h1.5M899.1 936.5h1.5M942 1000.4h1.5M1009.9 954.6h1.5M951.3 1003.4h1.5M910.6 974.8h1.5M950.1 995.2h1.5M905.7 964.6h1.5M1003.8 953.9h1.5M944.2 1016h1.5M926.9 892h1.5M1029.4 918.8h1.5M977.5 966h1.5M979.5 905.6h1.5M961.8 977.1h1.5M938.8 1001.4h1.5M959.2 1003.6h1.5M932.7 887.9h1.5M970.3 983.6h1.5M989.3 912.7h1.5M915.9 981.5h1.5M964.9 973.6h1.5M896.4 911.1h1.5M981.2 973.9h1.5M959.3 1003.9h1.5M958 980.4h1.5M961.9 980.4h1.5M993.8 961.1h1.5M971 911.6h1.5M926.6 993.8h1.5M896.4 980.6h1.5M908.9 975.5h1.5M905.6 983.5h1.5M1021.8 913.7h1.5M897.5 950.1h1.5M935.4 900h1.5M919.1 986.8h1.5M1008.7 963.5h1.5M918.7 889.4h1.5M975.3 895.1h1.5M892.4 923.9h1.5M975.8 1004.5h1.5M946.1 987.4h1.5M955.1 906.1h1.5M903.1 968h1.5M923.5 983.7h1.5M922.2 902.5h1.5M966.3 979.2h1.5M987.5 899.9h1.5M986.2 912.3h1.5M905.1 976.4h1.5M973.8 899.8h1.5M998.4 910h1.5M1043.8 939.2h1.5M1041.5 932.2h1.5M967.1 906.1h1.5M895.7 926.8h1.5M1014.3 957.2h1.5M896 931.6h1.5M1013 904.5h1.5M897.2 923.3h1.5M979.8 962.1h1.5M987.8 974.2h1.5M953.2 994.5h1.5M926 1001.6h1.5M1015.2 916.6h1.5M960.9 1007.4h1.5M918.9 1012h1.5M925.3 995.1h1.5M953.3 997h1.5M982.6 888h1.5M1004.6 956.6h1.5M923.8 900.9h1.5M936.7 897.8h1.5M937 986.3h1.5M962 980.2h1.5M1032.7 948.9h1.5M896 957.8h1.5M929.2 896.7h1.5M1007.3 951.1h1.5M903.6 965h1.5M1013.3 910h1.5M942 897.7h1.5M1022.4 950h1.5M924.4 989.7h1.5M914.5 896.3h1.5M970.6 990.1h1.5M989.1 911h1.5M936.1 987.1h1.5M1028.8 911.9h1.5M995.4 900.5h1.5M908.4 906.9h1.5M1032.8 916.8h1.5M964.7 1019.6h1.5M976.8 880.5h1.5M896.1 924.3h1.5M910.6 1004.8h1.5M923.1 901.4h1.5M999.2 956.4h1.5M991.2 889h1.5M905.5 904.1h1.5M965.1 975.4h1.5M936.4 901.6h1.5M950.3 995.5h1.5M947.6 901.5h1.5M1017.7 915.9h1.5M931 1000.7h1.5M993.1 963.1h1.5M967.9 980.2h1.5M970.1 989.1h1.5M908 886.8h1.5M903.9 963h1.5M1016.6 966.2h1.5M914.9 988h1.5M926.7 994.3h1.5M1041 930.5h1.5M1036.2 925.7h1.5M1045.4 937.3h1.5M935.5 991.2h1.5M964.8 907.9h1.5M995.3 886.3h1.5M1034.7 931.1h1.5M894.1 933.2h1.5M924.5 898.3h1.5M949.9 890.6h1.5M959.9 991.8h1.5M1049.2 933.9h1.5M902.4 971.8h1.5M921.6 881.1h1.5M1041.5 959.6h1.5M1004.6 956.3h1.5M909.1 996.7h1.5M977.6 908.9h1.5M928.8 891.7h1.5M896 934.2h1.5M958.4 897.3h1.5M923.7 985.9h1.5M903.3 974.6h1.5M897.7 918.5h1.5M941.2 898.4h1.5M968.7 911.3h1.5M1030.7 921.4h1.5M1022.4 917.8h1.5M914.3 980.1h1.5M907.2 967.7h1.5M954.2 893.4h1.5M967.4 910.1h1.5M910.8 979.5h1.5M937.4 989.1h1.5M918.2 895.5h1.5M1013.9 958.9h1.5M953.5 893.7h1.5M925.9 986.4h1.5M958 988.8h1.5M902.7 974h1.5M928.8 986.8h1.5M942.9 884.6h1.5M1042.6 925.6h1.5M903.4 888.3h1.5M969.5 901.8h1.5M916.2 1012.2h1.5M985.4 957.3h1.5M960.3 990.6h1.5M950.2 984.6h1.5M952.2 989h1.5M914.6 986.9h1.5M915 990.3h1.5M1032.6 956.3h1.5M906.9 990.7h1.5M1029.2 909.2h1.5M947.6 893.9h1.5M910.7 982.4h1.5M1035.2 932.4h1.5M947.2 899.2h1.5M948.9 896.1h1.5M929.7 1022h1.5M1049.1 918h1.5M990.5 901.5h1.5M896 939.7h1.5M924.6 899.7h1.5M968.3 894.7h1.5M1043.4 940.7h1.5M913.8 903.1h1.5M1062.6 937.2h1.5M1007.5 966.9h1.5M1044.4 942.5h1.5M896.4 915h1.5M1032.8 948.3h1.5M994.6 980.4h1.5M1054.5 920.9h1.5M895 930.3h1.5M1060.2 947.5h1.5M914.8 996.7h1.5M1010.9 901.5h1.5M950.9 903.6h1.5M898.8 908.3h1.5M990.6 911.4h1.5M918.6 872h1.5M899.9 904h1.5M966.5 909.9h1.5M963.2 894.3h1.5M951.5 887.1h1.5M969.1 988.7h1.5M914.5 992h1.5M951 992.3h1.5M973.8 988.6h1.5M927.4 902h1.5M955.6 891.7h1.5M954.2 904.5h1.5M953.4 991.1h1.5M986.9 961.1h1.5M1027.6 913.5h1.5M1014.2 907.1h1.5M909 896.5h1.5M933.2 994.9h1.5M941.6 993.1h1.5M899.1 942.6h1.5M1023.1 970.3h1.5M991.5 958.1h1.5M979.6 893.7h1.5M894.1 928.3h1.5M956.1 900.3h1.5M951.4 989.9h1.5M979 967.2h1.5M1018.6 951.6h1.5M1001.7 960.8h1.5M908 989.4h1.5M1023.3 949.4h1.5M898.1 911.7h1.5M946.9 990h1.5M962.5 973.6h1.5M1031.6 921.6h1.5M997.6 961.6h1.5M934.8 875.5h1.5M1018.5 953.1h1.5M932.3 900.5h1.5M913.7 886.3h1.5M1036.7 959.3h1.5M947.8 1001.3h1.5M1005.4 982.7h1.5M923.2 887.2h1.5M1034.3 934.1h1.5M938.1 993.3h1.5M965 902.9h1.5M974.6 964.4h1.5M968.9 1008.8h1.5M940.7 992.6h1.5M1008.3 891h1.5M1031.7 962.8h1.5M969.1 902.8h1.5M1009.5 973.3h1.5M933 898.1h1.5M938.5 888.2h1.5M975.7 977.4h1.5M896.7 960.7h1.5M1044.2 915.9h1.5M962.3 885.2h1.5M945.3 995.7h1.5M976.6 996.5h1.5M903.7 966.6h1.5M926 1022.1h1.5M1039.3 912.1h1.5M941.4 893.8h1.5M946.9 988.2h1.5M923.5 903.8h1.5M913 978.6h1.5M921.7 984.7h1.5M1014.9 896.3h1.5M892.5 926.8h1.5M987.7 973.3h1.5M951.8 1006.2h1.5M969.5 901.8h1.5M1012.1 912.7h1.5M893.3 960.1h1.5M1029.6 959.9h1.5M932.8 900.9h1.5M991.7 957h1.5M959.9 899.7h1.5M917.8 893.3h1.5M941.6 989.1h1.5M986.7 906.7h1.5M984.2 912.1h1.5M1029 918.7h1.5M902.1 906.5h1.5M949.3 985.1h1.5M959.8 980h1.5M1033.3 938.4h1.5M937.6 900.6h1.5M897.3 938h1.5M941.9 998.4h1.5M999 954.4h1.5M970.1 907.9h1.5M974.7 902.8h1.5M1042.2 942.4h1.5M934.2 994.3h1.5M961.9 905.2h1.5M1051.1 931.5h1.5M1036.3 941.3h1.5M999.7 905h1.5M977.4 962.8h1.5M927.2 892.1h1.5M1026.8 915.7h1.5M1009.9 953.9h1.5M939.2 897.5h1.5M907.7 974.4h1.5M909.9 970.4h1.5M995.6 953.8h1.5M945.1 888.2h1.5M940 893.2h1.5M1010.6 901.9h1.5M972 972.1h1.5M896.2 910.9h1.5M976 983h1.5M923.3 903.2h1.5M940.1 896.6h1.5M1004.5 952.8h1.5M893.7 918.7h1.5M926.2 987.1h1.5M944.5 888.7h1.5M939.9 874.7h1.5M956.6 897.7h1.5M956.6 993.8h1.5M971.9 970.5h1.5M916.1 901.6h1.5M931.9 1012.5h1.5M920 1008.7h1.5M910.6 973.6h1.5M1014.7 956.5h1.5M907.5 977.6h1.5M1036.9 916.4h1.5M959.7 975.8h1.5M925.4 902.5h1.5M957.9 900.6h1.5M1032.1 942h1.5M933.5 887.8h1.5M906.3 977.7h1.5M940.7 877.6h1.5M899.5 939.6h1.5M903.4 976.8h1.5M1031.7 962.2h1.5M1047.7 962.3h1.5M1032.2 943.9h1.5M1039.9 970.5h1.5M1039.9 996h1.5M1008.6 970.1h1.5M1042.7 969.9h1.5M1036.4 962.4h1.5M1025.2 976h1.5M1038.2 957.1h1.5M1033.3 977.9h1.5M1032.7 960.8h1.5M1027.3 963.4h1.5M1044.2 967.3h1.5M1038.4 964.3h1.5M1018.9 964.7h1.5M1039.2 982.5h1.5M1026.6 963.7h1.5M1046.2 959h1.5M1013.6 986.2h1.5M1034.1 958.6h1.5M1034 957.7h1.5M1024 970.5h1.5M1030.6 967.8h1.5M1040.4 958.3h1.5M1038.6 970.4h1.5M1042.9 971h1.5M1041.1 981.2h1.5M1038.8 960.1h1.5M1027.8 967.3h1.5M1042.9 953.7h1.5M1039.3 968.3h1.5M1035.1 975.8h1.5M1033.8 960.8h1.5M1037.8 979.9h1.5M1026.8 969.1h1.5M1027.5 961.9h1.5M1039 962.3h1.5M1023.3 963.9h1.5M1026.1 966.1h1.5M1044.5 983.6h1.5M1028.8 969h1.5M1025.2 982.5h1.5M1042.7 951.3h1.5M1016.1 981.3h1.5M1029.9 959.9h1.5M1032.3 987.9h1.5M1028 964.1h1.5M1042 968.9h1.5M1052.8 969.2h1.5M1050.2 962.7h1.5M1037.4 991.3h1.5M1047.9 958.1h1.5M1048.4 943.7h1.5M1032.3 979.4h1.5M1014.6 977.9h1.5M1025.1 965.9h1.5M1023.5 959h1.5M1031.5 968.8h1.5M1038.4 969.3h1.5M1023.9 989.5h1.5M1039.1 963.4h1.5M1035.9 965.8h1.5M1026.9 974.4h1.5M1030.7 974.8h1.5M1026.9 971.8h1.5M1030.5 977.9h1.5M1016 977h1.5M1043.6 962h1.5M935.9 901.5h1.5M929.2 900.1h1.5M967.6 909.3h1.5M960.2 893.6h1.5M985.6 904.9h1.5M919.3 895.9h1.5M966.4 900.7h1.5M1030.9 901.7h1.5M939.2 902.8h1.5M956.9 899.3h1.5M1004.4 997.6h1.5M989.8 982.9h1.5M957.8 1025.4h1.5M945.2 989.8h1.5M936.4 1015.9h1.5M1007.1 968.4h1.5M980.4 1002.1h1.5M948.5 1004.9h1.5M968.1 996.8h1.5M1004.4 1021.7h1.5M947 1023.1h1.5M1062.3 1004.7h1.5M941.8 987.7h1.5M912.1 999.9h1.5M972.5 975.7h1.5M984.4 994.5h1.5M1004 960.7h1.5" fill="none" stroke="#000" stroke-width="1.5"/>
</g>
<rect x="891.8" y="840.8" width="187.4" height="185.7" fill="none" stroke="#222" stroke-width="1.3"/>
<path d="M1064.5 991V949.6H1011.7V1008H1026.4" fill="none" stroke="#1c1ce0" stroke-width="1.3"/>
<text x="1028.4" y="1007.1" font-size="15.8" text-anchor="start" fill="#1c1ce0"  stroke="#1c1ce0">0.727</text>
<text transform="translate(878.5 933.4) rotate(-90)" font-size="16.5" text-anchor="middle" fill="#111" stroke="#111">CD38</text>
<text x="981.4" y="1050" font-size="16.5" text-anchor="middle" fill="#111"  stroke="#111">CD34</text>
<clipPath id="c21"><rect x="129.3" y="1086.7" width="187.4" height="187.3"/></clipPath>
<g clip-path="url(#c21)">
<path d="M129.3 1150.5l4.5 -3.4l2 -1.3l7 -2.9l10.5 -5.1l4 -1.2l12.5 -2.5l2.5 -0.3l3 0.1l7 1.7l3 0.2l2.5 -0.5l5.5 -2.4l3 -0.8l2 -0.2l5.5 0.1l6 -1l2.5 0l4 0.9l5.5 1.9l2 0.5l10 1.1l6.5 1.3l5 0.2l3 0.5l5 1.5l1.5 0.8l1.5 1.3l2.8 3.7l1.5 3l0.5 2.5l0.6 6l0 2.5l-0.5 5.5l-0.2 5.5l0.9 10.5l-0.4 2.5l-1.4 5l-0.1 1.5l0.2 1.5l0.6 2l0.7 1.5l4.3 5.9l2.4 4.1l5.4 14.5l0.6 2l0.3 2.5l0.1 9.5l-1.8 9.3l-1.2 8.2l-0.7 2.5l-0.8 2l-0.9 1.5l-3.9 5l-2.3 4.5l-0.9 1.5l-2.3 2.3l-3 1.5l-6.5 2.1l-5.6 0.6M239.5 1273.7l-2.2 -0.8l-2 -1.5l-6.1 -5.7l-1.7 -2l-2.4 -3.5l-1.3 -1.4l-4.5 -3.1l-2 -2l-1 -0.5l-1 0.2l-3.5 1.5l-5.5 1.2l-2.5 0.7l-5.5 2.6l-2 0.8l-8 1.3l-2.5 0.6l-2 0.9l-5.5 3.1l-3.5 1.2l-2.5 0.4l-2.5 0.1l-8 -0.8l-2 -0.3l-2.1 -1l-3.4 -2.9l-1.5 -0.9l-2 -0.6l-5 -0.7l-1.5 -0.6l-1.1 -0.8l-0.9 -1l-0.6 -1l-1.6 -4.5l-3.2 -4.5l-0.7 -2l-0.2 -2.5l0.6 -3.5l0.7 -1.7l1.4 -2.3l0.3 -1l0.1 -1.5l-0.4 -3.5l0.2 -2.5l0.7 -2.5l1 -1.5l1.2 -1l1.5 -0.7l6.5 -1.2l2.5 -1l5.5 -2.6l2 -0.6l2 -0.1l2 0.3l2 0.7l5.5 3.1l2 0.9l2 0.5l4.5 0.4l2 0.5l9.5 3.8l2 1.6l1.7 2.4l0.9 2l1 4l0.8 2l1.4 2.5l1.9 2l1.8 1.2l2.5 0.9l9 2.3l1 0l0.5 -0.2l0.5 -0.6l0.5 -1l0.4 -2.1l-0.2 -8l0.1 -2.5l0.4 -2.5l1.9 -6.5l3.3 -8l2.8 -5.5l1.6 -2.5l1.4 -1.5l3.3 -2.8l1.6 -1.7l3.4 -4.4l3.3 -3.6l0.7 -1l0.7 -1.5l2 -10l0.6 -7l-0.1 -3l-0.2 -2l-0.6 -1.5l-1.2 -1.5l-1.2 -0.7l-1.5 -0.5l-1.5 0l-1.5 0.5l-1.5 0.9l-3.5 2.7l-2 1.3l-2.5 0.9l-4.5 0.9l-2 0.7l-6 4.2l-7.5 2.9l-5.5 3.6l-2.5 1.2l-2.5 0.7l-4.5 0.9l-6.5 1l-6 1.1l-2 0.1l-2 -0.3l-11.5 -2.4l-2.5 -0.6l-4.5 -1.6l-5 -1.1l-3 -0.4l-6.5 -0.4l-6.5 -0.9l-3.5 -1.1l-1.5 -0.9l-1.5 -1.1M179.3 1184.2l-3.5 0.1l-3.5 -0.4l-8.5 -2.3l-6 -1.9l-11 -1.7l-3.5 -1.1l-3.5 -1.9l-1.2 -0.8l-0.9 -1l-0.5 -1l-0.5 -1.5l-1.1 -11.5l0.2 -1.5l0.5 -1l1.7 -1.5l4.2 -3l5.7 -3l1.4 -1.4l2.2 -3.1l1.1 -1l1.5 -1l9.2 -3.7l3.5 -0.9l3.5 -0.5l4 0.1l8 1.3l3.5 0.2l3 -0.4l8 -2.1l6 -0.3l5.5 -0.6l3.5 0.1l3.5 0.7l6.5 2.6l6 1.3l11.5 3.6l9.5 1.3l2 0.5l1.5 0.7l0.8 0.6l1.6 2l0.5 1.5l0.2 1.5l0.1 3l-0.1 2l-0.5 1.5l-0.6 1l-1.5 1.2l-1.5 0.4l-2.5 -0.1l-2.5 -0.6l-5 -1.7l-2.5 -0.4l-2.5 0l-2 0.4l-1.5 0.7l-1 0.8l-3 4.2l-1.9 1.6l-2.1 1l-4.5 1.4l-2 0.9l-7 4.9l-10 5l-4 1.4l-7.5 0.8l-7 2zM250.3 1268.2l-2.5 0.3l-2.5 -0.2l-3 -0.4l-2.5 -0.7l-2 -1l-2 -1.3l-3.5 -3.2l-3.4 -4l-3.8 -4l-1.1 -1.5l-0.8 -1.5l-0.7 -2l-0.4 -2.5l-0.8 -6.5l-0.2 -4l0.4 -4.5l1.2 -4.5l5.8 -12.5l1.6 -3l1.2 -1.7l1.8 -1.8l6.7 -5.6l2 -1.9l4.2 -5l1.8 -3.8l1 -1.5l1 -0.8l1 -0.3l1 0.4l1.5 1.3l4.5 7.2l4.6 5.5l2.1 3l5.4 12.5l0.7 2.5l0.2 3l-0.3 8.5l-0.3 3.5l-2.1 13l-1.1 3.5l-1.5 2.5l-3.7 4.5l-2.5 3.8l-1 1.2l-1.5 1.2l-1.5 0.7l-2.5 1zM171.8 1261.2l-3 0.4l-2 0.1l-2 -0.3l-2 -0.7l-10.3 -7l-5.4 -5.5l-1.8 -3.2l-0.5 0.2l-1.9 1.5l-1.6 0.4l-1.5 -0.5l-0.8 -0.9l-0.4 -1l-0.1 -1.5l0.4 -1.5l0.9 -1.1l1 -0.3l1.5 0.2l1 0.6l2 2.5l0.5 -0.6l0.5 -1.3l2 -6.5l1.5 -2.8l1.5 -2.2l2.1 -2l3.2 -2.5l3.2 -1.8l2.5 -1l2.5 -0.1l2.5 0.8l8 4.1l6 2.7l5.5 3.5l1.4 1.3l1.1 1.5l2 4.5l1 1.6l6 6.4l1.4 2l0 1l-0.7 1l-1.2 1l-2 1l-3 0.7l-9.5 0.8l-1.5 0.6l-2.9 1.9l-1.6 0.8l-2 0.6zM179.3 1181.3l-4 0.2l-3.5 -0.5l-6.5 -2l-6 -2.1l-9 -2l-2.5 -0.8l-2 -0.8l-1.5 -1.1l-1.1 -1l-1 -1.5l-0.9 -2l-0.4 -1.5l-0.2 -2l0.3 -2l0.6 -1.5l1.1 -1.5l1.5 -1.5l7.2 -6l3.4 -4.1l2 -1.8l3.5 -2.3l3 -1.7l2.5 -0.9l2.5 -0.5l2.5 -0.1l3 0l11.5 1.2l6.5 -0.3l5.5 0.3l3 -0.3l6.5 -1.5l3 0.1l7.5 1.5l8 2.9l2.2 1l2.6 1.5l1.3 1l0.9 1l0.5 1.5l-0.4 1l-3.6 3l-1.5 1.6l-1.8 2.4l-2.1 3.5l-1.3 1.5l-1.3 1l-5.5 3.3l-5.6 4.2l-2.9 2l-3 1.6l-3.5 1.2l-4 0.8l-6.5 0.5l-2 0.6l-5.5 2.2zM249.8 1264.7l-2 0l-2.5 -0.4l-4.5 -1.1l-2.5 -1l-2.5 -1.9l-7.4 -7.6l-1.4 -2l-0.9 -2.5l-1.6 -8.5l-0.3 -4.5l0.5 -4l0.9 -3.5l3 -6l2.9 -7l2 -3.5l3 -3l5.7 -4l4.6 -3.9l2.5 -1.4l2 -0.5l1 0.1l1 0.4l2 1.4l4 3.7l2.2 2.7l1.3 2.3l2.2 4.7l2.8 5.5l0.7 2.5l0.1 2.5l-1.4 18.5l-0.9 5.5l-1.2 3.5l-1.1 2l-1.1 1.5l-6.6 6.9l-1.5 1.1l-1.5 0.7zM169.3 1254.7l-2.5 0.4l-2 -0.3l-2 -0.9l-4 -2.4l-2 -1.6l-1.5 -1.8l-1.6 -2.4l-0.8 -2l0 -2l0.7 -2l1 -1.5l4.2 -5.4l1.1 -1.1l1.4 -1l2 -0.9l2 -0.5l2 0l2 0.6l2 1.1l3.2 2.2l2.6 2l2.9 3l1.1 1.5l0.6 1.5l-0.1 1.5l-0.5 1.5l-0.8 1.5l-1.2 1.5l-6.9 6l-1.4 0.9zM141.3 1243.9l-0.5 0l-0.2 -0.2l0.2 -0.7l0.6 0.2zM179.3 1178.8l-4 0.3l-3.5 -0.5l-18 -6l-2.5 -1.1l-2.2 -1.3l-1.6 -1.5l-1.3 -2l-0.5 -1.5l-0.1 -1.5l0.5 -1.5l0.9 -1.5l2.6 -3l4.2 -3.8l4 -4.9l4 -3.3l2.5 -1.5l2 -0.8l2 -0.5l3 -0.3l4 -0.1l3.5 0.2l12 0.9l5 0.8l2 0.2l3 -0.3l6 -1l2 -0.1l5.5 0.8l3.5 1l3.3 1.7l1.2 1l0.8 1l0.5 1l0.2 1l0 1l-0.3 1.5l-1.2 2.5l-2.7 4l-1.3 1.5l-1.6 1.5l-10.9 8.7l-2 1.2l-2.5 0.9l-3.5 0.7l-6 0.5l-2.5 0.5l-3.1 1l-4.9 2zM250.8 1261.7l-1.5 0l-2 -0.2l-5.5 -1.3l-2 -0.7l-2.5 -1.8l-4.9 -5l-1.5 -2l-0.9 -2l-1.1 -4.5l-1.4 -5l-0.4 -4l0.3 -3.5l0.9 -3l2.5 -5.5l2.5 -6.8l2.2 -3.7l1.3 -1.6l2 -1.8l6 -3.9l3.5 -1.8l3 -0.4l2.5 0.3l2 0.9l2 1.5l1.6 1.8l1.4 2.2l5.1 9.3l0.8 2.5l0.2 2.5l-0.8 9.5l-0.5 10l-0.7 4l-1 3l-1.1 2l-1.1 1.5l-1.9 2l-3 2.7l-3 2l-1.5 0.5zM168.8 1245.8l-2 0.3l-1.5 -0.1l-2.7 -0.8l-2.3 -1l-1 -0.9l-0.3 -0.6l-0.2 -1l0.5 -1.3l0.9 -1.2l1.1 -0.9l2.5 -1.1l1.5 -0.3l1.5 0l1.5 0.3l1.5 0.7l1.5 1l1.2 1.3l0.8 1.5l0 1l-0.4 1l-0.6 0.6l-1.5 0.8zM177.8 1176.7l-2.5 0.2l-3 -0.4l-2.5 -0.7l-7.1 -2.6l-4.8 -2l-2.8 -1.5l-1.8 -1.5l-1.1 -1.5l-0.6 -1.5l0 -1.5l0.3 -1.5l0.6 -1.5l6 -9l1.8 -1.9l2.5 -1.9l3 -1.6l3 -1l5.5 -0.8l4.5 -0.2l9.5 1l8.5 1.4l3 -0.1l6.5 -0.7l3 0.1l3 0.7l3 1.1l2 1.2l1.1 1.2l0.5 1.5l-0.3 2l-1.2 2.5l-2.3 3.5l-2.8 3l-8.5 7l-2 1l-2 0.6l-8 1.2l-3 0.7zM252.3 1259.3l-1.5 0.2l-2 -0.1l-2.5 -0.6l-3.2 -1.1l-3.3 -1.7l-3 -2.8l-1.9 -2.5l-1.1 -2l-1.4 -4.5l-1.9 -5l-0.5 -2l-0.2 -2l0.3 -3l0.8 -3l4 -11l1 -2l1.3 -2l3.1 -3.3l4 -2.8l3.5 -1.5l3.5 -0.6l2 0.2l2 0.7l1.5 1.1l1.5 1.6l6.1 10.1l0.7 2l0.4 2.5l-0.9 10.5l-0.2 9l-0.5 3l-0.7 2.5l-1.5 3l-2.4 2.8l-4 3l-1.5 0.8zM177.8 1174.3l-2.5 0.3l-2.5 -0.2l-2.5 -0.7l-5 -1.8l-2.8 -1.2l-2.7 -1.5l-1.9 -1.5l-1.2 -1.5l-0.6 -1.5l-0.2 -1.5l0.2 -1.5l0.6 -2l1.6 -3.5l1.3 -2.5l1.2 -1.5l2 -1.7l3 -1.7l3.5 -1.2l5.5 -1.3l4 -0.3l5.5 0.4l11.5 2.1l2.5 0l6 -0.4l2.8 0.1l1.7 0.4l1.2 0.6l1.4 1l1 1l0.7 1.5l0.2 1.5l-0.5 2.5l-0.9 2l-2 2.5l-7.1 6l-2 1.1l-2 0.8l-9 1.7l-7.1 1.9zM250.8 1257.7l-3 -0.4l-4 -1.6l-2.8 -2l-2.4 -2.5l-2.1 -3.5l-2.5 -6.5l-1.3 -4l-0.3 -3l0.2 -2l0.4 -2l2.6 -8l1.4 -3.5l1.7 -3l3.1 -3.5l3 -2.2l3 -1.3l3.5 -0.6l2 0.3l1.5 0.6l1.5 1.1l1.5 1.7l3.6 5.4l1.7 3l0.9 2.5l0.1 2.5l-0.8 10l0 8.5l-0.4 3l-0.8 2.5l-1.8 3l-1.4 1.5l-1.6 1.4l-2 1.3l-1.5 0.7l-1.5 0.4zM174.8 1172.2l-1.5 -0.1l-2 -0.5l-6.5 -2.4l-3 -2l-1 -1l-1.1 -1.5l-0.5 -1.5l-0.1 -1.5l0.4 -2l0.6 -2l0.9 -2l1 -1.5l1.3 -1.3l1.5 -1l3.5 -1.5l5.5 -1.9l3 -0.6l3 -0.2l5.5 0.7l9.5 1.9l2 0.1l5.5 -0.3l2.5 0.1l1.5 0.5l1 0.5l1.3 1.5l0.5 1.5l0.1 1.5l-0.3 1.5l-0.7 1.5l-1.2 1.5l-3.8 3.5l-2.9 2.2l-3.5 1.3l-6.5 1.3l-13 3.4zM253.3 1255.8l-1.5 0.3l-1.5 0l-3 -0.6l-3.3 -1.8l-2.7 -2.5l-2.2 -3l-1.9 -4l-1.8 -5.5l-0.7 -4l0.2 -3.5l1.1 -4.5l2 -5.5l2 -4l2.3 -2.9l2.5 -2.2l2.5 -1.3l3 -0.7l2 0l1.5 0.5l1.5 0.9l1.5 1.5l2.5 3.3l2.2 3.4l0.9 2l0.5 2.5l0 3l-0.7 8.5l0.2 7.5l-0.7 4l-1.3 3l-1.6 2.1l-2.5 2.1zM176.8 1169.3l-3.5 0l-4 -1l-3.4 -1.6l-2.2 -2l-0.9 -1.5l-0.3 -1l-0.1 -1l0.1 -1.5l0.5 -1.5l0.8 -1.5l1.8 -2l3.6 -2l4.6 -2l3 -0.8l2.5 -0.2l3 0.2l5 0.8l7.5 1.8l5.5 -0.2l2 0.2l2 0.7l0.9 1l0.3 1l0 1l-0.2 1l-0.6 1l-3.4 3.6l-1.5 1.2l-1.5 1l-3 1.1l-5.5 1l-5.7 1.6zM253.8 1254.2l-2.5 0.5l-1.5 -0.1l-1.5 -0.4l-3 -1.5l-2.3 -2l-2.2 -3l-1.7 -3.5l-1.6 -4.5l-0.8 -4.5l0 -3.5l0.7 -4l1.6 -4.5l2.1 -4.5l2.2 -3l2 -1.9l2.5 -1.3l2.5 -0.6l2 0.1l1.5 0.6l1.5 1.1l1.5 1.5l2.3 3l1.6 2.5l0.8 2l0.3 2l0 3l-0.5 8l0.2 7.5l-0.5 3l-0.9 2.5l-1.7 2.5l-2.1 1.8zM180.3 1165.8l-3.5 0.3l-2.5 -0.1l-2.5 -0.5l-1.8 -0.8l-1.8 -1.5l-0.8 -1.5l-0.1 -1.5l0.5 -1.5l1.6 -2l3.1 -2.5l2.8 -1.4l3 -0.6l3 0.1l7 0.9l2 0.7l4 1.6l3.5 1.1l0.7 0.6l-0.1 1l-0.9 1.5l-1.1 1l-1.5 1l-11.1 3.3zM252.3 1253.2l-2.5 0l-2.5 -0.9l-2.3 -1.6l-1.8 -2l-1.8 -3l-1.5 -3.5l-1.2 -4l-0.5 -3.5l0.1 -3.5l0.8 -4l1.3 -3.5l2 -4l1.7 -2.5l1.7 -1.6l2 -1.2l2.5 -0.7l2 0.2l1.5 0.6l1.5 1.1l1.5 1.5l2 2.6l1.1 2l0.7 2l0.3 2l-0.5 10l0.2 7l-0.5 3.5l-1.1 2.5l-1.7 2.1l-2.5 1.7zM180.8 1161.7l-1.5 0l-1.5 -0.3l-1 -0.5l-0.8 -0.7l-0.4 -1l0 -1l0.4 -1l0.5 -0.5l1.8 -0.7l2 0l4.5 0.7l1.5 0.5l0.6 0.5l0.2 0.5l0 0.5l-1 1l-2.8 1.5zM252.8 1251.8l-2.5 0l-2 -0.6l-2 -1.2l-2 -2l-1.7 -2.8l-1.3 -3l-1.1 -3.5l-0.5 -3.5l0 -3.5l0.6 -3.5l1 -3l1.7 -3.5l1.5 -2.5l1.8 -1.9l2 -1.3l2 -0.5l2 0.3l1.5 0.6l1.5 1.1l1.5 1.5l1.5 2l0.9 1.7l0.4 1.5l0.3 2l-0.4 9.5l0.2 7l-0.4 3l-1 2.2l-1.5 1.9l-2 1.3zM253.3 1250.3l-2 0.2l-2 -0.4l-2 -1.1l-2 -1.8l-1.5 -2.3l-1.3 -2.7l-0.9 -3l-0.6 -3l0 -3l0.4 -3.5l0.8 -3l1.1 -2.6l1.6 -2.9l1.7 -2l1.7 -1.3l2 -0.6l1.5 0.1l1.5 0.5l1.5 0.9l1 0.9l1.3 1.5l0.9 1.5l0.6 1.5l0.4 2l0 2.5l-0.4 7l0.2 6.5l-0.3 2.5l-0.7 2l-1 1.5l-1.5 1.3zM253.8 1248.7l-2 0.4l-2 -0.3l-2 -1.1l-1.5 -1.3l-1.5 -2.1l-1.3 -2.6l-1 -3l-0.4 -2.5l0 -3l0.5 -3l0.8 -3l1.1 -2.5l1.3 -2.2l1.5 -1.8l1.5 -1.1l2 -0.6l1 0.1l1.5 0.4l1.5 1l1 0.9l1.5 2.3l0.5 1.5l0.2 1.5l-0.2 8.5l0.2 6l-0.3 2.5l-0.4 1.5l-1 1.7l-1 1zM253.3 1247.4l-1.5 0.2l-2 -0.4l-1.5 -0.8l-1.5 -1.4l-1.3 -1.8l-1.2 -2.5l-0.8 -2.5l-0.3 -2l0 -2.5l0.4 -2.5l0.8 -3l1.1 -2.5l1.2 -2l1.2 -1.5l1.4 -1l1.5 -0.5l2 0.2l1 0.5l1 0.8l1.5 2l0.6 1.5l0.2 1.5l-0.1 13.5l-0.2 2.3l-0.5 1.6l-0.7 1.1l-1 1zM252.8 1245.8l-1.5 0.1l-1.5 -0.4l-1.3 -0.8l-1.2 -1.1l-1 -1.4l-1.1 -2l-0.6 -2l-0.3 -2l0 -2l0.4 -2.5l0.7 -2.5l1.1 -2.5l1.2 -2l1.1 -1.2l1.2 -0.8l1.3 -0.3l1 0l1 0.4l1.5 1.3l1 1.9l0.4 2.2l-0.1 11l-0.3 2.9l-0.5 1.5l-0.5 0.8l-1 1zM252.8 1243.8l-1 0.3l-1 -0.1l-1.5 -0.6l-1 -0.8l-1 -1.1l-1 -1.8l-0.6 -1.5l-0.3 -2l0 -1.5l0.3 -2l0.6 -2.1l1 -2.4l1 -1.8l1 -1.1l1 -0.8l1 -0.3l1.5 0.3l1 0.7l0.9 1.5l0.4 2l0 8.5l-0.2 3l-0.6 2l-0.7 1zM251.8 1241.8l-1 0.1l-0.8 -0.2l-0.7 -0.4l-1 -0.9l-1.2 -2.2l-0.5 -2.5l0.5 -3l1.2 -3l1.5 -2.2l1.5 -0.9l1 0.2l0.5 0.4l0.5 0.8l0.4 1.7l0.2 3l0 4l-0.2 2.5l-0.4 1.1l-0.5 0.8zM251.3 1238.8l-1 0.2l-1 -0.6l-0.7 -1.2l-0.3 -1.5l0.2 -1.5l0.6 -1.5l0.7 -1.1l1 -0.6l0.5 0.2l0.5 0.6l0.6 2.9l-0.2 2.5l-0.4 1.1z" fill="none" stroke="#000" stroke-width="0.8" stroke-linejoin="round"/>
</g>
<rect x="129.3" y="1086.7" width="187.4" height="187.3" fill="none" stroke="#222" stroke-width="1.3"/>
<polyline points="129.3,1089.3 259.3,1089.3 265.7,1093.3 265,1108.3 226.7,1178.3 200,1185 129.3,1187.7" fill="none" stroke="#1c1ce0" stroke-width="1.4"/>
<text x="133.8" y="1106.8" font-size="15.8" text-anchor="start" fill="#1c1ce0"  stroke="#1c1ce0">26</text>
<line x1="256.5" y1="1127.7" x2="336" y2="1127.7" stroke="#000" stroke-width="3.4" />
<path d="M342.4 1127.7L333.4 1122.7L336.4 1127.7L333.4 1132.7z" fill="#000"/>
<text transform="translate(119 1186) rotate(-90)" font-size="16.5" text-anchor="middle" fill="#111" stroke="#111">hCD45</text>
<text x="219.8" y="1296.7" font-size="16.5" text-anchor="middle" fill="#111"  stroke="#111">mCD45.1</text>
<clipPath id="c22"><rect x="379" y="1086.7" width="188.3" height="186.6"/></clipPath>
<g clip-path="url(#c22)">
<path d="M519 1256.2l-10.5 0.2l-2.5 -0.5l-5 -1.4l-3 -0.4l-6.5 0.1l-5.5 -0.3l-5.5 0.2l-3.5 -0.3l-2 -0.4l-2.5 -0.9l-6.5 -3.3l-8.5 -3.5l-2.5 -0.5l-8.5 -1.1l-4 -1.1l-2.5 -0.9l-2 -1.3l-4.6 -4.6l-6.6 -5l-2.3 -1.5l-3.1 -1.5l-7.4 -2.7l-4 -1.7l-3.5 -1.9l-9 -5.6l-2.2 -2.1l-4.3 -6l-4.1 -8l-0.8 -2l-0.2 -2l0.8 -4l0.1 -2l-0.7 -7.5l-0.3 -1.5l-0.5 -1.5l-2.1 -3l-0.7 -1.5l-0.3 -1.5l-0.3 -5l0 -3.5l0.6 -4.5l0.7 -2.5l0.8 -1.5l0.9 -1l1.7 -1.5l4.9 -3.3l8.5 -4l5 -1.9l5 -2.6l2.5 -1.1l4.5 -1l8 -0.5l9.5 -1l7.5 -2.2l3.5 -0.4l3 0.2l5 1.1l10 3.2l12 3.1l3 1.6l4.5 3.4l4.8 2.9l1 1l0.6 1l0.9 3.5l0.9 1.5l1.3 1.1l4.1 2.4l1 1l0.8 1.5l0.2 1l-0.1 1.5l-1.5 4.5l-1 6l-0.9 2l-1.1 1.3l-4.5 3l-4.5 4.2l-3.5 2l-1.8 1.5l-2.9 4.5l-3 3.5l-0.6 1l-0.2 1.5l0.7 1.5l1.3 0.9l1 0.5l3.5 0.9l13 1.8l9 0.2l3.5 0.5l3.5 1l9.5 3.7l2.5 0.7l2.5 0.2l5 -0.7l3 -0.1l2.5 0.2l4 0.9l6.5 2l4 1.8l1.5 1.1l1.3 1.4l0.9 1.5l0.5 1.5l0.4 3.5l-0.4 4.5l-0.6 2.5l-1.6 4.7l-1.3 4.8l-0.7 1.7l-1 1.7l-3.5 4.1l-2 1.5l-2 0.8l-2 0.2l-8.5 0l-2 0.4l-4.9 1.6zM511 1250.8l-3 0.3l-3 -0.2l-13 -1.7l-5 -1.2l-2.5 -0.3l-2.5 -0.1l-4.5 0.4l-2 -0.1l-2 -0.6l-4.5 -2.1l-6 -1.6l-5.5 -2l-6.5 -1.3l-3 -0.9l-4 -1.9l-5.5 -3.9l-5 -2.9l-5.5 -3.4l-4 -2l-8.5 -3.5l-12 -7.6l-2.5 -2.5l-2.4 -4l-4.5 -9.5l-0.7 -2.5l-0.5 -6.5l0.2 -5l-0.2 -2l-1.4 -6.5l-1.9 -6.5l-0.3 -3l0.3 -2.5l0.8 -2.5l1.4 -2.5l1.7 -2.5l2 -2l2.5 -1.7l8.1 -3.8l5.9 -3.3l3 -1.3l2 -0.5l2.5 -0.4l16 -1.2l6.5 -1.9l2.5 -0.4l2 0l2.5 0.4l5.5 1.7l15.5 4.2l3.5 1.2l2.5 1.5l2.1 2l4.3 5l0.9 1.5l1.7 4.1l2 3.9l0.7 2l0.2 1.5l0 2.5l-0.5 2.5l-1.1 3l-0.9 1.5l-1.2 1.5l-10.7 9.4l-3.9 3.1l-2.1 1.4l-2.5 1.3l-4.5 1.9l-1.5 1.1l-0.4 0.8l-0.2 2.5l-0.3 1.5l-0.6 1l-2 2.6l-0.4 0.9l-0.1 1l0.2 1l0.8 1.5l4 5l2 1.6l1 0.4l1 0.1l1 -0.2l1 -0.5l3.1 -2.9l1.4 -1l1.5 -0.8l2 -0.6l2.5 -0.2l5.5 0l17.5 -1l3.5 0.1l3 0.5l3 0.8l11.2 4.7l2.8 0.8l2 0.1l5.5 -0.7l3 -0.1l4 0.3l4.5 1l3 1l2.1 1.1l1.6 1.5l1.1 2l0.4 2l0 2l-0.4 2.5l-0.6 2l-1.2 2.5l-1.7 2.5l-1.8 2.1l-2 1.7l-5 2.9l-4.5 1.9l-2.5 0.5l-5.5 0.6l-7 2.6zM510 1246.7l-2.5 0.4l-3 -0.1l-7.5 -1.3l-6 -0.7l-10.5 -2.1l-2.5 -0.2l-4.5 0l-7.5 -1.1l-3.5 -0.9l-5.5 -2.4l-6.5 -1.7l-3 -1.5l-4.5 -3.9l-2 -1.3l-5.5 -2.2l-6.5 -3.9l-12.5 -5.4l-10.5 -7.4l-1.7 -1.8l-1.5 -2.5l-3.2 -9l-0.5 -2.5l-0.2 -2.5l0.1 -2.5l0.4 -3.5l-0.1 -2l-0.4 -1.5l-1.9 -3.5l-0.7 -2l-1.9 -9l0 -2.5l0.5 -2.5l1.7 -3.5l1.9 -3l2.1 -2l3.7 -2.5l8.2 -4.8l4 -1.8l4 -0.9l15.5 -1.2l8 -1.8l1.5 -0.1l2 0.3l5.9 1.8l6.1 1.4l6.5 1.7l4.5 1.7l2.9 1.7l2.5 2.5l2.6 3.5l1.4 2.5l1.2 3.5l1 5l0.2 3l-0.4 2.5l-1.5 3l-1.5 2l-1.9 2l-3.5 2.8l-2.5 1.7l-11 4.8l-8.6 3.2l-6.6 4l-1.6 1.5l-4.2 4.8l-0.8 1.7l0.1 1.5l0.6 1l1.2 1l5.9 2.6l7 4.9l2 1.7l3 3.3l1.1 1l1.4 0.8l2 0.5l3.5 0.1l1.5 -0.2l1.5 -0.6l2 -1.6l2.2 -3l1 -1l1.3 -0.9l1.5 -0.6l10 -1.5l14.5 -1.5l3.5 0.3l4 1l6 2.4l6.5 3.2l2 0.6l2.5 0.2l8 -1.2l5 0.3l3 0.6l2.5 0.9l1.9 1.2l1.3 1.5l0.6 1.5l0.3 2l-0.2 2.5l-0.6 2l-1 2l-1.5 2l-1.4 1.5l-1.9 1.3l-3 1.4l-4 1.1l-2.5 0.2l-5.5 -0.4l-3.5 0.6l-3.5 1.3l-5.7 3zM442 1222.3l-1 0.3l-1 0.1l-2.4 -0.5l-1.6 -0.8l-3 -2.1l-1.5 -0.7l-4 -1.1l-4.5 -1.8l-4 -1l-2.5 -1.2l-4.5 -3.5l-3 -2l-1.4 -1.3l-1.2 -2l-1.5 -4.5l-0.7 -3l0.2 -2l1.1 -1.9l2.4 -2.6l0.5 -1l0.1 -1l-1 -1.5l-2 -1.9l-1.5 -1.8l-2.4 -3.8l-1.1 -2l-0.9 -3l-1.1 -5l-0.1 -2.5l0.3 -2l0.9 -2.5l1.6 -3l1.5 -2l1.9 -2l2.9 -2.4l3.2 -2.1l3.8 -2.1l3 -1.3l4 -0.9l14.5 -1.4l7 -1.3l2 -0.1l2 0.3l5 1.5l6.5 1.4l5.5 1.4l2.9 1l2 1l2.7 2l2.7 3l2.1 3l1.4 3l0.7 3l0.2 3l-0.3 2.5l-0.7 2l-1.1 2l-1.6 1.9l-5 4.6l-2 1.4l-1.5 0.7l-5 1.8l-5.5 2.5l-2.5 0.7l-7 1l-6.8 1.4l-6.7 1.7l-2 -0.1l-2.9 -1.1l-1.6 -0.2l-1.5 0.3l-1 0.9l-0.7 2.5l0 2.5l0.5 2l1.2 2.4l1.5 2l3 2.3l2.3 3.3l0.9 1l1.8 1.2l4.8 2.3l1.4 1l0.9 1l1.2 2l0.5 2l0 1l-0.3 1zM508 1243.3l-2.5 0.1l-5.5 -0.8l-6 -0.3l-3 -0.3l-14 -3l-2 -0.1l-5.5 0.4l-2.5 -0.2l-2 -0.4l-1.5 -0.5l-1.6 -1l-3.4 -3.4l-1.5 -1l-1.5 -0.5l-3 -0.3l-1.7 -0.8l-1.1 -1l-0.6 -1l-0.4 -1.5l0.1 -1l0.6 -1l0.5 -0.5l1.6 -0.5l1.5 0.2l3.5 1.9l2 0.7l6 0l3 -0.4l2 -0.8l2 -1.3l1.5 -1.5l3.2 -4.3l1.3 -1.1l1.5 -0.7l3 -0.9l4 -0.9l13 -1.9l2.5 -0.2l4.5 0.3l4 1.2l5 2.1l6.5 3.5l2.5 0.9l2.5 0.1l7.5 -1.5l4.5 0l3 0.6l2.5 1l1.5 1l1.1 1.5l0.5 1.5l0.1 2l-0.4 2l-0.5 1.5l-0.9 1.5l-1.4 1.7l-1.5 1.3l-1.5 1l-3 1.1l-3 0.4l-2.5 -0.3l-5.5 -1.3l-1.5 -0.1l-1.5 0.2l-2.5 0.9l-11.5 5.1zM446 1185.7l-6 -0.1l-5.5 -1l-2 -0.2l-6 0.7l-2.5 -0.1l-2 -0.4l-5.5 -1.8l-5 -1.2l-2.5 -1.1l-2 -1.4l-2 -2.3l-1.4 -2.6l-1.2 -3.5l-0.4 -3l0.2 -2.5l0.7 -2.5l1.2 -2.5l1.8 -2.5l2.1 -2.2l2.5 -2l3.5 -2.2l2.5 -1.2l2.5 -1l2.5 -0.6l4 -0.6l10.5 -1.2l6 -0.9l3 0l14 3.3l5.3 1.6l2.7 1.3l2 1.5l2 2.2l2.7 3.5l1.3 2.5l0.8 2.5l0.2 2.5l-0.5 2.5l-1 2l-1.5 1.9l-4.9 5.1l-2.6 1.9l-11 4.6l-3 0.6zM507.5 1239.8l-2.5 0.3l-10.5 0l-5 -0.5l-6 -1.5l-7.5 -2.8l-2 -0.3l-3 -0.1l-1.5 -0.2l-0.7 -0.5l-0.1 -1l0.9 -1.5l4.4 -5l3.5 -5.3l1.2 -1.2l1.3 -0.9l2.3 -1.1l3.2 -1l15 -2.6l2.5 -0.1l2 0.1l2.5 0.5l2.5 0.8l5.5 2.4l6.5 4l2 0.9l1 0.2l1.5 -0.1l4.5 -1.4l2.5 -0.6l2.5 -0.2l2 0l2.5 0.4l2.5 1l1.7 1.2l0.9 1.5l0.4 1.5l-0.1 1.5l-0.3 1.5l-0.7 1.5l-1 1.5l-1.4 1.4l-1.5 1l-1.5 0.7l-3 0.7l-2.5 -0.1l-2.5 -0.7l-5 -2.1l-2 -0.2l-2 0.6l-6 2.9zM451 1183.3l-4 0.3l-4 -0.1l-3 -0.4l-4.5 -1l-2.5 -0.4l-2 0.1l-4.5 0.7l-2.5 -0.1l-3.5 -0.8l-9.5 -3.6l-2 -1.3l-1.5 -1.5l-1.3 -2l-0.9 -2.5l-0.4 -2.5l0.1 -2.5l0.4 -2.5l1 -2.5l1.7 -2.5l1.9 -2l2.6 -2l3.4 -2.1l2.5 -1.1l2.5 -0.9l8 -1.5l12 -1.4l3.5 -0.1l12.5 3l4.5 1.5l2.7 1.1l1.8 1.1l2 1.9l1.8 2.5l1.9 3l0.9 2l0.4 1.5l-0.1 2l-0.4 1.5l-1.1 2l-2.4 3l-2.1 2.5l-1.9 1.7l-2 1.2l-6.5 3.1l-2.5 0.9zM499 1238.2l-5.5 0.1l-4.5 -0.5l-2.5 -0.8l-2.5 -1l-2 -1l-1.8 -1.3l-2.5 -2.5l-0.5 -1l-0.2 -1l0.1 -1.5l0.6 -2l0.9 -2l1 -1.5l1 -1l1.4 -1l1.9 -1l2.1 -0.7l13 -2.8l2.5 -0.3l2.5 0l2 0.2l2.5 0.7l5.5 2.2l3 1.7l6 4.6l1.5 0.8l1.5 -0.1l3.5 -1.8l2.5 -1l2.5 -0.6l2.5 -0.1l3 0.4l2.1 0.8l1.8 1.5l0.7 1.5l0.1 1l-0.1 1.5l-0.5 1.5l-1 1.5l-2.1 2l-1.5 0.8l-1.5 0.5l-2.5 0.2l-2.5 -0.5l-2.5 -1.2l-4.5 -3l-1.5 -0.3l-1.5 0.6l-5.5 3.4l-4 1.6l-7.5 1.9l-2.5 0.3zM450 1181.7l-3.5 0.3l-3.5 -0.1l-2.5 -0.5l-5 -1.3l-2 -0.3l-2.5 0l-5 0.8l-2.5 -0.1l-4 -1.1l-7 -3l-1.9 -1.2l-1.4 -1.5l-0.9 -1.5l-0.7 -2l-0.3 -2.5l0.1 -2.5l0.5 -2.5l0.8 -2l1.4 -2l1.9 -2l2.7 -2l2.8 -1.6l2.5 -1.1l3.5 -1.1l3.5 -0.9l4 -0.6l9.5 -1.2l4 0.1l11.5 2.8l2.9 1.1l3.1 1.4l2 1.2l1.6 1.4l1.5 2l1.4 2.5l0.9 2l0.5 2l-0.1 1.5l-0.6 2l-1.3 2.5l-1.7 2.5l-1.4 1.5l-1.8 1.4l-4 2.4l-3 1.5l-3 1.1zM501 1236.7l-5.5 0.3l-4 -0.2l-3.5 -0.8l-3.6 -1.8l-1.4 -1.1l-1.4 -1.4l-1.5 -2.5l-0.3 -1.5l0.1 -1.5l0.5 -1.5l0.8 -1.5l0.8 -1l1.5 -1.2l1.5 -0.9l2 -0.7l11.5 -2.8l3 -0.4l2.5 0l2 0.2l2.5 0.6l3 1.2l3 1.5l2.3 1.5l1.8 1.5l1.4 1.5l1.1 1.5l0.4 1.5l-0.3 1.5l-1.8 2l-2.4 1.7l-3 1.4l-4 1.2l-5 1.2zM538 1233.8l-2 0.2l-2 -0.3l-2 -0.8l-2 -1.5l-1.4 -1.7l-0.6 -1.5l0.2 -1.5l0.7 -1l1.2 -1l1.9 -1l3.5 -0.8l2 0l2 0.3l1.5 0.6l1.3 0.9l0.7 1l0.4 1l0 1.5l-0.4 1.5l-0.9 1.5l-1.1 1.1l-1.5 0.9zM450.5 1180.2l-3.5 0.4l-3.5 -0.1l-2.5 -0.5l-5 -1.5l-2.5 -0.4l-2.5 0.1l-5 0.7l-2 0l-3 -0.6l-3.5 -1.4l-3 -1.4l-2 -1.3l-1.5 -1.5l-0.8 -1.5l-0.7 -2.5l-0.1 -2.5l0.3 -2.5l0.7 -2l1.1 -1.9l1.4 -1.6l2.1 -1.8l2.5 -1.7l2.5 -1.2l3.2 -1.3l3.3 -1l3 -0.6l9.5 -1.3l4.5 0l3 0.5l7 1.9l4.2 1.5l4.4 2.5l1.7 1.5l1.2 1.5l1.1 2l0.9 2.5l0.3 2l-0.3 2l-0.7 2l-1.1 2l-1.6 2l-1.6 1.4l-3 2.1l-3 1.7l-2.5 1zM499.5 1235.7l-5 0.2l-3.5 -0.3l-3 -1l-2.5 -1.4l-1.2 -1l-1.3 -1.5l-0.8 -1.5l-0.3 -1l-0.2 -1l0.2 -1.5l0.6 -1.5l0.6 -1l1 -1l1.4 -1l3 -1.2l10 -2.7l2.5 -0.4l2.5 -0.1l2 0.2l2.5 0.6l4.9 2.1l1.7 1l2 1.5l2 2.5l0.5 1l0.2 1l-0.4 1.5l-1.2 1.5l-2 1.5l-3.2 1.5l-4.5 1.4l-4 1zM537.5 1232.7l-2 0.1l-1.5 -0.3l-1.5 -0.8l-1.3 -1l-0.8 -1l-0.5 -1.5l0.3 -1.5l0.7 -1l2.1 -1.3l3 -0.6l1.5 0l1.5 0.3l2 1.1l0.8 1l0.3 1l0 1l-0.5 1.5l-0.6 1l-1 0.9l-1 0.6zM449 1179.2l-3 0.2l-2.5 -0.2l-2.1 -0.5l-4.4 -1.4l-2.5 -0.5l-3 0l-5 0.7l-2 0.1l-2.5 -0.4l-3 -1.1l-2.7 -1.4l-1.8 -1.2l-1.3 -1.3l-1 -1.5l-0.6 -2l-0.2 -2.5l0.2 -2l0.7 -2l1.1 -2l1.3 -1.5l1.7 -1.5l2.1 -1.4l3.1 -1.6l2.9 -1.3l2.5 -0.8l3 -0.7l8 -1.2l5 0l4.5 0.9l5.5 1.6l3 1.1l2.5 1.4l2.1 1.5l1.6 1.5l1.2 1.5l1 2l0.6 2l0.1 2l-0.3 2l-0.8 2l-1.2 2l-1.4 1.5l-2.4 1.9l-2.5 1.6l-2.5 1.2l-2.5 0.8zM499.5 1234.7l-4 0.3l-3.5 -0.3l-3 -0.8l-2.5 -1.5l-2 -2l-1.1 -2.2l-0.1 -1.5l0.1 -1l1 -2l1 -1l1.1 -0.8l3 -1.3l8.5 -2.4l2.5 -0.5l2.5 -0.2l2 0.2l2 0.4l4 1.5l3.5 2.1l1.1 1l1.1 1.5l0.6 1.5l-0.1 1.5l-1 1.5l-1.9 1.5l-3.1 1.5l-4.2 1.5l-3.5 0.9zM538 1231.3l-1.5 0.4l-1.5 -0.2l-1 -0.4l-1.4 -0.9l-0.7 -1l-0.4 -1l0.2 -1l0.6 -1l1.6 -1l2.1 -0.4l2 0.2l1.6 0.7l0.6 0.5l0.4 1l0 1.5l-0.9 1.5zM450.5 1177.8l-3 0.4l-3 -0.1l-2.5 -0.6l-5 -1.6l-2.5 -0.4l-3 0.1l-6.5 0.7l-2.5 -0.3l-2 -0.6l-2.3 -1.2l-1.7 -1.2l-1.3 -1.3l-0.9 -1.5l-0.6 -1.5l-0.2 -2l0.1 -2l0.6 -2l1.1 -2l1.2 -1.4l1.5 -1.4l1.8 -1.2l5.7 -3l2.5 -0.9l2.5 -0.6l7 -1.1l5 -0.1l4.5 0.9l6.8 2.3l2.2 1.1l2 1.3l1.8 1.6l1.3 1.5l1 1.5l0.8 2l0.3 1.5l-0.1 2l-0.5 2l-0.7 1.5l-1 1.5l-1.5 1.5l-1.9 1.5l-2.5 1.5l-2 0.9zM500.5 1233.7l-4 0.4l-3 -0.1l-2.5 -0.5l-2.5 -1.1l-2.2 -1.7l-1.3 -2l-0.4 -2l0.6 -2l0.8 -1l1 -0.9l3 -1.4l7 -2.3l2.5 -0.6l2.5 -0.3l3.5 0.2l3 0.9l3.7 1.9l2.3 2l0.8 1.5l0.1 1.5l-0.7 1.5l-1.2 1.2l-2.5 1.5l-3.5 1.6l-3.5 1.1zM537.5 1229.9l-1.5 0.3l-1.5 -0.5l-0.9 -1l-0.2 -1l0.3 -0.5l0.8 -0.7l1.5 -0.5l1.4 0.2l0.9 0.5l0.4 0.5l0.2 1l-0.5 1zM450 1176.8l-3 0.2l-2.5 -0.2l-6.5 -1.9l-3 -0.5l-3 0l-6.5 0.7l-2 -0.1l-2 -0.6l-2 -1.1l-1.5 -1.1l-0.9 -1l-0.9 -1.5l-0.4 -1.5l-0.2 -2l0.2 -2l0.6 -1.5l0.8 -1.5l1.2 -1.5l3.1 -2.5l5 -2.8l4.5 -1.5l6 -1l5 -0.1l4.5 0.9l5.7 2l3.8 2.1l1.7 1.4l1.4 1.5l1 1.5l0.9 2l0.4 1.5l0 2l-0.4 2l-0.7 1.5l-1.1 1.5l-1.2 1.2l-1.7 1.3l-1.8 1.1l-2 0.8zM497.5 1233.2l-3 0l-2.5 -0.4l-2 -0.7l-2 -1.3l-1.4 -1.6l-0.6 -1.5l-0.1 -1l0.3 -1l0.8 -1.4l2.2 -1.6l4.8 -1.9l5 -1.5l3.5 -0.4l3 0.2l3.3 1.1l2.5 1.5l1.2 1l0.7 1l0.5 1.5l-0.4 1.5l-1.3 1.5l-2.2 1.5l-2.8 1.4l-3 1.1l-3 0.6zM449.5 1175.8l-2.5 0.1l-2 -0.2l-6.5 -1.9l-2.5 -0.4l-3.5 -0.1l-6.5 0.7l-2 -0.2l-1.5 -0.4l-1.4 -0.7l-1.3 -1l-0.9 -1l-0.8 -1.5l-0.4 -1.5l-0.1 -1.5l0.1 -1.5l0.5 -1.5l1.4 -2.5l2.7 -2.5l4.2 -2.7l4 -1.6l5.5 -1.1l5 -0.2l4 0.6l4.5 1.5l4.2 2l1.4 1l1.7 1.5l1.2 1.5l1.1 2l0.7 2l0.1 1.5l-0.1 1.5l-0.5 1.5l-0.9 1.5l-1.4 1.6l-1.5 1.2l-2 1.1l-2 0.8zM499.5 1232.2l-3 0.2l-2.5 -0.1l-2 -0.4l-2 -0.9l-1.6 -1.3l-0.9 -1.5l-0.2 -1.5l0.5 -1.5l1.7 -1.6l3.5 -1.7l4.5 -1.5l4 -0.8l3 0.1l2.5 0.6l2.7 1.4l1.6 1.5l0.5 1l0 1.5l-0.9 1.5l-1.4 1.3l-2 1.3l-2.5 1.1l-2.5 0.8zM448.5 1174.7l-3.5 -0.2l-6 -1.8l-2.5 -0.4l-3 0l-7 0.5l-1.5 -0.1l-1.7 -0.5l-1.3 -0.7l-0.9 -0.8l-1.3 -2l-0.4 -2.5l0.2 -1.5l0.4 -1.5l1.6 -2.5l2.7 -2.5l3.2 -2.1l3.5 -1.4l4.5 -1l4.5 -0.4l4 0.5l4 1.3l4.3 2.1l1.7 1.2l1.4 1.3l1.2 1.5l0.9 1.5l0.7 2l0.2 1.5l-0.1 1.5l-0.4 1.5l-0.9 1.5l-1.5 1.5l-1.5 1l-1.5 0.7l-2 0.6zM501 1231.2l-2.5 0.4l-2.5 0l-2 -0.2l-2 -0.5l-1.5 -0.9l-1.3 -1.3l-0.5 -1.5l0.1 -1l1.1 -1.5l2.3 -1.5l3.5 -1.5l3.8 -1.1l2.5 -0.3l2.5 0.1l2.5 0.8l1.7 1l1 1l0.5 1.5l-0.1 1l-0.9 1.5l-1.7 1.4l-1.8 1.1l-2.2 0.9zM451 1173.2l-2.5 0.4l-2.5 -0.2l-6.5 -1.8l-2.5 -0.4l-2.5 0l-6.5 0.4l-3 -0.3l-2 -1.1l-1.2 -1.5l-0.5 -2l0.2 -2.5l1.2 -2.5l2.3 -2.5l2.6 -2l2.9 -1.4l4 -1.1l4 -0.5l3.5 0.1l3 0.6l4.3 1.8l3.7 2.4l2 2.1l1 1.5l0.6 1.5l0.4 1.5l0 1.5l-0.4 1.5l-0.5 1l-0.7 1l-1.4 1.2l-1.5 0.8zM498.5 1230.7l-3.5 -0.1l-1.8 -0.4l-1.2 -0.6l-1.1 -0.9l-0.5 -1l-0.1 -1l0.5 -1l1.6 -1.5l2.1 -1.1l3 -1.2l3 -0.7l2.5 -0.2l2 0.3l1.9 0.9l1.2 1l0.5 1l-0.1 1.5l-0.6 1l-1.4 1.4l-1.5 0.9l-2 0.9l-2 0.5zM449.5 1172.2l-3.5 -0.1l-6 -1.6l-2.5 -0.4l-8 0.3l-3 -0.3l-1.5 -0.6l-1.3 -1.3l-0.6 -2l0.2 -2l0.9 -2l2.1 -2.5l2.2 -1.8l2.5 -1.3l3.5 -1.1l3.5 -0.5l3.5 0.1l3 0.6l4 1.8l3.4 2.2l2.2 2.5l1.2 2.5l0.3 2.5l-0.5 1.5l-0.6 1l-1 1l-1 0.7l-1.5 0.6zM499.5 1229.7l-3 0.1l-2.6 -0.6l-0.9 -0.5l-0.8 -1l-0.1 -0.5l0.2 -1l0.8 -1l1.9 -1.3l2.5 -1.1l2 -0.6l2 -0.3l2 0.1l1.5 0.4l1.3 0.8l0.6 1l0.1 1l-0.4 1l-0.8 1l-1.4 1l-1.4 0.7zM450 1170.8l-2 0.1l-2 -0.2l-6 -1.5l-2 -0.3l-7.5 0.3l-2.5 -0.3l-1.5 -0.7l-1 -1l-0.4 -1.5l0.1 -1.5l0.9 -2l1.6 -2l1.8 -1.5l2.5 -1.4l2.5 -0.8l3 -0.6l3 0l2.5 0.4l3.5 1.3l3 1.8l2.5 2.2l1.4 2.1l0.5 1.5l0.1 1l0 1l-0.4 1l-1.2 1.5l-0.9 0.6zM499.5 1228.7l-2.4 0l-1.7 -0.5l-0.7 -0.5l-0.3 -0.5l0.1 -1l0.8 -1l0.7 -0.5l1.8 -1l1.7 -0.5l1.5 -0.3l1.5 0l1.2 0.3l0.9 0.5l0.4 0.5l0.2 1l-0.2 0.7l-0.6 0.8l-1.4 1l-1 0.4zM449 1169.2l-3 0l-7.5 -1.7l-6.5 0.2l-2 -0.1l-1.5 -0.6l-0.8 -0.8l-0.4 -1l0.2 -1.5l0.6 -1.5l1.1 -1.5l1.8 -1.5l1.7 -1l2.3 -0.8l2.5 -0.5l2.5 0l2.2 0.3l2.8 1l2.6 1.5l2.5 2l1.4 1.8l0.5 1.2l0.2 1l-0.2 1.5l-1 1.2l-1 0.6zM501 1226.8l-2 0.3l-1.1 -0.4l-0.2 -0.5l0.2 -0.5l0.6 -0.5l1 -0.5l1.5 -0.2l1.1 0.2l0.4 0.5l0 0.5l-0.5 0.6zM447 1167.2l-2 -0.1l-6 -1.1l-7 -0.1l-1.5 -0.8l-0.5 -0.9l0.1 -1l0.6 -1.5l0.9 -1l1.3 -1l1.6 -0.8l2 -0.7l1.5 -0.2l2 0.1l1.5 0.2l2 0.7l2.1 1.2l1.9 1.5l1.4 1.5l0.7 1.5l-0.1 1.1l-0.5 0.8l-0.5 0.3zM444 1163.7l-2 0.4l-6 -0.3l-1.7 -0.6l-0.3 -0.5l0 -0.5l0.6 -1l1.5 -1l1.9 -0.5l1.5 0.1l1.8 0.4l1.7 1l1.2 1.5l0.1 0.5z" fill="none" stroke="#000" stroke-width="0.8" stroke-linejoin="round"/>
</g>
<rect x="379" y="1086.7" width="188.3" height="186.6" fill="none" stroke="#222" stroke-width="1.3"/>
<rect x="381" y="1134.3" width="110" height="60" fill="none" stroke="#1c1ce0" stroke-width="1.3"/>
<rect x="454" y="1209.3" width="104.3" height="58" fill="none" stroke="#1c1ce0" stroke-width="1.3"/>
<text x="384.8" y="1126.8" font-size="15.8" text-anchor="start" fill="#1c1ce0"  stroke="#1c1ce0">53.8</text>
<text x="523" y="1201.8" font-size="15.8" text-anchor="start" fill="#1c1ce0"  stroke="#1c1ce0">35.7</text>
<text transform="translate(372.3 1180) rotate(-90)" font-size="16.5" text-anchor="middle" fill="#111" stroke="#111">CD19</text>
<text x="473" y="1295.8" font-size="16.5" text-anchor="middle" fill="#111"  stroke="#111">CD33</text>
<clipPath id="c23"><rect x="633.3" y="1086.8" width="188" height="187"/></clipPath>
<g clip-path="url(#c23)">
<path d="M657.5 1273.8l2.9 -2.5l0.8 -1l0.5 -1.5l0 -2l-0.3 -3l-0.6 -3l-2.1 -8l-2.7 -8.5l-1 -4l-0.3 -3l0.1 -6l-0.3 -5.5l0.2 -3.5l2 -8l3.2 -10.5l1.5 -3.5l2.4 -3.8l2.5 -2.9l2 -1.3l1 -0.4l1.5 -0.1l1.5 0.2l1.5 0.5l1.5 0.9l1.7 1.4l1.1 1.5l4.2 7l0.9 2.5l1.1 5l2 6.5l0.3 2l0.1 3.5l0.2 1.5l1.7 3.5l0.5 1.5l0.1 1l-0.2 1.5l-1.9 5.5l-0.5 3.5l0.3 6.5l1 7l-0.1 3l-0.7 4l-1.8 6l0.4 1.5l2.8 3.5l0.8 1.5M662.5 1273.8l1.9 -2l0.6 -1l0.4 -1.5l-0.1 -2l-0.9 -4.5l-0.9 -3.5l-5.4 -13.5l-1.4 -5l-0.4 -3.5l0.2 -6.5l-0.2 -7.5l0.3 -2.5l0.9 -4l3.5 -10.5l1.2 -3l1.6 -2.5l1.5 -1.6l2 -1.1l1.5 -0.3l1.5 0.3l1 0.6l1.2 1.1l1.2 1.5l6.4 11.5l1.1 2.5l0.7 2l0.3 3l-0.4 6l1.2 5.5l0.2 1.5l-0.2 2l-1.1 7.5l-0.1 5l0.3 3l1 5l0.2 2.5l-0.3 2.5l-1.4 5l-0.1 1.5l0.7 1.5l3.1 3l0.7 1l0.1 1M665.3 1273.8l1.7 -2l0.5 -1l0.3 -1.5l-0.1 -1.5l-1.2 -5.5l-1.1 -3.5l-5.9 -12l-1.6 -4.5l-0.4 -2l-0.3 -2.5l0.2 -7.5l-0.2 -6.5l0.4 -3l0.9 -4l4.1 -11.5l1.2 -2l1.5 -1.7l1.5 -0.9l1.5 -0.2l1.5 0.4l1 0.6l1 1l1.3 1.8l4.9 9l1.1 2.5l0.6 2l0.2 2.5l-0.2 6.5l0.8 7.5l-0.3 3l-1.4 6l-0.3 2.5l0.3 4.3l1.1 6.2l0.3 2.5l-0.1 2.5l-1 4.5l-0.1 1.5l0.7 1.5l3.6 3l0.5 1l-0.1 1M667.4 1273.8l2.3 -3l0.3 -1l0 -1.5l-1.6 -6.5l-1 -3l-1.3 -2.5l-5.5 -9l-1.2 -2.5l-0.8 -2.5l-0.5 -2.5l-0.2 -2l0.2 -7.5l-0.2 -5.5l0.3 -3.5l0.7 -3.5l1.7 -5l2.1 -5.5l1.1 -2.1l1.1 -1.4l1.4 -1.1l1.5 -0.5l1.5 0.4l1 0.6l1 1l1.2 1.6l4.1 7.5l1 2.5l0.6 2l0.3 2.5l0 6l0.4 8.5l-0.5 3l-1.9 6.5l-0.3 2.5l0.3 4.5l1.1 8.5l-0.1 2.5l-0.6 5l0.2 1l0.4 0.5l3.9 3l0.5 1l-0.3 1M673.3 1265.3l-0.5 -0.2l-0.5 -0.7l-1.6 -4.6l-1.2 -2l-5.7 -7l-2.7 -4l-1.8 -4l-0.8 -4l0 -15l0.4 -3l0.5 -2.5l1.6 -5l2.6 -6l1.7 -2.5l1 -0.7l1 -0.4l1 0l1.5 0.7l1.5 1.5l1.3 1.9l2 3.5l1.4 3l1 3l0.4 2.5l0.3 12l0 3l-0.6 3l-2.1 6l-0.6 2.5l-0.4 8.5l0.3 7.5l-0.5 2.5zM669.1 1273.8l3.7 -3.9l0.5 -0.3l1 -0.2l2.5 0.8l2.5 1.3l0.8 0.8l0.1 0.5l-0.3 1M670.3 1252.9l-0.5 0.2l-1 0l-1.5 -0.7l-2.5 -2l-2 -2.3l-1.6 -2.3l-1.2 -2.5l-0.8 -2.5l-0.3 -2.5l0.1 -14.5l0.4 -3l0.5 -2.5l2.1 -6l2 -4.5l1.8 -2.2l1 -0.6l1 -0.1l1.5 0.4l1.2 1l1.3 1.6l1.7 2.9l2.2 5l0.7 3l0.2 2.5l0.3 10.5l-0.4 4.5l-0.9 3l-2.4 6l-1.5 5.5l-0.8 1.5zM670.7 1273.8l0.9 -1l1.2 -0.9l1 -0.5l1.5 -0.2l1.5 0.3l1.5 0.8l0.3 0.5l-0.2 1M668.8 1250.1l-1.5 0.1l-1.5 -0.6l-2 -1.5l-1.5 -1.7l-1.3 -2.1l-0.9 -2l-0.6 -2.5l-0.2 -2.5l0.2 -14l0.4 -3l0.6 -2.5l1.9 -5.5l1.9 -3.8l1.5 -1.8l1 -0.6l1 -0.2l1.5 0.5l1.9 1.9l1.9 3l1.4 3l0.8 2.5l0.5 2.5l0.4 9l-0.1 5.5l-0.9 4l-4.4 9.9l-1 1.6zM672.7 1273.8l1.1 -0.9l1.5 -0.3l1 0.3l0.3 0.4l-0.2 0.5M667.8 1248.3l-1 0.2l-1.5 -0.4l-1.5 -1l-1.6 -1.8l-1.2 -2l-0.8 -2l-0.4 -2l-0.2 -2.5l0.3 -13.5l0.3 -2.5l0.5 -2.5l1.8 -5l1.8 -3.7l1.5 -1.9l1 -0.6l1 -0.2l1.5 0.5l1.5 1.4l1.7 2.5l1.6 3.5l0.6 2l0.5 3l0.5 10l-0.4 5l-1.2 4l-1.5 3l-2.3 4.1l-1.5 1.8zM667.3 1247l-1.5 0.1l-1.5 -0.6l-1.5 -1.3l-1 -1.3l-0.8 -1.6l-0.7 -2l-0.3 -2l-0.1 -2.5l0.4 -12.5l0.3 -2.5l0.5 -2.5l1.4 -4l1.8 -3.8l1.5 -1.9l1 -0.7l1 -0.2l1.5 0.6l1.5 1.4l1.6 2.6l1.3 3l0.7 2.5l0.4 2.5l0.4 9.5l-0.5 5l-1.3 4l-1.6 3l-2 3.1l-1.3 1.4zM666.8 1246l-1.5 0l-1 -0.3l-1 -0.7l-1.5 -1.9l-1 -2.3l-0.4 -2l-0.2 -2l0.3 -12l0.6 -5l0.8 -3l1.2 -3l1.2 -2.5l1 -1.4l1 -0.9l1.5 -0.5l1.5 0.5l1.5 1.5l1.4 2.3l1.2 3l0.6 2.5l0.4 3.5l0.3 8.5l-0.2 2.5l-0.4 2.5l-1.6 4l-1.4 2.5l-1.8 2.4l-1.5 1.3zM666.8 1245l-1 0.2l-1 -0.1l-1.5 -0.9l-1.5 -1.9l-0.8 -2l-0.4 -2l-0.1 -2l0.3 -11.5l0.3 -3l0.4 -2.5l1.8 -5.2l1 -2l1 -1.5l1 -0.9l1.5 -0.5l1.5 0.6l1.5 1.5l1.2 2l1 2.5l0.6 2.5l0.4 3l0.3 8.5l-0.5 4.5l-0.5 2l-0.9 2l-1.4 2.5l-1.5 2l-1.2 1.3zM666.3 1244.4l-1.5 0l-1.5 -0.9l-1.3 -1.7l-0.8 -2l-0.4 -3.5l0.3 -12l0.3 -2.5l0.4 -2.5l1.8 -5l1.2 -2.3l1 -1.2l1 -0.7l1 -0.2l1.2 0.4l1.3 1.1l1.2 1.9l1 2.5l0.7 2.5l0.4 3l0.3 4.5l0 4l-0.5 4.5l-0.6 2l-0.9 2l-1.5 2.5l-1.6 1.9l-1.5 1.2zM666.8 1243.4l-1.5 0.4l-1.5 -0.6l-1.4 -1.4l-0.8 -2l-0.5 -3.5l0.3 -11l0.5 -5l0.7 -2.5l0.9 -2.5l1.3 -2.5l1 -1.3l1 -0.8l1 -0.2l1.5 0.6l1 1l1 1.7l1 2.5l0.6 2.5l0.4 3l0.3 7.5l-0.5 4.5l-1.2 3.5l-1.1 2l-1.5 2l-1.5 1.5zM666.3 1242.9l-1.5 0.1l-1 -0.4l-1.2 -1.3l-0.8 -2l-0.4 -3.5l0.3 -11l0.6 -5l1.5 -4.4l1 -2l1 -1.3l1 -0.7l1 -0.3l1.5 0.7l1 1.1l1 1.7l0.8 2.2l0.5 2.5l0.5 3.5l0.2 7l-0.6 4l-0.6 2l-0.8 1.8l-1.1 1.7l-1.4 1.8l-1.5 1.3zM665.8 1242.4l-1.5 -0.1l-1 -0.8l-1 -1.6l-0.5 -1.6l-0.2 -3l0.4 -11l0.6 -4.5l1.6 -4.5l1.6 -2.6l1 -0.7l1 -0.3l1 0.3l1 0.9l1 1.5l0.9 2.4l0.6 2.5l0.4 3.5l0.3 3.5l-0.1 3.5l-0.5 4l-0.7 2l-0.9 1.9l-1.1 1.6l-1.4 1.6l-1.5 1.2zM665.8 1241.8l-1 0l-1 -0.5l-1 -1.2l-0.6 -1.8l-0.3 -3.5l0.3 -10.5l0.7 -4.5l1.4 -4.1l1.5 -2.4l1 -0.8l1 -0.2l1 0.4l1 0.9l1 1.7l0.7 2l0.5 2.5l0.5 3.5l0.2 6.5l-0.7 4l-1.4 3.5l-2.3 3l-1.5 1.1zM666.8 1240.8l-1.5 0.5l-1 -0.3l-1 -0.9l-0.8 -1.8l-0.4 -3.5l0.3 -9l0.5 -5l1.3 -4l1.6 -2.8l1 -0.9l1 -0.2l1 0.4l1 1l0.8 1.5l0.6 1.5l0.9 5.5l0.3 6l-0.5 4l-1 3l-1.8 3l-1.3 1.3zM666.3 1240.5l-1 0.2l-1.2 -0.4l-0.8 -0.9l-0.6 -1.6l-0.3 -3.5l0.2 -9l0.6 -4.5l1.1 -3.6l1.5 -2.6l1 -0.9l1 -0.2l1 0.4l0.8 0.9l0.7 1.2l0.7 1.8l0.5 2.5l0.5 3.5l0.1 5.5l-0.6 4l-1.2 3l-2 2.8l-1 0.8zM666.3 1239.9l-1 0.2l-1 -0.3l-0.9 -1l-0.5 -1.5l-0.3 -3.5l0.3 -8.5l0.6 -4.5l1.1 -3.5l0.7 -1.4l1 -1.2l0.5 -0.4l1 -0.2l1 0.4l0.7 0.8l0.8 1.5l0.5 1.7l0.9 5.3l0.1 5.5l-0.5 3.5l-1.1 3l-1.9 2.7l-1 0.9zM666.3 1239.4l-1 0.2l-1 -0.4l-0.7 -0.9l-0.5 -1.5l-0.2 -3l0.2 -8.5l0.5 -4l1.2 -3.7l1.5 -2.3l0.8 -0.5l0.7 -0.1l1 0.5l0.5 0.6l0.6 1l0.7 2l0.9 5.5l0.1 5l-0.4 3l-1.1 3l-1.8 2.6l-1 0.9zM666.3 1238.8l-1 0.2l-1 -0.5l-0.5 -0.7l-0.5 -1.5l-0.2 -3l0.2 -7.5l0.5 -4l1 -3.4l0.5 -1.1l1 -1.4l1 -0.6l0.5 0l0.9 0.5l0.6 0.8l1.1 2.7l0.8 5l0.1 5l-0.4 3l-1.1 2.8l-1.5 2.2l-1 1zM665.8 1238.4l-1 -0.2l-0.5 -0.5l-0.5 -1l-0.3 -1.4l-0.1 -3.5l0.2 -7l0.7 -4l1 -2.7l1 -1.5l0.5 -0.4l1 -0.2l1 0.7l0.5 0.8l1 3l0.7 4.8l0 4.5l-0.6 3l-1.1 2.6l-1.5 1.9l-1 0.7zM665.8 1237.8l-0.5 -0.1l-0.6 -0.4l-0.4 -0.5l-0.5 -1.5l-0.2 -4l0.3 -6.5l0.5 -3l0.9 -2.9l1 -1.6l0.7 -0.5l0.8 -0.1l0.8 0.6l0.6 1l1 3l0.6 4.5l-0.1 4l-0.6 3l-1.2 2.5l-1.6 1.9zM666.8 1236.9l-1 0.3l-0.5 -0.1l-0.5 -0.4l-0.5 -0.9l-0.4 -2.5l0 -4l0.3 -5l0.6 -3.1l1 -2.4l0.8 -1l0.7 -0.4l0.5 0.1l0.9 0.8l0.9 2l0.8 4l0.2 4l-0.4 3l-0.8 2.5l-1.1 1.8zM666.8 1236.3l-1 0.2l-0.5 -0.2l-0.7 -1l-0.4 -2l-0.1 -4l0.3 -4l0.6 -3.5l1 -2.5l0.8 -0.9l0.5 -0.2l0.5 0.1l0.5 0.4l1 2.1l0.8 4l0.2 3.5l-0.3 2.5l-0.7 2.4l-1 1.8zM666.3 1235.9l-0.5 -0.1l-0.5 -0.3l-0.7 -1.7l-0.2 -2.5l0.1 -4l0.3 -3.2l0.5 -2.3l1 -2l0.5 -0.5l0.5 -0.2l0.5 0.1l0.5 0.5l1 2.3l0.6 3.3l0.1 3.5l-0.4 2.5l-0.8 2.2l-1 1.4l-1 0.8zM666.8 1235l-1 0l-0.5 -0.5l-0.3 -0.7l-0.3 -2l0 -3l0.2 -3l0.5 -3l0.9 -2.1l0.5 -0.5l0.5 -0.2l0.5 0.2l0.5 0.5l0.7 1.6l0.6 3l0.1 3l-0.3 2.5l-0.6 1.9l-1 1.5zM666.3 1234.4l-0.7 -0.6l-0.5 -1.5l-0.1 -2l0 -3l0.3 -2.4l0.5 -2l0.5 -1.1l0.5 -0.6l0.5 -0.1l0.5 0.2l0.5 0.6l0.5 1.4l0.5 2.5l0.1 3l-0.3 2l-0.8 2l-1 1.2zM666.8 1233.5l-0.7 -0.2l-0.5 -1l-0.3 -1.7l0 -2.3l0.5 -4l0.5 -1.2l0.5 -0.7l0.5 -0.2l0.7 0.6l0.6 1.5l0.4 2l0.1 2l-0.3 2l-0.5 1.5l-0.5 0.9zM666.8 1232.5l-0.5 -0.2l-0.5 -1.3l-0.1 -3.2l0.6 -3.2l0.5 -0.9l0.5 -0.2l0.5 0.4l0.5 1l0.4 1.9l0 1.5l-0.5 2.5l-0.5 1l-0.4 0.5zM667.3 1231l-0.5 0.1l-0.3 -0.3l-0.2 -0.5l-0.1 -1.5l0.3 -2.5l0.3 -0.9l0.5 -0.3l0.5 0.7l0.4 2l-0.3 2z" fill="none" stroke="#000" stroke-width="0.8" stroke-linejoin="round"/>
<path d="M681.3 1192.3h1.5M684.4 1183.7h1.5M698.5 1169.2h1.5M694.6 1186.6h1.5M695.7 1172.9h1.5M694.6 1178.5h1.5M683.9 1188.6h1.5M697.6 1183.6h1.5M689.6 1190h1.5M687.6 1187.4h1.5M682.6 1171.5h1.5M698.7 1171.5h1.5M683.4 1188.7h1.5M704.9 1184.4h1.5M695.6 1189.1h1.5M706.6 1175.7h1.5M686.4 1192.7h1.5M680.7 1177.2h1.5M694.8 1183.8h1.5M695.4 1174.5h1.5M707.6 1176.8h1.5M699.9 1174.5h1.5M702.6 1186.2h1.5M694.2 1193.1h1.5M700.7 1172.5h1.5M707.8 1187h1.5M693.5 1180.9h1.5M700.1 1198.3h1.5M684.7 1184.1h1.5M678.7 1193.7h1.5M703.6 1177.8h1.5M679 1176h1.5M688.5 1178.4h1.5M704 1186h1.5M706.4 1170.5h1.5M698.8 1175.8h1.5M694.6 1196.7h1.5M700 1183h1.5M681.4 1198.1h1.5M708.5 1180.5h1.5M684.8 1179.9h1.5M684.5 1190.3h1.5M685 1190.2h1.5M689.2 1184.2h1.5M681.7 1180.3h1.5M715.2 1172.1h1.5M675.9 1178.9h1.5M686.6 1178.4h1.5M687.1 1179.3h1.5M688.9 1181.9h1.5M695 1189.9h1.5M693.4 1199h1.5M692.7 1200.1h1.5M685.8 1196h1.5M682 1168h1.5M705.4 1185.4h1.5M697.3 1205.8h1.5M687.1 1191.6h1.5M688.5 1188.5h1.5M689.2 1192.5h1.5M704.6 1176.3h1.5M693.1 1179.3h1.5M685.2 1192.1h1.5M687.2 1173.8h1.5M677.6 1175.5h1.5M694.7 1195.2h1.5M692 1179.3h1.5M703.2 1182.9h1.5M712.6 1184.5h1.5M712.9 1181.1h1.5M685.6 1182.9h1.5M687.1 1190.4h1.5M686.2 1176.5h1.5M691.3 1183.2h1.5M688.1 1196.7h1.5M684.6 1189.3h1.5M685.5 1160.5h1.5M696.4 1158.7h1.5M684.6 1181.1h1.5M690.3 1198h1.5M688.7 1188.1h1.5M681.4 1192.6h1.5M681.8 1178.1h1.5M695.4 1182.9h1.5M679.3 1170.5h1.5M704.3 1178.5h1.5M697.4 1191.5h1.5M691.5 1176.1h1.5M694.1 1192.9h1.5M700.2 1171h1.5M679.2 1194.2h1.5M686.9 1186h1.5M679.4 1193.5h1.5M705.7 1189.1h1.5M703 1184.7h1.5M682.4 1183.9h1.5M694.2 1155.3h1.5M691.7 1192.7h1.5M688.5 1187.8h1.5M691.5 1178.7h1.5M695.6 1196.9h1.5M704.6 1157.5h1.5M695.4 1173.8h1.5M700.8 1163.3h1.5M705.9 1177.7h1.5M696.5 1201.2h1.5M683.1 1187.7h1.5M704.1 1180.9h1.5M678.9 1185.8h1.5M679.3 1182.1h1.5M696.2 1186.1h1.5M696 1176.2h1.5M691.5 1193.6h1.5M689.6 1188.8h1.5M699 1180h1.5M693.4 1183.5h1.5M687.3 1186.2h1.5M695.5 1185.3h1.5M689.5 1181.7h1.5M684.1 1170.2h1.5M710.6 1171.5h1.5M685.4 1183.9h1.5M678.9 1179.5h1.5M708 1180.2h1.5M681.9 1187.2h1.5M699.4 1161.5h1.5M688.3 1185.6h1.5M688.2 1179.9h1.5M690 1168.6h1.5M703.9 1178.5h1.5M695.5 1171.1h1.5M691.8 1190.9h1.5M682.8 1181.4h1.5M698.4 1188.8h1.5M693.8 1186.7h1.5M684.7 1189.9h1.5M691.1 1177h1.5M704.5 1183.9h1.5M694.5 1187h1.5M704.3 1171.7h1.5M697.2 1185.8h1.5M684.3 1179.2h1.5M703.8 1165.9h1.5M717.8 1160.5h1.5M715.7 1154.8h1.5M713.4 1145.5h1.5M714.3 1153.3h1.5M728.1 1147.7h1.5M701.6 1163.5h1.5M719 1149.5h1.5M715.1 1151.2h1.5M730.8 1148.8h1.5M718.9 1157.6h1.5M712.8 1146.8h1.5M735.6 1147h1.5M719.9 1146.3h1.5M725.4 1156.3h1.5M707.6 1153.8h1.5M718.7 1157.1h1.5M697.9 1165.8h1.5M706.4 1160.8h1.5M722.8 1152.5h1.5M696.3 1166.3h1.5M716.2 1155h1.5M715.5 1155.6h1.5M721.2 1155.4h1.5M702.5 1172.1h1.5M700.7 1176.2h1.5M725.5 1147.2h1.5M716.6 1155.2h1.5M671.3 1126.6h1.5M670.5 1125h1.5M668.3 1119.9h1.5M672.6 1117.8h1.5M674.2 1120.4h1.5M673.6 1120.9h1.5M675.8 1126.8h1.5M668.1 1120.1h1.5M680.5 1114.6h1.5M674.8 1116.8h1.5M677.9 1132.4h1.5M674.9 1116.2h1.5M670 1114.2h1.5M672.2 1120h1.5M660.4 1132.4h1.5M674.4 1122.4h1.5M673.3 1123.6h1.5M678.4 1112.3h1.5M666.5 1112.8h1.5M673.2 1121.8h1.5M672.3 1119.1h1.5M668.5 1124.1h1.5M667.7 1115.2h1.5M668.8 1128.1h1.5M677.5 1129.9h1.5M677.5 1112.5h1.5M667.8 1123.3h1.5M672.9 1120.1h1.5M675.4 1130.5h1.5M674.9 1123.2h1.5M667.5 1127.5h1.5M671.1 1121.3h1.5M667.8 1123.7h1.5M677.6 1134.6h1.5M683.9 1134.3h1.5M673.4 1111.6h1.5M665 1124.1h1.5M676.8 1123.2h1.5M679.8 1115.4h1.5M679.5 1117.2h1.5M674.2 1122.9h1.5M675.7 1127.5h1.5M673.9 1124.9h1.5M676.4 1119.3h1.5M677.3 1115.4h1.5M670.5 1109.2h1.5M671.2 1131h1.5M672.2 1118.5h1.5M672.6 1116.6h1.5M674.3 1123.8h1.5M678 1121.3h1.5M668.3 1121.7h1.5M677.2 1125.7h1.5M672.8 1118.9h1.5M662.1 1115.5h1.5M672 1120.9h1.5M672.5 1122.2h1.5M675.7 1115.3h1.5M675.9 1115.2h1.5M673.5 1115.5h1.5M670.3 1126.7h1.5M677.4 1130.1h1.5M670.8 1129.4h1.5M668.8 1116.3h1.5M671 1117.6h1.5M671.4 1114.1h1.5M673.1 1132.8h1.5M671.8 1118.9h1.5M672.1 1121.6h1.5M676.5 1118.9h1.5M673.4 1168.4h1.5M667.3 1149.4h1.5M669.4 1151.2h1.5M668 1157.9h1.5M660.7 1144.2h1.5M673.8 1128.4h1.5M676.2 1178.8h1.5M677.4 1164.8h1.5M680.3 1126.7h1.5M677.3 1132.1h1.5M672.2 1130.7h1.5M675.3 1122.9h1.5M669.9 1155h1.5M676.5 1174.3h1.5M671.1 1155.4h1.5M660.9 1175.3h1.5M672.4 1141.7h1.5M672.9 1153.3h1.5M666.7 1133h1.5M674.9 1149.2h1.5M678.5 1167.1h1.5M666.8 1160.9h1.5M676.3 1166.1h1.5M676.9 1141.9h1.5M667.8 1164.3h1.5M670.3 1173.5h1.5M667.1 1158.4h1.5M669.7 1125.2h1.5M672.3 1153.6h1.5M678.4 1153h1.5M669.4 1137.4h1.5M664.8 1131.3h1.5M656.8 1135h1.5M669.2 1168.3h1.5M666 1151.1h1.5M673.5 1177.2h1.5M673.7 1118.3h1.5M664.6 1156h1.5M674.4 1176h1.5M671.5 1179.9h1.5M671.3 1139.6h1.5M669.9 1175.9h1.5M677.4 1167.4h1.5M675.5 1168.9h1.5M673.5 1152.4h1.5M743.6 1212.5h1.5M742.9 1215h1.5M730.7 1204.7h1.5M713.9 1221.3h1.5M744.7 1231.4h1.5M744.1 1173.5h1.5M741.6 1193.4h1.5M732.4 1194.5h1.5M732.4 1225.9h1.5M723 1225.4h1.5M748.6 1207.8h1.5M735 1240.4h1.5M742.4 1208.3h1.5M732.9 1224h1.5M716.9 1228.3h1.5M742 1212h1.5M745.4 1232.4h1.5M750.6 1208.5h1.5M734.8 1214.4h1.5M731.9 1216.6h1.5M736.9 1227.6h1.5M727.4 1239.2h1.5M728.7 1201.8h1.5M740.6 1191.2h1.5M733.8 1226h1.5M731.4 1179.1h1.5M738.8 1215.6h1.5M732.9 1224.6h1.5M754.9 1184.9h1.5M733.3 1200.4h1.5M748.1 1209.5h1.5M741.2 1212.7h1.5M743.4 1214.7h1.5M738.5 1221.5h1.5M692.9 1178.5h1.5M688.4 1221.9h1.5M694 1236.5h1.5M691 1214.5h1.5M690.7 1254.6h1.5M693.8 1214.8h1.5M690.5 1181.6h1.5M689.8 1258.2h1.5M694.1 1237.5h1.5M688 1192.5h1.5M690.7 1239h1.5M687.8 1259.9h1.5M693.9 1221.1h1.5M690.2 1231.4h1.5M692.3 1233.5h1.5M691.3 1193.2h1.5M693.4 1232.8h1.5M689.9 1268.3h1.5M690.8 1254.8h1.5M690.9 1228h1.5M697.7 1240.6h1.5M687.3 1177.8h1.5M693.4 1201.9h1.5M691.7 1250.4h1.5M690.2 1221.4h1.5M693.6 1258.5h1.5M694.1 1229.5h1.5M689.8 1250.8h1.5M691.4 1215.9h1.5M690.3 1210.7h1.5M692.5 1264.4h1.5M691.9 1251.4h1.5M691.5 1237.3h1.5M692.4 1258.3h1.5M692.6 1259.6h1.5M694.5 1265.9h1.5M689.8 1228.9h1.5M691.4 1218.4h1.5M696.4 1238.3h1.5M690.3 1245.9h1.5M694 1203.8h1.5M689.6 1181.3h1.5M693 1247.3h1.5M691.2 1267.9h1.5M692.4 1240.2h1.5M691 1230.6h1.5M694.1 1241.7h1.5M691.5 1242.4h1.5M691.2 1211.7h1.5M692.5 1244h1.5M690.1 1266.8h1.5M690.1 1256h1.5M695 1252.4h1.5M696.1 1211.4h1.5M688.9 1269.7h1.5M691.9 1257.7h1.5M690.2 1245.8h1.5M692.1 1248.9h1.5M689 1242.9h1.5M692.3 1218.7h1.5M690 1253.3h1.5M689.2 1238.2h1.5M690.2 1265.4h1.5M692.9 1218.1h1.5M689.8 1215.2h1.5M694.5 1263.3h1.5M693.2 1236.2h1.5M694 1223.5h1.5M690.7 1205.5h1.5M694.2 1239.6h1.5M690.8 1221.4h1.5M691.7 1225.4h1.5M694.5 1266.4h1.5M691.9 1229.9h1.5M690.1 1210.2h1.5M693.8 1234.8h1.5M689.8 1268.3h1.5M692.5 1270.1h1.5M691.6 1220.2h1.5M693.9 1201h1.5M690.1 1227.5h1.5M694.2 1226.6h1.5M693.5 1237h1.5M690.8 1259.9h1.5M690.5 1222.9h1.5M689.2 1217.6h1.5M694.4 1209.5h1.5M689.6 1255.1h1.5M691.2 1247.1h1.5M695.4 1259.3h1.5M693.2 1204.8h1.5M692.2 1224.9h1.5M692.1 1269.1h1.5M691.2 1246.9h1.5M688.8 1266.4h1.5M692.8 1260.9h1.5M689.3 1255.2h1.5M695.9 1221.5h1.5M691 1244.8h1.5M690.4 1255.4h1.5M691.7 1234.4h1.5M693 1241.5h1.5M694.5 1247.6h1.5M691.9 1232h1.5M691.6 1255.1h1.5M692.4 1264.4h1.5M691.6 1244.7h1.5M694.1 1221.5h1.5M691.8 1206.7h1.5M691.6 1261.8h1.5M691.4 1267.7h1.5M692.5 1245h1.5M692.5 1237.7h1.5M691 1235.2h1.5M695.4 1273.1h1.5M699.3 1272.4h1.5M704.7 1272.9h1.5M667.6 1186.3h1.5M680.2 1196.8h1.5M687.1 1188.4h1.5M672.2 1179.7h1.5M656.3 1193.6h1.5M686.8 1194h1.5M709.4 1194.2h1.5M686.2 1200h1.5M659.9 1198h1.5M660.7 1199.3h1.5M697.8 1190h1.5M671.7 1189.2h1.5M690.5 1187.1h1.5M681.1 1198.1h1.5M675.1 1174.9h1.5M687.5 1197h1.5M698.3 1192.4h1.5M699.4 1196.4h1.5M701.4 1186.8h1.5M683.6 1182.3h1.5M688.6 1187.3h1.5M684.5 1191.8h1.5M687.2 1208.3h1.5M685.7 1198h1.5M690 1197.2h1.5M666.5 1190.9h1.5M681 1191.3h1.5M693.3 1188.8h1.5M685 1187.8h1.5M683.5 1203.1h1.5M684.8 1200.7h1.5M684.3 1187.5h1.5M677 1183.7h1.5M656.2 1196.7h1.5M681.8 1197.2h1.5M700.4 1197.3h1.5M680.3 1189.5h1.5M704.5 1210.1h1.5M696 1200h1.5M684.7 1172.7h1.5M695.1 1199h1.5M697 1210.8h1.5M684.9 1196.7h1.5M694 1175.1h1.5M698.8 1218.3h1.5M694 1204.5h1.5M671.5 1182.8h1.5M685.5 1186.5h1.5M694.7 1198.6h1.5M693 1187.9h1.5M689.4 1194.7h1.5M690.3 1195.9h1.5M695.3 1193.7h1.5M742.4 1181.2h1.5M699.8 1136.4h1.5M746.7 1153.6h1.5M708.2 1164.2h1.5M752.3 1160.7h1.5" fill="none" stroke="#000" stroke-width="1.5"/>
</g>
<rect x="633.3" y="1086.8" width="188" height="187" fill="none" stroke="#222" stroke-width="1.3"/>
<rect x="650.8" y="1108" width="37.2" height="70.8" fill="none" stroke="#1c1ce0" stroke-width="1.3"/>
<path d="M802.5 1232V1183.3H718.8V1269H802.5V1257" fill="none" stroke="#1c1ce0" stroke-width="1.3"/>
<text x="638.5" y="1104.6" font-size="15.8" text-anchor="start" fill="#1c1ce0"  stroke="#1c1ce0">1.09</text>
<text x="776" y="1252.6" font-size="15.8" text-anchor="start" fill="#1c1ce0"  stroke="#1c1ce0">0.384</text>
<text transform="translate(622.7 1180.8) rotate(-90)" font-size="16.5" text-anchor="middle" fill="#111" stroke="#111">CD56</text>
<text x="727.5" y="1296.4" font-size="16.5" text-anchor="middle" fill="#111"  stroke="#111">CD3</text>
<clipPath id="c24"><rect x="887.4" y="1087.1" width="188" height="187.7"/></clipPath>
<g clip-path="url(#c24)">
<path d="M941.9 1241.1l-3 0.3l-7 0.1l-1.5 -0.2l-1 -0.3l-1.4 -1.4l-2.5 -4l-2.2 -2l-3 -2l-8.9 -4.5l-2.5 -1.6l-2 -2.3l-1.7 -3.1l-1.3 -3.5l-1.1 -5.5l-1.7 -6l-2 -12.5l-1.3 -4.5l-0.6 -4l-1 -4l-0.2 -2l0.1 -2.5l0.6 -3.5l0.8 -3l1 -2.5l1.1 -2l1.5 -2l3.8 -3.9l3.5 -2.4l7 -3.8l2.5 -1.1l2.5 -0.5l5 -0.3l6 -1.6l3 -0.2l3.5 0.9l6 2.2l4.6 2.2l4.9 1.7l2 1l3.5 2.2l2 0.8l2.5 0.2l12.5 -1l2 0.3l7 1.6l6.5 0.5l5 1.2l2 0l4.5 -0.7l2.5 -0.1l12 1.1l3 0.6l3.5 1.3l2.2 1.3l1.6 1.5l1.4 2l4 7l0.8 3l-0.2 2.5l-0.8 2l-1.5 1.9l-1.6 1.6l-3.9 3.2l-4 4.3l-2.5 1.8l-2.5 1.1l-2 0.4l-5 0.3l-3 0.4l-3.2 1l-6.3 2.6l-2.5 0.4l-6 -0.4l-1.5 0.4l-1 0.4l-1.5 1.1l-3.5 3.7l-4 3.7l-2.5 3.2l-4 6.1l-4 3.8l-5 6.3l-4 4.1l-3 1.9l-6.5 2.7l-2 0.5zM939.4 1233.1l-2.5 0.2l-2.5 -0.2l-2 -0.3l-1.5 -0.5l-2.5 -1.5l-5 -4.3l-7 -3.4l-1.2 -1l-1.3 -1.5l-4.5 -8.4l-2.6 -7.6l-1.4 -5.5l-0.2 -3l0.5 -5.5l-0.3 -2.9l-4 -10.1l-0.5 -2l-0.2 -2l0.1 -1.5l0.5 -2l1.4 -3l2.4 -3l3.3 -3l3.5 -1.9l10 -3.4l10.5 -1.8l3 -0.1l3 0.7l5.5 2.2l6 2l2.5 1.2l4.5 3.1l2 1.1l2.5 0.9l5 1.3l3.5 0.3l6.5 -0.7l3 0.1l6.5 1.2l6 2.1l2.5 0.4l2 -0.4l5 -2.1l3 -0.9l3.5 -0.3l4 0.1l4 0.6l3.5 1.1l3 1.7l2 2l1.4 2.5l0.9 2.5l0.3 2l-0.3 2l-0.5 1l-1 1.5l-5.1 6l-1.7 1.5l-1.5 0.9l-1.5 0.5l-6.1 1.1l-5.9 1.3l-3 0.2l-4.5 -0.4l-2 0.3l-8 3.1l-6.5 3.1l-2.5 1.6l-2 2l-7.1 10.3l-4.6 5l-3.3 5.7l-1.5 1.6l-3.5 2.9l-2 1.4l-2.5 0.9l-2 0.3l-4.5 0.1zM936.4 1227.6l-3 -0.1l-2 -0.6l-1.5 -0.9l-4.6 -3.4l-4.9 -2.6l-1.5 -0.9l-1 -1l-1.3 -2l-3.3 -7l-1.8 -5l-1.2 -5l-0.2 -7.5l-0.9 -7l-1.2 -3l-3.1 -5l-0.6 -1.5l-0.3 -1.5l0.3 -2.5l0.5 -1.5l0.7 -1.5l2 -2.5l2.9 -2.4l3 -1.5l10.5 -3.5l2.5 -0.5l5.5 -0.4l3.5 -0.1l3 0.5l10.5 3.2l3 1.6l7 4.6l9 4.4l2.5 0.7l5 0.5l5 1.9l2 0.5l5 0.8l1.5 0l6 -0.9l2 -0.6l1.5 -0.7l3.7 -2.6l1.8 -1l2 -0.6l2.5 -0.3l4 0.2l3.5 0.9l2.6 1.3l1.2 1l0.7 1l0.7 1.5l0.4 1.5l0 1.5l-0.4 1.5l-0.9 2l-2.4 4l-1.2 1.5l-1.2 1l-1.9 1l-2.1 0.7l-6 1.2l-3 0.2l-1.5 -0.1l-2 -0.6l-7 -3.1l-1.5 -0.2l-1 0.2l-0.9 0.7l-2.6 2.5l-2 0.9l-4 1.2l-1 0.6l-1.5 1.4l-5.7 6.9l-6.3 9.6l-1.5 1.7l-3.5 3.2l-1 1.4l-2 3.6l-1.5 1.5l-2.5 1.2l-6.5 2.2l-5.5 1.1zM940.9 1222.1l-7 0.4l-2 -0.2l-2 -0.7l-3.5 -1.8l-5 -3.2l-2 -1.8l-1.3 -2.2l-3.3 -10.5l-0.4 -2.5l-0.2 -5.5l-2.2 -11l-1.2 -3l-3 -5l-0.7 -2.5l0.3 -2.5l1.4 -2.5l1.9 -2l2.7 -1.6l9.5 -3.6l2.5 -0.5l3.5 -0.4l4 -0.1l3 0.1l6.5 1.3l4 1l3 1.3l3 1.7l5.8 4.3l3 2.5l1.4 1.5l1 1.5l1.7 4.5l1.1 1.4l1.5 0.8l3.5 0.4l1 0.3l0.8 0.6l0.7 1l0.2 1.5l-0.6 1.5l-0.6 0.7l-2 1.5l-0.9 1.3l-0.3 1l0 3l-0.3 1.5l-2.8 7l-1.8 3.5l-2.2 3l-5.2 4.5l-3.1 4l-1.9 1.5l-2.5 1.1l-4 1.2l-2.5 0.5zM1007.9 1188.1l-2.5 0.3l-2 0l-1.5 -0.3l-1.5 -0.8l-1.3 -1.2l-1 -1.5l-0.4 -1.5l0.1 -1.5l1 -1.5l5.6 -5.3l1.5 -1.1l1.5 -0.6l1.5 -0.2l2 0.1l2 0.4l2.1 1.2l0.8 1l0.4 1l0.2 2.5l-0.8 3.5l-1 2l-1.7 1.7l-2 1.1zM934.9 1219.1l-3.5 -0.2l-3.5 -1.2l-2 -1.2l-2.6 -1.9l-1.4 -1.3l-1 -1.4l-0.7 -1.8l-2.1 -8l-0.2 -2l0 -4l-0.4 -2.5l-1.6 -4.5l-1.8 -7l-3.4 -7l-0.8 -2.5l0 -2l0.5 -1.5l1 -1.5l1.8 -1.5l2.6 -1.5l4.1 -1.7l3 -1l3 -0.6l3.5 -0.3l4 -0.1l4 0.4l4.5 0.7l3 0.7l2.5 0.9l2.5 1.2l2.5 1.5l3.9 3.3l1.8 2l0.9 1.5l1 2.5l1.2 6l2.1 4.5l0.4 1.5l0.1 2.5l-0.6 4.5l0.2 4l-0.2 2l-0.3 1.5l-0.7 1.5l-1.8 2.6l-4.5 4.3l-4 4.2l-2.5 1.8l-1.5 0.6l-2 0.5zM1009.4 1184.7l-2 0.4l-1.5 -0.3l-0.9 -0.7l-0.2 -1l0.4 -1.5l1.2 -1.7l1.5 -1.1l1.5 -0.4l1 0.2l0.8 0.5l0.5 1l0.2 1l-0.1 1l-0.4 1l-0.9 1zM936.9 1216.2l-2 0.1l-2 -0.1l-2 -0.4l-1.5 -0.6l-1.5 -0.8l-1.8 -1.3l-1.2 -1.1l-1.1 -1.4l-1 -2.5l-1.5 -5.5l-0.3 -2l-0.1 -5l-0.5 -2.5l-2.5 -5.7l-2 -5.8l-2.9 -6l-0.9 -2.5l-0.1 -1.5l0.2 -1.5l0.8 -1.5l1.4 -1.5l1.5 -1l2.5 -1.3l2.5 -1l3 -0.9l4.5 -0.7l5 -0.1l7.5 0.8l2.5 0.5l2.5 0.7l4 1.9l3.6 2.6l1.5 1.5l1.1 1.5l0.7 1.5l0.5 1.5l0.6 6.7l1.3 5.3l0.3 2l-0.5 6l0.2 5l-0.3 1.5l-0.4 1l-0.9 1.5l-4.7 5.7l-2.2 2.3l-1.8 1.5l-1.5 0.8l-1.5 0.5zM936.4 1213.6l-3 -0.3l-3 -1.1l-2.5 -1.8l-1 -1l-1 -1.5l-1 -2.3l-0.7 -2.5l-0.2 -2l-0.2 -5l-0.8 -4l-0.9 -2l-2.7 -4.7l-4.1 -8.3l-1.3 -3.5l-0.3 -1.5l0.2 -1.5l0.6 -1.5l0.8 -1l1.6 -1.3l2 -1.1l2.5 -1.1l2.5 -0.8l4 -0.7l4.5 -0.1l8 0.7l4.5 1l4 1.7l3 2.1l1.2 1.1l1.2 1.5l1.1 2.5l0.2 2.5l-0.5 6l0.9 5.5l0.2 2l-0.4 5l-0.1 4l-0.7 2.5l-1.4 2.5l-2.5 3.5l-1.8 2l-1.9 1.5l-1.5 0.8l-2 0.7l-5 1.2zM938.9 1210.6l-3 0.1l-3 -0.9l-2.5 -1.4l-1 -1l-1 -1.3l-0.7 -1.5l-0.5 -2l0.1 -5l-0.2 -2l-1.5 -5l-1.3 -2.5l-3.4 -4.1l-1.5 -2.2l-2.4 -4.2l-1.1 -2.5l-0.5 -1.5l-0.2 -1.5l0.2 -1.5l0.4 -1l1.1 -1.4l1.4 -1.1l3.6 -1.8l4 -1.1l4.5 -0.4l5 0.2l7.5 0.9l3.5 1.1l3.5 2l2.3 2.1l1.5 2.5l0.3 1.5l0 2l-1.3 5l-0.2 2l0.8 5.5l0 2l-0.9 8l-0.7 2.5l-1.9 3.5l-1.4 1.7l-1.5 1.3l-1.5 1l-2 0.9zM941.4 1207.1l-2.5 0.4l-2.5 -0.2l-2 -0.7l-2 -1.5l-0.6 -1l-0.5 -1.5l0.4 -4.5l-0.1 -2l-0.8 -4l-0.8 -2.5l-1 -1.5l-1 -1l-5.1 -3.9l-1.5 -1.4l-2 -2.5l-1.6 -2.7l-0.9 -2l-0.4 -1.5l0 -1.5l0.2 -1l0.5 -1l0.8 -1l1.2 -1l1.7 -1l4 -1.4l4.5 -0.7l4.5 0l7.5 0.8l3.5 0.9l3 1.4l2.7 2l1.5 2l0.5 1.5l0.1 2l-0.4 2l-1.8 4l-0.6 2l0 2l0.4 3.5l0.1 2l-1.4 9.5l-1.1 2.5l-1.5 1.9l-2 1.4zM942.4 1203.1l-1.5 0.3l-1.5 -0.1l-1.4 -0.7l-0.8 -1l-0.6 -2l-0.6 -5.5l-0.6 -3l-0.7 -2l-1.3 -1.9l-2.5 -1.9l-6 -2.9l-2 -1.3l-2 -1.9l-1.5 -2.1l-1.5 -3l-0.3 -1.5l0.1 -1l0.2 -1l0.6 -1l0.8 -1l1.4 -1l3.2 -1.5l4.5 -0.9l4.5 -0.1l6.5 0.6l4 0.7l3 1.1l2.5 1.6l1.8 2l0.8 2l0.1 1l-0.2 1.5l-0.9 2l-3.1 5l-0.9 3l-0.6 4.5l0.2 6.5l-0.3 2.5l-0.5 1.5l-0.7 1l-1.2 1zM940.4 1185.3l-1.5 0.2l-1.5 -0.2l-4.4 -1.7l-6.6 -2.2l-2 -0.9l-1.5 -1l-2.3 -2.4l-0.9 -1.5l-0.7 -1.5l-0.3 -1.5l0 -1l0.3 -1l0.6 -1l1.7 -1.5l2.6 -1.3l3.5 -0.9l3.5 -0.3l5 0.2l6 0.8l3.2 1l2.6 1.5l1.6 1.5l1 2l0.2 1.5l-0.6 2l-1.3 2l-2.2 2.3l-4 3.7zM940.4 1181.6l-3 0.4l-5 -0.5l-5 -1.1l-3 -1.3l-2.1 -1.5l-1.8 -2.5l-0.6 -1.5l-0.2 -1l0.1 -1l0.3 -1l1.3 -1.6l2.2 -1.4l2.8 -0.9l3.5 -0.5l4 0l6 0.6l3.5 0.8l2.3 1l2.1 1.5l1.1 1.5l0.4 1.5l-0.2 2l-1.2 1.9l-2 1.8l-2.5 1.6zM938.9 1180.1l-4 0.2l-4.5 -0.4l-3 -0.6l-2.5 -1l-2.2 -1.7l-1.4 -2l-0.6 -2l0.1 -1l0.3 -1l1.3 -1.5l2 -1.2l2.5 -0.8l3 -0.4l4 -0.1l5.5 0.6l3 0.7l2.5 1l1.8 1.2l1.1 1.5l0.5 1.5l-0.1 1l-0.4 1l-1.4 1.8l-2 1.4l-2.5 1.1zM935.9 1179.1l-3.5 0l-3 -0.3l-2.5 -0.6l-2 -1l-1.5 -1.1l-1.4 -2l-0.3 -1l0 -1l0.4 -1.5l1.5 -1.5l2.3 -1.1l3 -0.8l3.5 -0.2l5 0.4l4.5 0.9l2.9 1.3l1.7 1.5l0.6 1.5l-0.1 1.5l-0.9 1.5l-1.1 1l-2.1 1.2l-2 0.7l-2.5 0.4zM936.9 1178.1l-3.5 0.2l-3 -0.2l-2.5 -0.4l-2 -0.8l-1.7 -1.3l-1.2 -1.5l-0.4 -1.5l0.3 -1.5l1.2 -1.5l1.8 -1l3 -0.9l3 -0.2l4.5 0.3l4.5 0.8l2.6 1l1.8 1.5l0.6 1l0 1.5l-0.4 1l-0.9 1l-1.5 1l-1.7 0.7l-2 0.5zM938.4 1177.2l-3 0.3l-3.5 0l-2.5 -0.3l-2.2 -0.6l-1.8 -1l-1.3 -1.5l-0.6 -1.5l0.3 -1.5l0.8 -1l1.8 -1.1l2.5 -0.8l2.5 -0.3l3 0.1l4 0.5l2.5 0.7l2.1 0.9l1.2 1l0.6 1l0 1l-0.3 1l-0.9 1l-1.6 1l-1.6 0.6zM936.9 1176.6l-5.5 0.2l-2 -0.3l-1.5 -0.4l-1.5 -0.8l-1.3 -1.2l-0.6 -1.5l0.1 -1l0.8 -1.2l1.5 -1l2.5 -0.8l2.5 -0.2l3.5 0.2l3.5 0.6l2.7 0.9l1.4 1l0.6 1l0 1l-0.5 1l-0.4 0.5l-2.3 1.3zM934.9 1176.1l-4.5 -0.1l-1.5 -0.4l-1.3 -0.5l-1.3 -1l-0.7 -1l-0.1 -1l0.4 -1l1.1 -1l1.9 -0.8l2 -0.4l2.5 0l2.5 0.2l3 0.6l2.1 0.9l1.1 1l0.2 0.5l0 1l-0.4 0.7l-0.9 0.8l-2.6 1zM937.4 1175.1l-4.5 0.4l-3.5 -0.5l-1.5 -0.7l-0.8 -0.7l-0.5 -1l0.1 -1l0.7 -0.8l1 -0.7l2.5 -0.7l3.5 0l3.6 0.7l2.2 1l0.5 0.5l0.3 1l-0.4 1l-0.6 0.5l-1.1 0.6zM935.9 1174.6l-3.5 0.2l-2.5 -0.4l-1 -0.5l-0.8 -0.8l-0.3 -0.5l0.2 -1l0.9 -0.9l1 -0.4l3 -0.4l2 0.1l2 0.5l1.5 0.6l0.7 0.5l0.3 0.5l0.1 0.5l-0.6 0.9l-1 0.6zM935.9 1173.7l-2.5 0.4l-2 -0.3l-1.6 -0.7l-0.4 -0.5l-0.1 -0.5l0.3 -0.5l0.7 -0.5l1.1 -0.4l2 -0.1l2 0.3l1.5 0.6l0.7 0.6l0 0.5l-0.4 0.5zM933.9 1172.7l-1.5 -0.1l-0.2 -0.5l1.2 -0.3l1 0.3l-0.3 0.5z" fill="none" stroke="#000" stroke-width="0.8" stroke-linejoin="round"/>
<path d="M1029.1 1195.3h1.5M972.4 1256.9h1.5M920.5 1239.5h1.5M981.6 1210.8h1.5M1037.1 1167.6h1.5M1028 1210.7h1.5M962 1154.4h1.5M986.9 1227.1h1.5M892.9 1145h1.5M952 1248.9h1.5M902.3 1247.8h1.5M893.3 1182.2h1.5M980.8 1215h1.5M998.8 1205.4h1.5M893.6 1168.1h1.5M918.7 1149.9h1.5M907.4 1235.1h1.5M1005.5 1200.1h1.5M891.8 1242.6h1.5M1021.1 1199.8h1.5M973.5 1236.3h1.5M892.1 1174.9h1.5M1017.5 1201.8h1.5M898.5 1202.7h1.5M990.2 1154.9h1.5M942.1 1142.5h1.5M985.1 1207.5h1.5M1006.4 1148.3h1.5M896.5 1197.9h1.5M994.9 1157.9h1.5M918.3 1130.4h1.5M936.9 1135.3h1.5M893.6 1217.9h1.5M972.4 1138.7h1.5M913.1 1230.5h1.5M940.1 1149.1h1.5M941.5 1143h1.5M942 1254.1h1.5M974.9 1217.3h1.5M966.1 1153.4h1.5M1005 1206.1h1.5M931.4 1143.4h1.5M954.3 1239h1.5M958.3 1246.5h1.5M943.7 1257.3h1.5M963.6 1234.2h1.5M907.3 1149.9h1.5M944 1124h1.5M917.3 1236.4h1.5M890.1 1171.9h1.5M986.3 1228.2h1.5M940.3 1247.7h1.5M893.9 1192.9h1.5M894.4 1160h1.5M963.8 1230.5h1.5M982.5 1232.3h1.5M903.1 1154.5h1.5M921.5 1237.7h1.5M1040.1 1175.9h1.5M947.9 1147.8h1.5M961.6 1110h1.5M1002.2 1147.6h1.5M924.5 1244h1.5M1017.2 1154.4h1.5M903.3 1225.6h1.5M932.8 1250.6h1.5M975.2 1151.1h1.5M909.1 1252.7h1.5M897.7 1202.8h1.5M965.1 1143h1.5M977.6 1213.2h1.5M979.8 1213.4h1.5M935.2 1252.6h1.5M983.5 1215.8h1.5M967.1 1233.5h1.5M908.7 1228.9h1.5M1014.4 1160.1h1.5M961.5 1151.6h1.5M956.2 1246.2h1.5M1057.2 1186.9h1.5M1040.2 1179.3h1.5M1001.7 1144.9h1.5M984.4 1155.6h1.5M887.7 1172.2h1.5M913.3 1151.9h1.5M955.4 1154.2h1.5M961.6 1139.7h1.5M931.5 1147.8h1.5M980.2 1234h1.5M945.9 1245.6h1.5M924.4 1262h1.5M922.9 1247.4h1.5M992.7 1152.5h1.5M897.8 1195.7h1.5M894.1 1228.8h1.5M897.2 1228.2h1.5M966.8 1108.2h1.5M956.9 1242.7h1.5M988.7 1212.2h1.5M1009.3 1155h1.5M1027.1 1195h1.5M962 1240.1h1.5M892 1175.2h1.5M1047.3 1194.7h1.5M1006.3 1210.6h1.5M1047.5 1173.4h1.5M927.1 1242.5h1.5M1012.7 1160.1h1.5M949.7 1125.4h1.5M986.5 1207.6h1.5M1034.6 1192.1h1.5M973 1248.2h1.5M924.5 1132.5h1.5M894.6 1242.7h1.5M895.8 1187.5h1.5M942.8 1253.8h1.5M999.4 1155.3h1.5M898.8 1207.7h1.5M953.3 1149h1.5M934.6 1242.4h1.5M980.6 1235.1h1.5M1001.9 1207.9h1.5M954.7 1156.3h1.5M992.2 1208.2h1.5M962.3 1152.7h1.5M1012.4 1200.4h1.5M951.1 1145.7h1.5M990.6 1152.6h1.5M914 1255.8h1.5M954.5 1249.9h1.5M1044.8 1164.2h1.5M897.9 1233.7h1.5M963 1233.9h1.5M1028.1 1142.3h1.5M969.9 1149.5h1.5M991.6 1214.9h1.5M936.8 1125.3h1.5M984.1 1209.1h1.5M927.4 1118h1.5M1023.8 1163.5h1.5M991.3 1153.4h1.5M1034.8 1186.5h1.5M935.7 1255h1.5M980.3 1154.5h1.5M895.1 1187.3h1.5M908.9 1240.6h1.5M937.5 1145.9h1.5M930 1249.2h1.5M1032.7 1186.7h1.5M1026.2 1208h1.5M1050.5 1148.3h1.5M890.1 1248.6h1.5M984.9 1209.1h1.5M904.3 1239.5h1.5M905.3 1251.2h1.5M936.7 1243.6h1.5M909.1 1145.7h1.5M961.1 1155h1.5M912.9 1140.9h1.5M927.4 1255.7h1.5M933.4 1248.6h1.5M968.1 1235.6h1.5M980.5 1216.2h1.5M960.3 1149.8h1.5M937.5 1244.8h1.5M895.1 1173.2h1.5M1013.7 1201.1h1.5M967.6 1158.6h1.5M1032.8 1189.2h1.5M1038.2 1185.4h1.5M1013.2 1158.4h1.5M899.5 1163.4h1.5M1005.3 1217.3h1.5M998.6 1239.1h1.5M899.4 1157.4h1.5M999.4 1245.1h1.5M1012.9 1155.6h1.5M1026.3 1191.3h1.5M1019.8 1158.8h1.5M1000.8 1216.5h1.5M980.2 1212.3h1.5M1037.9 1168.3h1.5M1040.6 1184.5h1.5M1032.3 1151.7h1.5M1037.8 1170.5h1.5M896.7 1208.5h1.5M1028.7 1167.2h1.5M936 1145h1.5M998.3 1204.5h1.5M1043.4 1212.7h1.5M1051.3 1156.6h1.5M1037.1 1190.7h1.5M960.2 1159h1.5M1041.3 1174.9h1.5M892.5 1159.8h1.5M921.3 1240h1.5M913.5 1232.9h1.5M916.4 1146.6h1.5M980.7 1209.6h1.5M893.9 1218.4h1.5M1037.3 1198.8h1.5M1031 1154.1h1.5M982.7 1155.4h1.5M1034.6 1184.3h1.5M932.1 1272.3h1.5M892.1 1172.7h1.5M889.8 1173h1.5M1021.8 1161.2h1.5M888.1 1236.4h1.5M949.7 1252.4h1.5M985.6 1219.6h1.5M1070.7 1180.5h1.5M908.2 1237.5h1.5M989.2 1219.2h1.5M895.8 1190.3h1.5M934.3 1254.9h1.5M976.7 1158.5h1.5M949.3 1243.5h1.5M948.3 1146.8h1.5M1038.5 1172.4h1.5M912 1153.2h1.5M959.6 1144.1h1.5M891.8 1228.9h1.5M1034.4 1187.1h1.5M913.1 1241.5h1.5M988.5 1214.3h1.5M908.6 1151.5h1.5M1007.6 1152.8h1.5M997.4 1146h1.5M898.5 1231.5h1.5M914.8 1230.5h1.5M1046.3 1192.5h1.5M932.1 1268.6h1.5M964.9 1235.1h1.5M892 1192.1h1.5M934.8 1144.2h1.5M1028.9 1205h1.5M901.1 1219.5h1.5M998.3 1152h1.5M970.1 1156.4h1.5M956.7 1153.9h1.5M952.4 1154.7h1.5M918.9 1144.2h1.5M951.9 1245.8h1.5M898.4 1212.8h1.5M905.5 1243.7h1.5M895.9 1199.7h1.5M1035.4 1175.5h1.5M1003.5 1233.4h1.5M924.9 1145.5h1.5M967.1 1229.8h1.5M977.7 1218.4h1.5M982.4 1214.7h1.5M1025.6 1191.8h1.5M911.9 1233.3h1.5M971.8 1151.7h1.5M911.8 1234.2h1.5M913.8 1239.7h1.5M1028.2 1164.7h1.5M895.6 1200.9h1.5M891.1 1227.8h1.5M1017.8 1162.4h1.5M897.5 1231.4h1.5M898.9 1210.7h1.5M914.5 1148.8h1.5M994.2 1123.1h1.5M896.4 1210.1h1.5M998.8 1204.5h1.5M1036.6 1192.4h1.5M892.7 1200.1h1.5M962.3 1238.3h1.5M941.2 1149.5h1.5M916.5 1150.8h1.5M957.3 1244h1.5M897.6 1197.7h1.5M1027.8 1190.1h1.5M961.2 1158.1h1.5M987.2 1207.7h1.5M966.3 1143.6h1.5M930.9 1136.2h1.5M969.7 1141.7h1.5M944.5 1119.4h1.5M1030.7 1190.1h1.5M935.3 1253.4h1.5M944.7 1138.7h1.5M896.1 1208h1.5M976.7 1138.6h1.5M899.6 1136.5h1.5M935.5 1141.5h1.5M1020.1 1212.1h1.5M1008.7 1207.7h1.5M959.8 1264.7h1.5M892.9 1201h1.5M951.8 1149.6h1.5M948 1141.2h1.5M896.4 1128.9h1.5M894.4 1151.2h1.5M1029.7 1198.6h1.5M929.5 1131.4h1.5M909 1153.7h1.5M1029.1 1154.1h1.5M929 1243h1.5M950.1 1248.3h1.5M958.6 1246.1h1.5M960.8 1158.1h1.5M949.6 1256.4h1.5M935.8 1145.1h1.5M938.2 1149.8h1.5M947.9 1144.5h1.5M912.4 1246h1.5M955 1240.8h1.5M958.5 1158.2h1.5M971.1 1112.5h1.5M939 1250.1h1.5M970.4 1224.8h1.5M964.5 1230.4h1.5M905.1 1249.1h1.5M975 1216.3h1.5M918.7 1250.1h1.5M985.2 1215.6h1.5M1007.6 1148.9h1.5M1014.7 1159.4h1.5M978.7 1238.7h1.5M954 1241.5h1.5M1012 1159.2h1.5M898.3 1156.5h1.5M892 1193.3h1.5M971.5 1142.6h1.5M1007.1 1203.5h1.5M1006 1219.5h1.5M920.5 1240.5h1.5M959.8 1236.9h1.5M1038 1193.4h1.5M949.1 1241.2h1.5M912.7 1256.6h1.5M888 1176.7h1.5M897.4 1209.7h1.5M1023.3 1214.6h1.5M939.8 1141.9h1.5M917.7 1144h1.5M891.7 1209.8h1.5M892 1204.4h1.5M1011 1205.7h1.5M1044.4 1216.4h1.5M1026.8 1234.1h1.5M1016.7 1213.3h1.5M1025 1225.4h1.5M1002.7 1209.7h1.5M1046.6 1200.7h1.5M1030.5 1197.8h1.5M1022.1 1213h1.5M1028.3 1213.1h1.5M1045.2 1212.2h1.5M1027.7 1227.3h1.5M1028.6 1224h1.5M1006.7 1212.1h1.5M1032.3 1224.7h1.5M1042.5 1232.9h1.5M1042.7 1215.1h1.5M1043.7 1192h1.5M1033.2 1232h1.5M1038 1194h1.5M1026.5 1203.4h1.5M1038.2 1213.1h1.5M1030.9 1226.4h1.5M1025.5 1191.9h1.5M1035.5 1227.6h1.5M1028.3 1215.9h1.5M1027.3 1207.5h1.5M1022.3 1212.6h1.5M1025.7 1198.8h1.5M1002.4 1211h1.5M1028.4 1219.9h1.5M1053.3 1211.2h1.5M1032.1 1215.1h1.5M1014.8 1234.7h1.5M1043.9 1227.4h1.5M1035.6 1204.7h1.5M1027.7 1196.9h1.5M1043.8 1205.8h1.5M1038.3 1208.3h1.5M1038.1 1176h1.5M1024.3 1205.2h1.5M1042 1210.5h1.5M1024.2 1225.4h1.5M1041.9 1209.9h1.5M1014.3 1202.3h1.5M1040.8 1210.1h1.5M1015.5 1216.9h1.5M1024.5 1212.4h1.5M1020.1 1202h1.5M1061.2 1200.8h1.5M1029.5 1203.7h1.5M1022.5 1201.1h1.5M1016.2 1216.1h1.5M1020.7 1196.4h1.5M1016 1213.7h1.5M1042 1226.9h1.5M1033.8 1211.5h1.5M925.6 1145.1h1.5M971.1 1143.9h1.5M970.5 1157.6h1.5M958.2 1126.7h1.5M991.6 1158.2h1.5M929.6 1145.1h1.5M985.2 1153.3h1.5M994.2 1155h1.5M997.2 1160.4h1.5M905.4 1150.3h1.5M964.2 1153.7h1.5M967.1 1159.1h1.5M988.7 1157.6h1.5M916.6 1146.6h1.5M955.7 1156.2h1.5M918.9 1137.9h1.5M971.4 1153.5h1.5M990.8 1146.3h1.5M1006 1216h1.5M894.9 1258.8h1.5M983.8 1253.3h1.5M983.9 1221.8h1.5M932.3 1271.6h1.5M971.3 1251.2h1.5M1001.3 1263.2h1.5M964.9 1250.1h1.5M939.4 1256.6h1.5M1063.5 1243.4h1.5M1040.2 1248.9h1.5M950.3 1255.4h1.5M998.9 1250.8h1.5M900.4 1250h1.5M893.9 1257.8h1.5M1006 1262.8h1.5M1029.8 1254h1.5M974.7 1238.9h1.5M1002.3 1250.4h1.5M1010.5 1219.9h1.5M960.5 1245.3h1.5M996.5 1236.8h1.5M960 1256.6h1.5M1009.4 1229.5h1.5M913.6 1264.9h1.5M974.7 1238.2h1.5" fill="none" stroke="#000" stroke-width="1.5"/>
</g>
<rect x="887.4" y="1087.1" width="188" height="187.7" fill="none" stroke="#222" stroke-width="1.3"/>
<path d="M1065 1233V1197.3H1012.2V1256.1H1027.5" fill="none" stroke="#1c1ce0" stroke-width="1.3"/>
<text x="1029.3" y="1252.2" font-size="15.8" text-anchor="start" fill="#1c1ce0"  stroke="#1c1ce0">0.674</text>
<text transform="translate(878.5 1180.4) rotate(-90)" font-size="16.5" text-anchor="middle" fill="#111" stroke="#111">CD38</text>
<text x="981.4" y="1295.2" font-size="16.5" text-anchor="middle" fill="#111"  stroke="#111">CD34</text>
</g>
</svg>
</body></html>
